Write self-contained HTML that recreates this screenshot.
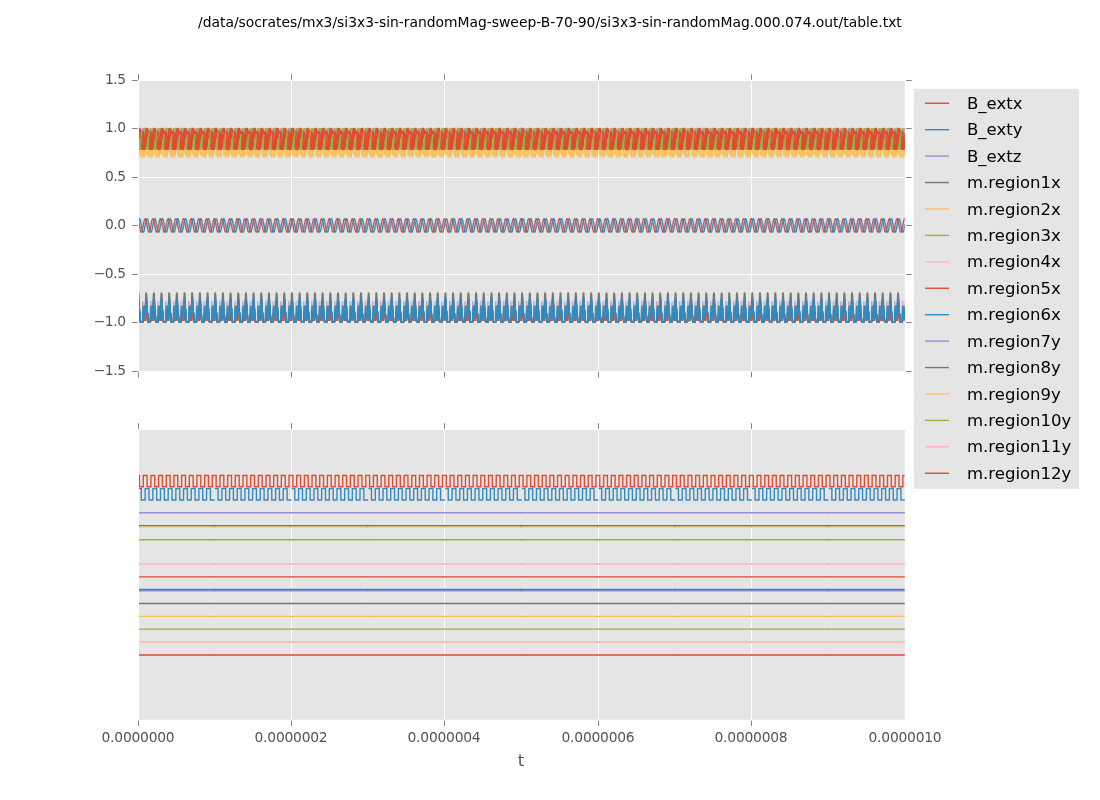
<!DOCTYPE html>
<html><head><meta charset="utf-8"><title>table.txt</title>
<style>html,body{margin:0;padding:0;background:#fff}svg{display:block}text{font-family:"DejaVu Sans","Liberation Sans",sans-serif}</style></head><body>
<svg width="1100" height="800" viewBox="0 0 1100 800">
<rect width="1100" height="800" fill="#fff"/>
<defs><clipPath id="c1"><rect x="139" y="80" width="765.75" height="291"/></clipPath><clipPath id="c2"><rect x="139" y="429" width="765.75" height="291"/></clipPath></defs>
<text x="198" y="26.6" font-size="13.889" textLength="703.8" lengthAdjust="spacing" fill="#000">/data/socrates/mx3/si3x3-sin-randomMag-sweep-B-70-90/si3x3-sin-randomMag.000.074.out/table.txt</text>
<rect x="139" y="81" width="765.75" height="290" fill="#E5E5E5"/>
<rect x="291.0" y="81" width="1" height="290" fill="#fff"/>
<rect x="444.0" y="81" width="1" height="290" fill="#fff"/>
<rect x="598.0" y="81" width="1" height="290" fill="#fff"/>
<rect x="751.0" y="81" width="1" height="290" fill="#fff"/>
<rect x="139" y="128.0" width="765.75" height="1" fill="#fff"/>
<rect x="139" y="177.0" width="765.75" height="1" fill="#fff"/>
<rect x="139" y="225.0" width="765.75" height="1" fill="#fff"/>
<rect x="139" y="274.0" width="765.75" height="1" fill="#fff"/>
<rect x="139" y="322.0" width="765.75" height="1" fill="#fff"/>
<rect x="138.0" y="74.25" width="1" height="5.5" fill="#555" fill-opacity="0.72"/>
<rect x="138.0" y="371.75" width="1" height="5.5" fill="#555" fill-opacity="0.72"/>
<rect x="291.0" y="74.25" width="1" height="5.5" fill="#555" fill-opacity="0.72"/>
<rect x="291.0" y="371.75" width="1" height="5.5" fill="#555" fill-opacity="0.72"/>
<rect x="444.0" y="74.25" width="1" height="5.5" fill="#555" fill-opacity="0.72"/>
<rect x="444.0" y="371.75" width="1" height="5.5" fill="#555" fill-opacity="0.72"/>
<rect x="598.0" y="74.25" width="1" height="5.5" fill="#555" fill-opacity="0.72"/>
<rect x="598.0" y="371.75" width="1" height="5.5" fill="#555" fill-opacity="0.72"/>
<rect x="751.0" y="74.25" width="1" height="5.5" fill="#555" fill-opacity="0.72"/>
<rect x="751.0" y="371.75" width="1" height="5.5" fill="#555" fill-opacity="0.72"/>
<rect x="132.1" y="80.0" width="5.6" height="1" fill="#555" fill-opacity="0.72"/>
<rect x="906.1" y="80.0" width="5.6" height="1" fill="#555" fill-opacity="0.72"/>
<rect x="132.1" y="128.0" width="5.6" height="1" fill="#555" fill-opacity="0.72"/>
<rect x="906.1" y="128.0" width="5.6" height="1" fill="#555" fill-opacity="0.72"/>
<rect x="132.1" y="177.0" width="5.6" height="1" fill="#555" fill-opacity="0.72"/>
<rect x="906.1" y="177.0" width="5.6" height="1" fill="#555" fill-opacity="0.72"/>
<rect x="132.1" y="225.0" width="5.6" height="1" fill="#555" fill-opacity="0.72"/>
<rect x="906.1" y="225.0" width="5.6" height="1" fill="#555" fill-opacity="0.72"/>
<rect x="132.1" y="274.0" width="5.6" height="1" fill="#555" fill-opacity="0.72"/>
<rect x="906.1" y="274.0" width="5.6" height="1" fill="#555" fill-opacity="0.72"/>
<rect x="132.1" y="322.0" width="5.6" height="1" fill="#555" fill-opacity="0.72"/>
<rect x="906.1" y="322.0" width="5.6" height="1" fill="#555" fill-opacity="0.72"/>
<rect x="132.1" y="371.0" width="5.6" height="1" fill="#555" fill-opacity="0.72"/>
<rect x="906.1" y="371.0" width="5.6" height="1" fill="#555" fill-opacity="0.72"/>
<text x="125.6" y="83.6" font-size="13.889" text-anchor="end" letter-spacing="-0.45" fill="#555">1.5</text>
<text x="125.6" y="131.6" font-size="13.889" text-anchor="end" letter-spacing="-0.45" fill="#555">1.0</text>
<text x="125.6" y="180.6" font-size="13.889" text-anchor="end" letter-spacing="-0.45" fill="#555">0.5</text>
<text x="125.6" y="228.6" font-size="13.889" text-anchor="end" letter-spacing="-0.45" fill="#555">0.0</text>
<text x="125.6" y="277.6" font-size="13.889" text-anchor="end" letter-spacing="-0.45" fill="#555">−0.5</text>
<text x="125.6" y="325.6" font-size="13.889" text-anchor="end" letter-spacing="-0.45" fill="#555">−1.0</text>
<text x="125.6" y="374.6" font-size="13.889" text-anchor="end" letter-spacing="-0.45" fill="#555">−1.5</text>
<rect x="139" y="430" width="765.75" height="289.75" fill="#E5E5E5"/>
<rect x="291.0" y="430" width="1" height="289.75" fill="#fff"/>
<rect x="444.0" y="430" width="1" height="289.75" fill="#fff"/>
<rect x="598.0" y="430" width="1" height="289.75" fill="#fff"/>
<rect x="751.0" y="430" width="1" height="289.75" fill="#fff"/>
<rect x="138.0" y="423.25" width="1" height="5.5" fill="#555" fill-opacity="0.72"/>
<rect x="138.0" y="720.5" width="1" height="5.5" fill="#555" fill-opacity="0.72"/>
<rect x="291.0" y="423.25" width="1" height="5.5" fill="#555" fill-opacity="0.72"/>
<rect x="291.0" y="720.5" width="1" height="5.5" fill="#555" fill-opacity="0.72"/>
<rect x="444.0" y="423.25" width="1" height="5.5" fill="#555" fill-opacity="0.72"/>
<rect x="444.0" y="720.5" width="1" height="5.5" fill="#555" fill-opacity="0.72"/>
<rect x="598.0" y="423.25" width="1" height="5.5" fill="#555" fill-opacity="0.72"/>
<rect x="598.0" y="720.5" width="1" height="5.5" fill="#555" fill-opacity="0.72"/>
<rect x="751.0" y="423.25" width="1" height="5.5" fill="#555" fill-opacity="0.72"/>
<rect x="751.0" y="720.5" width="1" height="5.5" fill="#555" fill-opacity="0.72"/>
<text x="101.5" y="742.3" font-size="13.889" textLength="73.2" lengthAdjust="spacing" fill="#555">0.0000000</text>
<text x="254.5" y="742.3" font-size="13.889" textLength="73.2" lengthAdjust="spacing" fill="#555">0.0000002</text>
<text x="407.5" y="742.3" font-size="13.889" textLength="73.2" lengthAdjust="spacing" fill="#555">0.0000004</text>
<text x="561.5" y="742.3" font-size="13.889" textLength="73.2" lengthAdjust="spacing" fill="#555">0.0000006</text>
<text x="714.5" y="742.3" font-size="13.889" textLength="73.2" lengthAdjust="spacing" fill="#555">0.0000008</text>
<text x="868.5" y="742.3" font-size="13.889" textLength="73.2" lengthAdjust="spacing" fill="#555">0.0000010</text>
<text x="521" y="765.5" font-size="16.667" text-anchor="middle" fill="#555">t</text>
<defs><path id="p0" d="M-0.2 218.8L0 218.7L0.2 218.8L0.5 219.2L0.7 219.8L1 220.7L1.2 221.7L1.4 222.9L1.7 224.1L1.9 225.4L2.2 226.8L2.4 228L2.6 229.2L2.9 230.2L3.1 231.1L3.4 231.7L3.6 232.1L3.8 232.2L4.1 232.1L4.3 231.7L4.6 231.1L4.8 230.2L5 229.2L5.3 228L5.5 226.8L5.8 225.4L6 224.1L6.2 222.9L6.5 221.7L6.7 220.7L7 219.8L7.2 219.2L7.4 218.8L7.7 218.7L7.9 218.8L8.2 219.2L8.4 219.8L8.6 220.7L8.9 221.7L9.1 222.9L9.4 224.1L9.6 225.4L9.8 226.8L10.1 228L10.3 229.2L10.5 230.2L10.8 231.1L11 231.7L11.3 232.1L11.5 232.2L11.7 232.1L12 231.7L12.2 231.1L12.5 230.2L12.7 229.2L12.9 228L13.2 226.8L13.4 225.4L13.7 224.1L13.9 222.9L14.1 221.7L14.4 220.7L14.6 219.8L14.9 219.2L15.1 218.8L15.3 218.7L15.6 218.8L15.8 219.2L16.1 219.8L16.3 220.7L16.5 221.7L16.8 222.9L17 224.1L17.3 225.4L17.5 226.8L17.7 228L18 229.2L18.2 230.2L18.5 231.1L18.7 231.7L18.9 232.1L19.2 232.2L19.4 232.1L19.7 231.7L19.9 231.1L20.1 230.2L20.4 229.2L20.6 228L20.9 226.8L21.1 225.5L21.3 224.1L21.6 222.9L21.8 221.7L22.1 220.7L22.3 219.8L22.5 219.2L22.8 218.8L23 218.7L23.3 218.8L23.5 219.2L23.7 219.8L24 220.7L24.2 221.7L24.5 222.9L24.7 224.1L24.9 225.4L25.2 226.8L25.4 228L25.7 229.2L25.9 230.2L26.1 231.1L26.4 231.7L26.6 232.1L26.9 232.2L27.1 232.1L27.3 231.7L27.6 231.1L27.8 230.2L28.1 229.2L28.3 228L28.5 226.8L28.8 225.5L29 224.1L29.3 222.9L29.5 221.7L29.7 220.7L30 219.8L30.2 219.2L30.5 218.8L30.7 218.7L30.9 218.8L31.2 219.2L31.4 219.8L31.6 220.7L31.9 221.7L32.1 222.9L32.4 224.1L32.6 225.4L32.8 226.8L33.1 228L33.3 229.2L33.6 230.2L33.8 231.1L34 231.7L34.3 232.1L34.5 232.2L34.8 232.1L35 231.7L35.2 231.1L35.5 230.2L35.7 229.2L36 228L36.2 226.8L36.4 225.5L36.7 224.1L36.9 222.9L37.2 221.7L37.4 220.7L37.6 219.8L37.9 219.2L38.1 218.8L38.4 218.7L38.6 218.8L38.8 219.2L39.1 219.8L39.3 220.7L39.6 221.7L39.8 222.9L40 224.1L40.3 225.4L40.5 226.8L40.8 228L41 229.2L41.2 230.2L41.5 231.1L41.7 231.7L42 232.1L42.2 232.2L42.4 232.1L42.7 231.7L42.9 231.1L43.2 230.2L43.4 229.2L43.6 228L43.9 226.8L44.1 225.5L44.4 224.1L44.6 222.9L44.8 221.7L45.1 220.7L45.3 219.8L45.6 219.2L45.8 218.8L46 218.7L46.3 218.8L46.5 219.2L46.8 219.8L47 220.7L47.2 221.7L47.5 222.9L47.7 224.1L48 225.4L48.2 226.8L48.4 228L48.7 229.2L48.9 230.2L49.2 231.1L49.4 231.7L49.6 232.1L49.9 232.2L50.1 232.1L50.4 231.7L50.6 231.1L50.8 230.2L51.1 229.2L51.3 228L51.5 226.8L51.8 225.5L52 224.1L52.3 222.9L52.5 221.7L52.7 220.7L53 219.8L53.2 219.2L53.5 218.8L53.7 218.7L53.9 218.8L54.2 219.2L54.4 219.8L54.7 220.7L54.9 221.7L55.1 222.9L55.4 224.1L55.6 225.4L55.9 226.8L56.1 228L56.3 229.2L56.6 230.2L56.8 231.1L57.1 231.7L57.3 232.1L57.5 232.2L57.8 232.1L58 231.7L58.3 231.1L58.5 230.2L58.7 229.2L59 228L59.2 226.8L59.5 225.5L59.7 224.1L59.9 222.9L60.2 221.7L60.4 220.7L60.7 219.8L60.9 219.2L61.1 218.8L61.4 218.7L61.6 218.8L61.9 219.2L62.1 219.8L62.3 220.7L62.6 221.7L62.8 222.9L63.1 224.1L63.3 225.4L63.5 226.8L63.8 228L64 229.2L64.3 230.2L64.5 231.1L64.7 231.7L65 232.1L65.2 232.2L65.5 232.1L65.7 231.7L65.9 231.1L66.2 230.2L66.4 229.2L66.7 228L66.9 226.8L67.1 225.5L67.4 224.1L67.6 222.9L67.9 221.7L68.1 220.7L68.3 219.8L68.6 219.2L68.8 218.8L69.1 218.7L69.3 218.8L69.5 219.2L69.8 219.8L70 220.7L70.3 221.7L70.5 222.9L70.7 224.1L71 225.4L71.2 226.8L71.5 228L71.7 229.2L71.9 230.2L72.2 231.1L72.4 231.7L72.6 232.1L72.9 232.2L73.1 232.1L73.4 231.7L73.6 231.1L73.8 230.2L74.1 229.2L74.3 228L74.6 226.8L74.8 225.5L75 224.1L75.3 222.9L75.5 221.7L75.8 220.7L76 219.8L76.2 219.2L76.5 218.8L76.7 218.7L77 218.8"/><path id="p1" d="M-0.2 226.8L0 225.4L0.2 224.1L0.5 222.9L0.7 221.7L1 220.7L1.2 219.8L1.4 219.2L1.7 218.8L1.9 218.7L2.2 218.8L2.4 219.2L2.6 219.8L2.9 220.7L3.1 221.7L3.4 222.9L3.6 224.1L3.8 225.4L4.1 226.8L4.3 228L4.6 229.2L4.8 230.2L5 231.1L5.3 231.7L5.5 232.1L5.8 232.2L6 232.1L6.2 231.7L6.5 231.1L6.7 230.2L7 229.2L7.2 228L7.4 226.8L7.7 225.4L7.9 224.1L8.2 222.9L8.4 221.7L8.6 220.7L8.9 219.8L9.1 219.2L9.4 218.8L9.6 218.7L9.8 218.8L10.1 219.2L10.3 219.8L10.5 220.7L10.8 221.7L11 222.9L11.3 224.1L11.5 225.4L11.7 226.8L12 228L12.2 229.2L12.5 230.2L12.7 231.1L12.9 231.7L13.2 232.1L13.4 232.2L13.7 232.1L13.9 231.7L14.1 231.1L14.4 230.2L14.6 229.2L14.9 228L15.1 226.8L15.3 225.4L15.6 224.1L15.8 222.9L16.1 221.7L16.3 220.7L16.5 219.8L16.8 219.2L17 218.8L17.3 218.7L17.5 218.8L17.7 219.2L18 219.8L18.2 220.7L18.5 221.7L18.7 222.9L18.9 224.1L19.2 225.4L19.4 226.8L19.7 228L19.9 229.2L20.1 230.2L20.4 231.1L20.6 231.7L20.9 232.1L21.1 232.2L21.3 232.1L21.6 231.7L21.8 231.1L22.1 230.2L22.3 229.2L22.5 228L22.8 226.8L23 225.4L23.3 224.1L23.5 222.9L23.7 221.7L24 220.7L24.2 219.8L24.5 219.2L24.7 218.8L24.9 218.7L25.2 218.8L25.4 219.2L25.7 219.8L25.9 220.7L26.1 221.7L26.4 222.9L26.6 224.1L26.9 225.4L27.1 226.8L27.3 228L27.6 229.2L27.8 230.2L28.1 231.1L28.3 231.7L28.5 232.1L28.8 232.2L29 232.1L29.3 231.7L29.5 231.1L29.7 230.2L30 229.2L30.2 228L30.5 226.8L30.7 225.4L30.9 224.1L31.2 222.9L31.4 221.7L31.6 220.7L31.9 219.8L32.1 219.2L32.4 218.8L32.6 218.7L32.8 218.8L33.1 219.2L33.3 219.8L33.6 220.7L33.8 221.7L34 222.9L34.3 224.1L34.5 225.4L34.8 226.8L35 228L35.2 229.2L35.5 230.2L35.7 231.1L36 231.7L36.2 232.1L36.4 232.2L36.7 232.1L36.9 231.7L37.2 231.1L37.4 230.2L37.6 229.2L37.9 228L38.1 226.8L38.4 225.4L38.6 224.1L38.8 222.9L39.1 221.7L39.3 220.7L39.6 219.8L39.8 219.2L40 218.8L40.3 218.7L40.5 218.8L40.8 219.2L41 219.8L41.2 220.7L41.5 221.7L41.7 222.9L42 224.1L42.2 225.4L42.4 226.8L42.7 228L42.9 229.2L43.2 230.2L43.4 231.1L43.6 231.7L43.9 232.1L44.1 232.2L44.4 232.1L44.6 231.7L44.8 231.1L45.1 230.2L45.3 229.2L45.6 228L45.8 226.8L46 225.4L46.3 224.1L46.5 222.9L46.8 221.7L47 220.7L47.2 219.8L47.5 219.2L47.7 218.8L48 218.7L48.2 218.8L48.4 219.2L48.7 219.8L48.9 220.7L49.2 221.7L49.4 222.9L49.6 224.1L49.9 225.4L50.1 226.8L50.4 228L50.6 229.2L50.8 230.2L51.1 231.1L51.3 231.7L51.5 232.1L51.8 232.2L52 232.1L52.3 231.7L52.5 231.1L52.7 230.2L53 229.2L53.2 228L53.5 226.8L53.7 225.4L53.9 224.1L54.2 222.9L54.4 221.7L54.7 220.7L54.9 219.8L55.1 219.2L55.4 218.8L55.6 218.7L55.9 218.8L56.1 219.2L56.3 219.8L56.6 220.7L56.8 221.7L57.1 222.9L57.3 224.1L57.5 225.4L57.8 226.8L58 228L58.3 229.2L58.5 230.2L58.7 231.1L59 231.7L59.2 232.1L59.5 232.2L59.7 232.1L59.9 231.7L60.2 231.1L60.4 230.2L60.7 229.2L60.9 228L61.1 226.8L61.4 225.4L61.6 224.1L61.9 222.9L62.1 221.7L62.3 220.7L62.6 219.8L62.8 219.2L63.1 218.8L63.3 218.7L63.5 218.8L63.8 219.2L64 219.8L64.3 220.7L64.5 221.7L64.7 222.9L65 224.1L65.2 225.4L65.5 226.8L65.7 228L65.9 229.2L66.2 230.2L66.4 231.1L66.7 231.7L66.9 232.1L67.1 232.2L67.4 232.1L67.6 231.7L67.9 231.1L68.1 230.2L68.3 229.2L68.6 228L68.8 226.8L69.1 225.5L69.3 224.1L69.5 222.9L69.8 221.7L70 220.7L70.3 219.8L70.5 219.2L70.7 218.8L71 218.7L71.2 218.8L71.5 219.2L71.7 219.8L71.9 220.7L72.2 221.7L72.4 222.9L72.6 224.1L72.9 225.4L73.1 226.8L73.4 228L73.6 229.2L73.8 230.2L74.1 231.1L74.3 231.7L74.6 232.1L74.8 232.2L75 232.1L75.3 231.7L75.5 231.1L75.8 230.2L76 229.2L76.2 228L76.5 226.8L76.7 225.5L77 224.1"/><path id="p2" d="M-0.2 225.4L0 225.4L0.2 225.4L0.5 225.4L0.7 225.4L1 225.4L1.2 225.4L1.4 225.4L1.7 225.4L1.9 225.4L2.2 225.4L2.4 225.4L2.6 225.4L2.9 225.4L3.1 225.4L3.4 225.4L3.6 225.4L3.8 225.4L4.1 225.4L4.3 225.4L4.6 225.4L4.8 225.4L5 225.4L5.3 225.4L5.5 225.4L5.8 225.4L6 225.4L6.2 225.4L6.5 225.4L6.7 225.4L7 225.4L7.2 225.4L7.4 225.4L7.7 225.4L7.9 225.4L8.2 225.4L8.4 225.4L8.6 225.4L8.9 225.4L9.1 225.4L9.4 225.4L9.6 225.4L9.8 225.4L10.1 225.4L10.3 225.4L10.5 225.4L10.8 225.4L11 225.4L11.3 225.4L11.5 225.4L11.7 225.4L12 225.4L12.2 225.4L12.5 225.4L12.7 225.4L12.9 225.4L13.2 225.4L13.4 225.4L13.7 225.4L13.9 225.4L14.1 225.4L14.4 225.4L14.6 225.4L14.9 225.4L15.1 225.4L15.3 225.4L15.6 225.4L15.8 225.4L16.1 225.4L16.3 225.4L16.5 225.4L16.8 225.4L17 225.4L17.3 225.4L17.5 225.4L17.7 225.4L18 225.4L18.2 225.4L18.5 225.4L18.7 225.4L18.9 225.4L19.2 225.4L19.4 225.4L19.7 225.4L19.9 225.4L20.1 225.4L20.4 225.4L20.6 225.4L20.9 225.4L21.1 225.4L21.3 225.4L21.6 225.4L21.8 225.4L22.1 225.4L22.3 225.4L22.5 225.4L22.8 225.4L23 225.4L23.3 225.4L23.5 225.4L23.7 225.4L24 225.4L24.2 225.4L24.5 225.4L24.7 225.4L24.9 225.4L25.2 225.4L25.4 225.4L25.7 225.4L25.9 225.4L26.1 225.4L26.4 225.4L26.6 225.4L26.9 225.4L27.1 225.4L27.3 225.4L27.6 225.4L27.8 225.4L28.1 225.4L28.3 225.4L28.5 225.4L28.8 225.4L29 225.4L29.3 225.4L29.5 225.4L29.7 225.4L30 225.4L30.2 225.4L30.5 225.4L30.7 225.4L30.9 225.4L31.2 225.4L31.4 225.4L31.6 225.4L31.9 225.4L32.1 225.4L32.4 225.4L32.6 225.4L32.8 225.4L33.1 225.4L33.3 225.4L33.6 225.4L33.8 225.4L34 225.4L34.3 225.4L34.5 225.4L34.8 225.4L35 225.4L35.2 225.4L35.5 225.4L35.7 225.4L36 225.4L36.2 225.4L36.4 225.4L36.7 225.4L36.9 225.4L37.2 225.4L37.4 225.4L37.6 225.4L37.9 225.4L38.1 225.4L38.4 225.4L38.6 225.4L38.8 225.4L39.1 225.4L39.3 225.4L39.6 225.4L39.8 225.4L40 225.4L40.3 225.4L40.5 225.4L40.8 225.4L41 225.4L41.2 225.4L41.5 225.4L41.7 225.4L42 225.4L42.2 225.4L42.4 225.4L42.7 225.4L42.9 225.4L43.2 225.4L43.4 225.4L43.6 225.4L43.9 225.4L44.1 225.4L44.4 225.4L44.6 225.4L44.8 225.4L45.1 225.4L45.3 225.4L45.6 225.4L45.8 225.4L46 225.4L46.3 225.4L46.5 225.4L46.8 225.4L47 225.4L47.2 225.4L47.5 225.4L47.7 225.4L48 225.4L48.2 225.4L48.4 225.4L48.7 225.4L48.9 225.4L49.2 225.4L49.4 225.4L49.6 225.4L49.9 225.4L50.1 225.4L50.4 225.4L50.6 225.4L50.8 225.4L51.1 225.4L51.3 225.4L51.5 225.4L51.8 225.4L52 225.4L52.3 225.4L52.5 225.4L52.7 225.4L53 225.4L53.2 225.4L53.5 225.4L53.7 225.4L53.9 225.4L54.2 225.4L54.4 225.4L54.7 225.4L54.9 225.4L55.1 225.4L55.4 225.4L55.6 225.4L55.9 225.4L56.1 225.4L56.3 225.4L56.6 225.4L56.8 225.4L57.1 225.4L57.3 225.4L57.5 225.4L57.8 225.4L58 225.4L58.3 225.4L58.5 225.4L58.7 225.4L59 225.4L59.2 225.4L59.5 225.4L59.7 225.4L59.9 225.4L60.2 225.4L60.4 225.4L60.7 225.4L60.9 225.4L61.1 225.4L61.4 225.4L61.6 225.4L61.9 225.4L62.1 225.4L62.3 225.4L62.6 225.4L62.8 225.4L63.1 225.4L63.3 225.4L63.5 225.4L63.8 225.4L64 225.4L64.3 225.4L64.5 225.4L64.7 225.4L65 225.4L65.2 225.4L65.5 225.4L65.7 225.4L65.9 225.4L66.2 225.4L66.4 225.4L66.7 225.4L66.9 225.4L67.1 225.4L67.4 225.4L67.6 225.4L67.9 225.4L68.1 225.4L68.3 225.4L68.6 225.4L68.8 225.4L69.1 225.4L69.3 225.4L69.5 225.4L69.8 225.4L70 225.4L70.3 225.4L70.5 225.4L70.7 225.4L71 225.4L71.2 225.4L71.5 225.4L71.7 225.4L71.9 225.4L72.2 225.4L72.4 225.4L72.6 225.4L72.9 225.4L73.1 225.4L73.4 225.4L73.6 225.4L73.8 225.4L74.1 225.4L74.3 225.4L74.6 225.4L74.8 225.4L75 225.4L75.3 225.4L75.5 225.4L75.8 225.4L76 225.4L76.2 225.4L76.5 225.4L76.7 225.4L77 225.4"/><path id="p3" d="M-0.2 138.2L0 138.2L0.2 138.2L0.5 138.2L0.7 138.2L1 138.2L1.2 138.2L1.4 141.8L1.7 150.4L1.9 155L2.2 155L2.4 155L2.6 155L2.9 155L3.1 155L3.4 156.3L3.6 156.9L3.8 156.9L4.1 156.9L4.3 156.9L4.6 156.9L4.8 156.9L5 156.9L5.3 156.9L5.5 156.9L5.8 156.9L6 156.9L6.2 156.9L6.5 156.9L6.7 156.8L7 150.3L7.2 140.9L7.4 138.2L7.7 138.2L7.9 138.2L8.2 138.2L8.4 138.2L8.6 138.2L8.9 138.2L9.1 141.8L9.4 150.4L9.6 155L9.8 155L10.1 155L10.3 155L10.5 155L10.8 155L11 156.3L11.3 156.9L11.5 156.9L11.7 156.9L12 156.9L12.2 156.9L12.5 156.9L12.7 156.9L12.9 156.9L13.2 156.9L13.4 156.9L13.7 156.9L13.9 156.9L14.1 156.9L14.4 156.8L14.6 150.3L14.9 140.9L15.1 138.2L15.3 138.2L15.6 138.2L15.8 138.2L16.1 138.2L16.3 138.2L16.5 138.2L16.8 141.8L17 150.4L17.3 155L17.5 155L17.7 155L18 155L18.2 155L18.5 155L18.7 156.3L18.9 156.9L19.2 156.9L19.4 156.9L19.7 156.9L19.9 156.9L20.1 156.9L20.4 156.9L20.6 156.9L20.9 156.9L21.1 156.9L21.3 156.9L21.6 156.9L21.8 156.9L22.1 156.8L22.3 150.3L22.5 140.9L22.8 138.2L23 138.2L23.3 138.2L23.5 138.2L23.7 138.2L24 138.2L24.2 138.2L24.5 141.8L24.7 150.4L24.9 155L25.2 155L25.4 155L25.7 155L25.9 155L26.1 155L26.4 156.3L26.6 156.9L26.9 156.9L27.1 156.9L27.3 156.9L27.6 156.9L27.8 156.9L28.1 156.9L28.3 156.9L28.5 156.9L28.8 156.9L29 156.9L29.3 156.9L29.5 156.9L29.7 156.8L30 150.3L30.2 140.9L30.5 138.2L30.7 138.2L30.9 138.2L31.2 138.2L31.4 138.2L31.6 138.2L31.9 138.2L32.1 141.8L32.4 150.4L32.6 155L32.8 155L33.1 155L33.3 155L33.6 155L33.8 155L34 156.3L34.3 156.9L34.5 156.9L34.8 156.9L35 156.9L35.2 156.9L35.5 156.9L35.7 156.9L36 156.9L36.2 156.9L36.4 156.9L36.7 156.9L36.9 156.9L37.2 156.9L37.4 156.8L37.6 150.3L37.9 140.9L38.1 138.2L38.4 138.2L38.6 138.2L38.8 138.2L39.1 138.2L39.3 138.2L39.6 138.2L39.8 141.8L40 150.4L40.3 155L40.5 155L40.8 155L41 155L41.2 155L41.5 155L41.7 156.3L42 156.9L42.2 156.9L42.4 156.9L42.7 156.9L42.9 156.9L43.2 156.9L43.4 156.9L43.6 156.9L43.9 156.9L44.1 156.9L44.4 156.9L44.6 156.9L44.8 156.9L45.1 156.8L45.3 150.3L45.6 140.9L45.8 138.2L46 138.2L46.3 138.2L46.5 138.2L46.8 138.2L47 138.2L47.2 138.2L47.5 141.8L47.7 150.4L48 155L48.2 155L48.4 155L48.7 155L48.9 155L49.2 155L49.4 156.3L49.6 156.9L49.9 156.9L50.1 156.9L50.4 156.9L50.6 156.9L50.8 156.9L51.1 156.9L51.3 156.9L51.5 156.9L51.8 156.9L52 156.9L52.3 156.9L52.5 156.9L52.7 156.8L53 150.3L53.2 140.9L53.5 138.2L53.7 138.2L53.9 138.2L54.2 138.2L54.4 138.2L54.7 138.2L54.9 138.2L55.1 141.8L55.4 150.4L55.6 155L55.9 155L56.1 155L56.3 155L56.6 155L56.8 155L57.1 156.3L57.3 156.9L57.5 156.9L57.8 156.9L58 156.9L58.3 156.9L58.5 156.9L58.7 156.9L59 156.9L59.2 156.9L59.5 156.9L59.7 156.9L59.9 156.9L60.2 156.9L60.4 156.8L60.7 150.3L60.9 140.9L61.1 138.2L61.4 138.2L61.6 138.2L61.9 138.2L62.1 138.2L62.3 138.2L62.6 138.2L62.8 141.8L63.1 150.4L63.3 155L63.5 155L63.8 155L64 155L64.3 155L64.5 155L64.7 156.3L65 156.9L65.2 156.9L65.5 156.9L65.7 156.9L65.9 156.9L66.2 156.9L66.4 156.9L66.7 156.9L66.9 156.9L67.1 156.9L67.4 156.9L67.6 156.9L67.9 156.9L68.1 156.8L68.3 150.3L68.6 140.9L68.8 138.2L69.1 138.2L69.3 138.2L69.5 138.2L69.8 138.2L70 138.2L70.3 138.2L70.5 141.8L70.7 150.4L71 155L71.2 155L71.5 155L71.7 155L71.9 155L72.2 155L72.4 156.3L72.6 156.9L72.9 156.9L73.1 156.9L73.4 156.9L73.6 156.9L73.8 156.9L74.1 156.9L74.3 156.9L74.6 156.9L74.8 156.9L75 156.9L75.3 156.9L75.5 156.9L75.8 156.8L76 150.3L76.2 140.9L76.5 138.2L76.7 138.2L77 138.2"/><path id="p4" d="M-0.2 138.2L0 138.2L0.2 138.2L0.5 138.2L0.7 138.2L1 138.2L1.2 138.2L1.4 141.5L1.7 149.5L1.9 153.6L2.2 153.6L2.4 153.6L2.6 153.6L2.9 153.6L3.1 153.7L3.4 155L3.6 155.6L3.8 155.6L4.1 155.6L4.3 155.6L4.6 155.6L4.8 155.6L5 155.6L5.3 155.6L5.5 155.6L5.8 155.6L6 155.6L6.2 155.6L6.5 155.6L6.7 155.5L7 149.5L7.2 140.7L7.4 138.2L7.7 138.2L7.9 138.2L8.2 138.2L8.4 138.2L8.6 138.2L8.9 138.2L9.1 141.5L9.4 149.5L9.6 153.6L9.8 153.6L10.1 153.6L10.3 153.6L10.5 153.6L10.8 153.7L11 155L11.3 155.6L11.5 155.6L11.7 155.6L12 155.6L12.2 155.6L12.5 155.6L12.7 155.6L12.9 155.6L13.2 155.6L13.4 155.6L13.7 155.6L13.9 155.6L14.1 155.6L14.4 155.5L14.6 149.5L14.9 140.7L15.1 138.2L15.3 138.2L15.6 138.2L15.8 138.2L16.1 138.2L16.3 138.2L16.5 138.2L16.8 141.5L17 149.5L17.3 153.6L17.5 153.6L17.7 153.6L18 153.6L18.2 153.6L18.5 153.7L18.7 155L18.9 155.6L19.2 155.6L19.4 155.6L19.7 155.6L19.9 155.6L20.1 155.6L20.4 155.6L20.6 155.6L20.9 155.6L21.1 155.6L21.3 155.6L21.6 155.6L21.8 155.6L22.1 155.5L22.3 149.5L22.5 140.7L22.8 138.2L23 138.2L23.3 138.2L23.5 138.2L23.7 138.2L24 138.2L24.2 138.2L24.5 141.5L24.7 149.5L24.9 153.6L25.2 153.6L25.4 153.6L25.7 153.6L25.9 153.6L26.1 153.7L26.4 155L26.6 155.6L26.9 155.6L27.1 155.6L27.3 155.6L27.6 155.6L27.8 155.6L28.1 155.6L28.3 155.6L28.5 155.6L28.8 155.6L29 155.6L29.3 155.6L29.5 155.6L29.7 155.5L30 149.5L30.2 140.7L30.5 138.2L30.7 138.2L30.9 138.2L31.2 138.2L31.4 138.2L31.6 138.2L31.9 138.2L32.1 141.5L32.4 149.5L32.6 153.6L32.8 153.6L33.1 153.6L33.3 153.6L33.6 153.6L33.8 153.7L34 155L34.3 155.6L34.5 155.6L34.8 155.6L35 155.6L35.2 155.6L35.5 155.6L35.7 155.6L36 155.6L36.2 155.6L36.4 155.6L36.7 155.6L36.9 155.6L37.2 155.6L37.4 155.5L37.6 149.5L37.9 140.7L38.1 138.2L38.4 138.2L38.6 138.2L38.8 138.2L39.1 138.2L39.3 138.2L39.6 138.2L39.8 141.5L40 149.5L40.3 153.6L40.5 153.6L40.8 153.6L41 153.6L41.2 153.6L41.5 153.7L41.7 155L42 155.6L42.2 155.6L42.4 155.6L42.7 155.6L42.9 155.6L43.2 155.6L43.4 155.6L43.6 155.6L43.9 155.6L44.1 155.6L44.4 155.6L44.6 155.6L44.8 155.6L45.1 155.5L45.3 149.5L45.6 140.7L45.8 138.2L46 138.2L46.3 138.2L46.5 138.2L46.8 138.2L47 138.2L47.2 138.2L47.5 141.5L47.7 149.5L48 153.6L48.2 153.6L48.4 153.6L48.7 153.6L48.9 153.6L49.2 153.7L49.4 155L49.6 155.6L49.9 155.6L50.1 155.6L50.4 155.6L50.6 155.6L50.8 155.6L51.1 155.6L51.3 155.6L51.5 155.6L51.8 155.6L52 155.6L52.3 155.6L52.5 155.6L52.7 155.5L53 149.5L53.2 140.7L53.5 138.2L53.7 138.2L53.9 138.2L54.2 138.2L54.4 138.2L54.7 138.2L54.9 138.2L55.1 141.5L55.4 149.5L55.6 153.6L55.9 153.6L56.1 153.6L56.3 153.6L56.6 153.6L56.8 153.7L57.1 155L57.3 155.6L57.5 155.6L57.8 155.6L58 155.6L58.3 155.6L58.5 155.6L58.7 155.6L59 155.6L59.2 155.6L59.5 155.6L59.7 155.6L59.9 155.6L60.2 155.6L60.4 155.5L60.7 149.5L60.9 140.7L61.1 138.2L61.4 138.2L61.6 138.2L61.9 138.2L62.1 138.2L62.3 138.2L62.6 138.2L62.8 141.5L63.1 149.5L63.3 153.6L63.5 153.6L63.8 153.6L64 153.6L64.3 153.6L64.5 153.7L64.7 155L65 155.6L65.2 155.6L65.5 155.6L65.7 155.6L65.9 155.6L66.2 155.6L66.4 155.6L66.7 155.6L66.9 155.6L67.1 155.6L67.4 155.6L67.6 155.6L67.9 155.6L68.1 155.5L68.3 149.5L68.6 140.7L68.8 138.2L69.1 138.2L69.3 138.2L69.5 138.2L69.8 138.2L70 138.2L70.3 138.2L70.5 141.5L70.7 149.5L71 153.6L71.2 153.6L71.5 153.6L71.7 153.6L71.9 153.6L72.2 153.7L72.4 155L72.6 155.6L72.9 155.6L73.1 155.6L73.4 155.6L73.6 155.6L73.8 155.6L74.1 155.6L74.3 155.6L74.6 155.6L74.8 155.6L75 155.6L75.3 155.6L75.5 155.6L75.8 155.5L76 149.5L76.2 140.7L76.5 138.2L76.7 138.2L77 138.2"/><path id="p5" d="M-0.2 138.2L0 138.2L0.2 138.2L0.5 138.2L0.7 138.2L1 138.2L1.2 138.2L1.4 141.2L1.7 148.5L1.9 152.3L2.2 152.3L2.4 152.3L2.6 152.3L2.9 152.3L3.1 152.4L3.4 153.7L3.6 154.3L3.8 154.3L4.1 154.3L4.3 154.3L4.6 154.3L4.8 154.3L5 154.3L5.3 154.3L5.5 154.3L5.8 154.3L6 154.3L6.2 154.3L6.5 154.3L6.7 154.2L7 148.6L7.2 140.5L7.4 138.2L7.7 138.2L7.9 138.2L8.2 138.2L8.4 138.2L8.6 138.2L8.9 138.2L9.1 141.2L9.4 148.5L9.6 152.3L9.8 152.3L10.1 152.3L10.3 152.3L10.5 152.3L10.8 152.4L11 153.7L11.3 154.3L11.5 154.3L11.7 154.3L12 154.3L12.2 154.3L12.5 154.3L12.7 154.3L12.9 154.3L13.2 154.3L13.4 154.3L13.7 154.3L13.9 154.3L14.1 154.3L14.4 154.2L14.6 148.6L14.9 140.5L15.1 138.2L15.3 138.2L15.6 138.2L15.8 138.2L16.1 138.2L16.3 138.2L16.5 138.2L16.8 141.2L17 148.5L17.3 152.3L17.5 152.3L17.7 152.3L18 152.3L18.2 152.3L18.5 152.4L18.7 153.7L18.9 154.3L19.2 154.3L19.4 154.3L19.7 154.3L19.9 154.3L20.1 154.3L20.4 154.3L20.6 154.3L20.9 154.3L21.1 154.3L21.3 154.3L21.6 154.3L21.8 154.3L22.1 154.2L22.3 148.6L22.5 140.5L22.8 138.2L23 138.2L23.3 138.2L23.5 138.2L23.7 138.2L24 138.2L24.2 138.2L24.5 141.2L24.7 148.5L24.9 152.3L25.2 152.3L25.4 152.3L25.7 152.3L25.9 152.3L26.1 152.4L26.4 153.7L26.6 154.3L26.9 154.3L27.1 154.3L27.3 154.3L27.6 154.3L27.8 154.3L28.1 154.3L28.3 154.3L28.5 154.3L28.8 154.3L29 154.3L29.3 154.3L29.5 154.3L29.7 154.2L30 148.6L30.2 140.5L30.5 138.2L30.7 138.2L30.9 138.2L31.2 138.2L31.4 138.2L31.6 138.2L31.9 138.2L32.1 141.2L32.4 148.5L32.6 152.3L32.8 152.3L33.1 152.3L33.3 152.3L33.6 152.3L33.8 152.4L34 153.7L34.3 154.3L34.5 154.3L34.8 154.3L35 154.3L35.2 154.3L35.5 154.3L35.7 154.3L36 154.3L36.2 154.3L36.4 154.3L36.7 154.3L36.9 154.3L37.2 154.3L37.4 154.2L37.6 148.6L37.9 140.5L38.1 138.2L38.4 138.2L38.6 138.2L38.8 138.2L39.1 138.2L39.3 138.2L39.6 138.2L39.8 141.2L40 148.5L40.3 152.3L40.5 152.3L40.8 152.3L41 152.3L41.2 152.3L41.5 152.4L41.7 153.7L42 154.3L42.2 154.3L42.4 154.3L42.7 154.3L42.9 154.3L43.2 154.3L43.4 154.3L43.6 154.3L43.9 154.3L44.1 154.3L44.4 154.3L44.6 154.3L44.8 154.3L45.1 154.2L45.3 148.6L45.6 140.5L45.8 138.2L46 138.2L46.3 138.2L46.5 138.2L46.8 138.2L47 138.2L47.2 138.2L47.5 141.2L47.7 148.5L48 152.3L48.2 152.3L48.4 152.3L48.7 152.3L48.9 152.3L49.2 152.4L49.4 153.7L49.6 154.3L49.9 154.3L50.1 154.3L50.4 154.3L50.6 154.3L50.8 154.3L51.1 154.3L51.3 154.3L51.5 154.3L51.8 154.3L52 154.3L52.3 154.3L52.5 154.3L52.7 154.2L53 148.6L53.2 140.5L53.5 138.2L53.7 138.2L53.9 138.2L54.2 138.2L54.4 138.2L54.7 138.2L54.9 138.2L55.1 141.2L55.4 148.5L55.6 152.3L55.9 152.3L56.1 152.3L56.3 152.3L56.6 152.3L56.8 152.4L57.1 153.7L57.3 154.3L57.5 154.3L57.8 154.3L58 154.3L58.3 154.3L58.5 154.3L58.7 154.3L59 154.3L59.2 154.3L59.5 154.3L59.7 154.3L59.9 154.3L60.2 154.3L60.4 154.2L60.7 148.6L60.9 140.5L61.1 138.2L61.4 138.2L61.6 138.2L61.9 138.2L62.1 138.2L62.3 138.2L62.6 138.2L62.8 141.2L63.1 148.5L63.3 152.3L63.5 152.3L63.8 152.3L64 152.3L64.3 152.3L64.5 152.4L64.7 153.7L65 154.3L65.2 154.3L65.5 154.3L65.7 154.3L65.9 154.3L66.2 154.3L66.4 154.3L66.7 154.3L66.9 154.3L67.1 154.3L67.4 154.3L67.6 154.3L67.9 154.3L68.1 154.2L68.3 148.6L68.6 140.5L68.8 138.2L69.1 138.2L69.3 138.2L69.5 138.2L69.8 138.2L70 138.2L70.3 138.2L70.5 141.2L70.7 148.5L71 152.3L71.2 152.3L71.5 152.3L71.7 152.3L71.9 152.3L72.2 152.4L72.4 153.7L72.6 154.3L72.9 154.3L73.1 154.3L73.4 154.3L73.6 154.3L73.8 154.3L74.1 154.3L74.3 154.3L74.6 154.3L74.8 154.3L75 154.3L75.3 154.3L75.5 154.3L75.8 154.2L76 148.6L76.2 140.5L76.5 138.2L76.7 138.2L77 138.2"/><path id="p6" d="M-0.2 138.2L0 138.2L0.2 138.2L0.5 138.2L0.7 138.2L1 138.2L1.2 138.2L1.4 140.9L1.7 147.6L1.9 151L2.2 151L2.4 151L2.6 151L2.9 151L3.1 151.1L3.4 152.4L3.6 153L3.8 153L4.1 153L4.3 153L4.6 153L4.8 153L5 153L5.3 153L5.5 153L5.8 153L6 153L6.2 153L6.5 153L6.7 152.9L7 147.8L7.2 140.3L7.4 138.2L7.7 138.2L7.9 138.2L8.2 138.2L8.4 138.2L8.6 138.2L8.9 138.2L9.1 140.9L9.4 147.6L9.6 151L9.8 151L10.1 151L10.3 151L10.5 151L10.8 151.1L11 152.4L11.3 153L11.5 153L11.7 153L12 153L12.2 153L12.5 153L12.7 153L12.9 153L13.2 153L13.4 153L13.7 153L13.9 153L14.1 153L14.4 152.9L14.6 147.8L14.9 140.3L15.1 138.2L15.3 138.2L15.6 138.2L15.8 138.2L16.1 138.2L16.3 138.2L16.5 138.2L16.8 140.9L17 147.6L17.3 151L17.5 151L17.7 151L18 151L18.2 151L18.5 151.1L18.7 152.4L18.9 153L19.2 153L19.4 153L19.7 153L19.9 153L20.1 153L20.4 153L20.6 153L20.9 153L21.1 153L21.3 153L21.6 153L21.8 153L22.1 152.9L22.3 147.8L22.5 140.3L22.8 138.2L23 138.2L23.3 138.2L23.5 138.2L23.7 138.2L24 138.2L24.2 138.2L24.5 140.9L24.7 147.6L24.9 151L25.2 151L25.4 151L25.7 151L25.9 151L26.1 151.1L26.4 152.4L26.6 153L26.9 153L27.1 153L27.3 153L27.6 153L27.8 153L28.1 153L28.3 153L28.5 153L28.8 153L29 153L29.3 153L29.5 153L29.7 152.9L30 147.8L30.2 140.3L30.5 138.2L30.7 138.2L30.9 138.2L31.2 138.2L31.4 138.2L31.6 138.2L31.9 138.2L32.1 140.9L32.4 147.6L32.6 151L32.8 151L33.1 151L33.3 151L33.6 151L33.8 151.1L34 152.4L34.3 153L34.5 153L34.8 153L35 153L35.2 153L35.5 153L35.7 153L36 153L36.2 153L36.4 153L36.7 153L36.9 153L37.2 153L37.4 152.9L37.6 147.8L37.9 140.3L38.1 138.2L38.4 138.2L38.6 138.2L38.8 138.2L39.1 138.2L39.3 138.2L39.6 138.2L39.8 140.9L40 147.6L40.3 151L40.5 151L40.8 151L41 151L41.2 151L41.5 151.1L41.7 152.4L42 153L42.2 153L42.4 153L42.7 153L42.9 153L43.2 153L43.4 153L43.6 153L43.9 153L44.1 153L44.4 153L44.6 153L44.8 153L45.1 152.9L45.3 147.8L45.6 140.3L45.8 138.2L46 138.2L46.3 138.2L46.5 138.2L46.8 138.2L47 138.2L47.2 138.2L47.5 140.9L47.7 147.6L48 151L48.2 151L48.4 151L48.7 151L48.9 151L49.2 151.1L49.4 152.4L49.6 153L49.9 153L50.1 153L50.4 153L50.6 153L50.8 153L51.1 153L51.3 153L51.5 153L51.8 153L52 153L52.3 153L52.5 153L52.7 152.9L53 147.8L53.2 140.3L53.5 138.2L53.7 138.2L53.9 138.2L54.2 138.2L54.4 138.2L54.7 138.2L54.9 138.2L55.1 140.9L55.4 147.6L55.6 151L55.9 151L56.1 151L56.3 151L56.6 151L56.8 151.1L57.1 152.4L57.3 153L57.5 153L57.8 153L58 153L58.3 153L58.5 153L58.7 153L59 153L59.2 153L59.5 153L59.7 153L59.9 153L60.2 153L60.4 152.9L60.7 147.8L60.9 140.3L61.1 138.2L61.4 138.2L61.6 138.2L61.9 138.2L62.1 138.2L62.3 138.2L62.6 138.2L62.8 140.9L63.1 147.6L63.3 151L63.5 151L63.8 151L64 151L64.3 151L64.5 151.1L64.7 152.4L65 153L65.2 153L65.5 153L65.7 153L65.9 153L66.2 153L66.4 153L66.7 153L66.9 153L67.1 153L67.4 153L67.6 153L67.9 153L68.1 152.9L68.3 147.8L68.6 140.3L68.8 138.2L69.1 138.2L69.3 138.2L69.5 138.2L69.8 138.2L70 138.2L70.3 138.2L70.5 140.9L70.7 147.6L71 151L71.2 151L71.5 151L71.7 151L71.9 151L72.2 151.1L72.4 152.4L72.6 153L72.9 153L73.1 153L73.4 153L73.6 153L73.8 153L74.1 153L74.3 153L74.6 153L74.8 153L75 153L75.3 153L75.5 153L75.8 152.9L76 147.8L76.2 140.3L76.5 138.2L76.7 138.2L77 138.2"/><path id="p7" d="M-0.2 138.2L0 138.2L0.2 138.2L0.5 138.2L0.7 138.2L1 138.2L1.2 138.2L1.4 140.6L1.7 146.6L1.9 149.7L2.2 149.7L2.4 149.7L2.6 149.7L2.9 149.7L3.1 149.8L3.4 151.1L3.6 151.7L3.8 151.7L4.1 151.7L4.3 151.7L4.6 151.7L4.8 151.7L5 151.7L5.3 151.7L5.5 151.7L5.8 151.7L6 151.7L6.2 151.7L6.5 151.7L6.7 151.6L7 146.9L7.2 140.2L7.4 138.2L7.7 138.2L7.9 138.2L8.2 138.2L8.4 138.2L8.6 138.2L8.9 138.2L9.1 140.6L9.4 146.6L9.6 149.7L9.8 149.7L10.1 149.7L10.3 149.7L10.5 149.7L10.8 149.8L11 151.1L11.3 151.7L11.5 151.7L11.7 151.7L12 151.7L12.2 151.7L12.5 151.7L12.7 151.7L12.9 151.7L13.2 151.7L13.4 151.7L13.7 151.7L13.9 151.7L14.1 151.7L14.4 151.6L14.6 146.9L14.9 140.2L15.1 138.2L15.3 138.2L15.6 138.2L15.8 138.2L16.1 138.2L16.3 138.2L16.5 138.2L16.8 140.6L17 146.6L17.3 149.7L17.5 149.7L17.7 149.7L18 149.7L18.2 149.7L18.5 149.8L18.7 151.1L18.9 151.7L19.2 151.7L19.4 151.7L19.7 151.7L19.9 151.7L20.1 151.7L20.4 151.7L20.6 151.7L20.9 151.7L21.1 151.7L21.3 151.7L21.6 151.7L21.8 151.7L22.1 151.6L22.3 146.9L22.5 140.2L22.8 138.2L23 138.2L23.3 138.2L23.5 138.2L23.7 138.2L24 138.2L24.2 138.2L24.5 140.6L24.7 146.6L24.9 149.7L25.2 149.7L25.4 149.7L25.7 149.7L25.9 149.7L26.1 149.8L26.4 151.1L26.6 151.7L26.9 151.7L27.1 151.7L27.3 151.7L27.6 151.7L27.8 151.7L28.1 151.7L28.3 151.7L28.5 151.7L28.8 151.7L29 151.7L29.3 151.7L29.5 151.7L29.7 151.6L30 146.9L30.2 140.2L30.5 138.2L30.7 138.2L30.9 138.2L31.2 138.2L31.4 138.2L31.6 138.2L31.9 138.2L32.1 140.6L32.4 146.6L32.6 149.7L32.8 149.7L33.1 149.7L33.3 149.7L33.6 149.7L33.8 149.8L34 151.1L34.3 151.7L34.5 151.7L34.8 151.7L35 151.7L35.2 151.7L35.5 151.7L35.7 151.7L36 151.7L36.2 151.7L36.4 151.7L36.7 151.7L36.9 151.7L37.2 151.7L37.4 151.6L37.6 146.9L37.9 140.2L38.1 138.2L38.4 138.2L38.6 138.2L38.8 138.2L39.1 138.2L39.3 138.2L39.6 138.2L39.8 140.6L40 146.6L40.3 149.7L40.5 149.7L40.8 149.7L41 149.7L41.2 149.7L41.5 149.8L41.7 151.1L42 151.7L42.2 151.7L42.4 151.7L42.7 151.7L42.9 151.7L43.2 151.7L43.4 151.7L43.6 151.7L43.9 151.7L44.1 151.7L44.4 151.7L44.6 151.7L44.8 151.7L45.1 151.6L45.3 146.9L45.6 140.2L45.8 138.2L46 138.2L46.3 138.2L46.5 138.2L46.8 138.2L47 138.2L47.2 138.2L47.5 140.6L47.7 146.6L48 149.7L48.2 149.7L48.4 149.7L48.7 149.7L48.9 149.7L49.2 149.8L49.4 151.1L49.6 151.7L49.9 151.7L50.1 151.7L50.4 151.7L50.6 151.7L50.8 151.7L51.1 151.7L51.3 151.7L51.5 151.7L51.8 151.7L52 151.7L52.3 151.7L52.5 151.7L52.7 151.6L53 146.9L53.2 140.2L53.5 138.2L53.7 138.2L53.9 138.2L54.2 138.2L54.4 138.2L54.7 138.2L54.9 138.2L55.1 140.6L55.4 146.6L55.6 149.7L55.9 149.7L56.1 149.7L56.3 149.7L56.6 149.7L56.8 149.8L57.1 151.1L57.3 151.7L57.5 151.7L57.8 151.7L58 151.7L58.3 151.7L58.5 151.7L58.7 151.7L59 151.7L59.2 151.7L59.5 151.7L59.7 151.7L59.9 151.7L60.2 151.7L60.4 151.6L60.7 146.9L60.9 140.2L61.1 138.2L61.4 138.2L61.6 138.2L61.9 138.2L62.1 138.2L62.3 138.2L62.6 138.2L62.8 140.6L63.1 146.6L63.3 149.7L63.5 149.7L63.8 149.7L64 149.7L64.3 149.7L64.5 149.8L64.7 151.1L65 151.7L65.2 151.7L65.5 151.7L65.7 151.7L65.9 151.7L66.2 151.7L66.4 151.7L66.7 151.7L66.9 151.7L67.1 151.7L67.4 151.7L67.6 151.7L67.9 151.7L68.1 151.6L68.3 146.9L68.6 140.2L68.8 138.2L69.1 138.2L69.3 138.2L69.5 138.2L69.8 138.2L70 138.2L70.3 138.2L70.5 140.6L70.7 146.6L71 149.7L71.2 149.7L71.5 149.7L71.7 149.7L71.9 149.7L72.2 149.8L72.4 151.1L72.6 151.7L72.9 151.7L73.1 151.7L73.4 151.7L73.6 151.7L73.8 151.7L74.1 151.7L74.3 151.7L74.6 151.7L74.8 151.7L75 151.7L75.3 151.7L75.5 151.7L75.8 151.6L76 146.9L76.2 140.2L76.5 138.2L76.7 138.2L77 138.2"/><path id="p8" d="M-0.2 138.2L0 138.2L0.2 138.2L0.5 138.2L0.7 138.2L1 138.2L1.2 138.2L1.4 140.4L1.7 145.7L1.9 148.4L2.2 148.4L2.4 148.4L2.6 148.4L2.9 148.4L3.1 148.5L3.4 149.7L3.6 150.3L3.8 150.3L4.1 150.3L4.3 150.3L4.6 150.3L4.8 150.3L5 150.3L5.3 150.3L5.5 150.3L5.8 150.3L6 150.3L6.2 150.3L6.5 150.3L6.7 150.3L7 146.1L7.2 140L7.4 138.2L7.7 138.2L7.9 138.2L8.2 138.2L8.4 138.2L8.6 138.2L8.9 138.2L9.1 140.4L9.4 145.7L9.6 148.4L9.8 148.4L10.1 148.4L10.3 148.4L10.5 148.4L10.8 148.5L11 149.7L11.3 150.3L11.5 150.3L11.7 150.3L12 150.3L12.2 150.3L12.5 150.3L12.7 150.3L12.9 150.3L13.2 150.3L13.4 150.3L13.7 150.3L13.9 150.3L14.1 150.3L14.4 150.3L14.6 146.1L14.9 140L15.1 138.2L15.3 138.2L15.6 138.2L15.8 138.2L16.1 138.2L16.3 138.2L16.5 138.2L16.8 140.4L17 145.7L17.3 148.4L17.5 148.4L17.7 148.4L18 148.4L18.2 148.4L18.5 148.5L18.7 149.7L18.9 150.3L19.2 150.3L19.4 150.3L19.7 150.3L19.9 150.3L20.1 150.3L20.4 150.3L20.6 150.3L20.9 150.3L21.1 150.3L21.3 150.3L21.6 150.3L21.8 150.3L22.1 150.3L22.3 146.1L22.5 140L22.8 138.2L23 138.2L23.3 138.2L23.5 138.2L23.7 138.2L24 138.2L24.2 138.2L24.5 140.4L24.7 145.7L24.9 148.4L25.2 148.4L25.4 148.4L25.7 148.4L25.9 148.4L26.1 148.5L26.4 149.7L26.6 150.3L26.9 150.3L27.1 150.3L27.3 150.3L27.6 150.3L27.8 150.3L28.1 150.3L28.3 150.3L28.5 150.3L28.8 150.3L29 150.3L29.3 150.3L29.5 150.3L29.7 150.3L30 146.1L30.2 140L30.5 138.2L30.7 138.2L30.9 138.2L31.2 138.2L31.4 138.2L31.6 138.2L31.9 138.2L32.1 140.4L32.4 145.7L32.6 148.4L32.8 148.4L33.1 148.4L33.3 148.4L33.6 148.4L33.8 148.5L34 149.7L34.3 150.3L34.5 150.3L34.8 150.3L35 150.3L35.2 150.3L35.5 150.3L35.7 150.3L36 150.3L36.2 150.3L36.4 150.3L36.7 150.3L36.9 150.3L37.2 150.3L37.4 150.3L37.6 146.1L37.9 140L38.1 138.2L38.4 138.2L38.6 138.2L38.8 138.2L39.1 138.2L39.3 138.2L39.6 138.2L39.8 140.4L40 145.7L40.3 148.4L40.5 148.4L40.8 148.4L41 148.4L41.2 148.4L41.5 148.5L41.7 149.7L42 150.3L42.2 150.3L42.4 150.3L42.7 150.3L42.9 150.3L43.2 150.3L43.4 150.3L43.6 150.3L43.9 150.3L44.1 150.3L44.4 150.3L44.6 150.3L44.8 150.3L45.1 150.3L45.3 146.1L45.6 140L45.8 138.2L46 138.2L46.3 138.2L46.5 138.2L46.8 138.2L47 138.2L47.2 138.2L47.5 140.4L47.7 145.7L48 148.4L48.2 148.4L48.4 148.4L48.7 148.4L48.9 148.4L49.2 148.5L49.4 149.7L49.6 150.3L49.9 150.3L50.1 150.3L50.4 150.3L50.6 150.3L50.8 150.3L51.1 150.3L51.3 150.3L51.5 150.3L51.8 150.3L52 150.3L52.3 150.3L52.5 150.3L52.7 150.3L53 146.1L53.2 140L53.5 138.2L53.7 138.2L53.9 138.2L54.2 138.2L54.4 138.2L54.7 138.2L54.9 138.2L55.1 140.4L55.4 145.7L55.6 148.4L55.9 148.4L56.1 148.4L56.3 148.4L56.6 148.4L56.8 148.5L57.1 149.7L57.3 150.3L57.5 150.3L57.8 150.3L58 150.3L58.3 150.3L58.5 150.3L58.7 150.3L59 150.3L59.2 150.3L59.5 150.3L59.7 150.3L59.9 150.3L60.2 150.3L60.4 150.3L60.7 146.1L60.9 140L61.1 138.2L61.4 138.2L61.6 138.2L61.9 138.2L62.1 138.2L62.3 138.2L62.6 138.2L62.8 140.4L63.1 145.7L63.3 148.4L63.5 148.4L63.8 148.4L64 148.4L64.3 148.4L64.5 148.5L64.7 149.7L65 150.3L65.2 150.3L65.5 150.3L65.7 150.3L65.9 150.3L66.2 150.3L66.4 150.3L66.7 150.3L66.9 150.3L67.1 150.3L67.4 150.3L67.6 150.3L67.9 150.3L68.1 150.3L68.3 146.1L68.6 140L68.8 138.2L69.1 138.2L69.3 138.2L69.5 138.2L69.8 138.2L70 138.2L70.3 138.2L70.5 140.4L70.7 145.7L71 148.4L71.2 148.4L71.5 148.4L71.7 148.4L71.9 148.4L72.2 148.5L72.4 149.7L72.6 150.3L72.9 150.3L73.1 150.3L73.4 150.3L73.6 150.3L73.8 150.3L74.1 150.3L74.3 150.3L74.6 150.3L74.8 150.3L75 150.3L75.3 150.3L75.5 150.3L75.8 150.3L76 146.1L76.2 140L76.5 138.2L76.7 138.2L77 138.2"/><path id="p9" d="M-0.2 136.6L0 135.1L0.2 133.7L0.5 132.4L0.7 131.3L1 130.3L1.2 129.5L1.4 128.9L1.7 128.6L1.9 128.5L2.2 128.8L2.4 129.8L2.6 131.4L2.9 133.4L3.1 135.8L3.4 138.4L3.6 140.9L3.8 143.3L4.1 145.2L4.3 146.7L4.6 147.6L4.8 147.9L5 147.7L5.3 147.3L5.5 146.7L5.8 145.9L6 144.9L6.2 143.7L6.5 142.4L6.7 141L7 139.6L7.2 138.1L7.4 136.6L7.7 135.1L7.9 133.7L8.2 132.4L8.4 131.3L8.6 130.3L8.9 129.5L9.1 128.9L9.4 128.6L9.6 128.5L9.8 128.8L10.1 129.8L10.3 131.4L10.5 133.4L10.8 135.8L11 138.4L11.3 140.9L11.5 143.3L11.7 145.2L12 146.7L12.2 147.6L12.5 147.9L12.7 147.7L12.9 147.3L13.2 146.7L13.4 145.9L13.7 144.9L13.9 143.7L14.1 142.4L14.4 141L14.6 139.6L14.9 138.1L15.1 136.6L15.3 135.1L15.6 133.7L15.8 132.4L16.1 131.3L16.3 130.3L16.5 129.5L16.8 128.9L17 128.6L17.3 128.5L17.5 128.8L17.7 129.8L18 131.4L18.2 133.4L18.5 135.8L18.7 138.4L18.9 140.9L19.2 143.3L19.4 145.2L19.7 146.7L19.9 147.6L20.1 147.9L20.4 147.7L20.6 147.3L20.9 146.7L21.1 145.9L21.3 144.9L21.6 143.7L21.8 142.4L22.1 141L22.3 139.6L22.5 138.1L22.8 136.6L23 135.1L23.3 133.7L23.5 132.4L23.7 131.3L24 130.3L24.2 129.5L24.5 128.9L24.7 128.6L24.9 128.5L25.2 128.8L25.4 129.8L25.7 131.4L25.9 133.4L26.1 135.8L26.4 138.4L26.6 140.9L26.9 143.3L27.1 145.2L27.3 146.7L27.6 147.6L27.8 147.9L28.1 147.7L28.3 147.3L28.5 146.7L28.8 145.9L29 144.9L29.3 143.7L29.5 142.4L29.7 141L30 139.6L30.2 138.1L30.5 136.6L30.7 135.1L30.9 133.7L31.2 132.4L31.4 131.3L31.6 130.3L31.9 129.5L32.1 128.9L32.4 128.6L32.6 128.5L32.8 128.8L33.1 129.8L33.3 131.4L33.6 133.4L33.8 135.8L34 138.4L34.3 140.9L34.5 143.3L34.8 145.2L35 146.7L35.2 147.6L35.5 147.9L35.7 147.7L36 147.3L36.2 146.7L36.4 145.9L36.7 144.9L36.9 143.7L37.2 142.4L37.4 141L37.6 139.6L37.9 138.1L38.1 136.6L38.4 135.1L38.6 133.7L38.8 132.4L39.1 131.3L39.3 130.3L39.6 129.5L39.8 128.9L40 128.6L40.3 128.5L40.5 128.8L40.8 129.8L41 131.4L41.2 133.4L41.5 135.8L41.7 138.4L42 140.9L42.2 143.3L42.4 145.2L42.7 146.7L42.9 147.6L43.2 147.9L43.4 147.7L43.6 147.3L43.9 146.7L44.1 145.9L44.4 144.9L44.6 143.7L44.8 142.4L45.1 141L45.3 139.6L45.6 138.1L45.8 136.6L46 135.1L46.3 133.7L46.5 132.4L46.8 131.3L47 130.3L47.2 129.5L47.5 128.9L47.7 128.6L48 128.5L48.2 128.8L48.4 129.8L48.7 131.4L48.9 133.4L49.2 135.8L49.4 138.4L49.6 140.9L49.9 143.3L50.1 145.2L50.4 146.7L50.6 147.6L50.8 147.9L51.1 147.7L51.3 147.3L51.5 146.7L51.8 145.9L52 144.9L52.3 143.7L52.5 142.4L52.7 141L53 139.6L53.2 138.1L53.5 136.6L53.7 135.1L53.9 133.7L54.2 132.4L54.4 131.3L54.7 130.3L54.9 129.5L55.1 128.9L55.4 128.6L55.6 128.5L55.9 128.8L56.1 129.8L56.3 131.4L56.6 133.4L56.8 135.8L57.1 138.4L57.3 140.9L57.5 143.3L57.8 145.2L58 146.7L58.3 147.6L58.5 147.9L58.7 147.7L59 147.3L59.2 146.7L59.5 145.9L59.7 144.9L59.9 143.7L60.2 142.4L60.4 141L60.7 139.6L60.9 138.1L61.1 136.6L61.4 135.1L61.6 133.7L61.9 132.4L62.1 131.3L62.3 130.3L62.6 129.5L62.8 128.9L63.1 128.6L63.3 128.5L63.5 128.8L63.8 129.8L64 131.4L64.3 133.4L64.5 135.8L64.7 138.4L65 140.9L65.2 143.3L65.5 145.2L65.7 146.7L65.9 147.6L66.2 147.9L66.4 147.7L66.7 147.3L66.9 146.7L67.1 145.9L67.4 144.9L67.6 143.7L67.9 142.4L68.1 141L68.3 139.6L68.6 138.1L68.8 136.6L69.1 135.1L69.3 133.7L69.5 132.4L69.8 131.3L70 130.3L70.3 129.5L70.5 128.9L70.7 128.6L71 128.5L71.2 128.8L71.5 129.8L71.7 131.4L71.9 133.4L72.2 135.8L72.4 138.4L72.6 140.9L72.9 143.3L73.1 145.2L73.4 146.7L73.6 147.6L73.8 147.9L74.1 147.7L74.3 147.3L74.6 146.7L74.8 145.9L75 144.9L75.3 143.7L75.5 142.4L75.8 141L76 139.6L76.2 138.1L76.5 136.6L76.7 135.1L77 133.7"/><path id="p10" d="M-0.2 136.8L0 137.3L0.2 137.8L0.5 138.1L0.7 138.2L1 138.1L1.2 137.9L1.4 137.5L1.7 137L1.9 136.4L2.2 135.6L2.4 134.8L2.6 134L2.9 133.1L3.1 132.3L3.4 131.5L3.6 130.9L3.8 130.3L4.1 129.9L4.3 129.6L4.6 129.5L4.8 129.5L5 129.7L5.3 130.1L5.5 130.6L5.8 131.2L6 132L6.2 132.8L6.5 133.6L6.7 134.5L7 135.3L7.2 136.1L7.4 136.8L7.7 137.3L7.9 137.8L8.2 138.1L8.4 138.2L8.6 138.1L8.9 137.9L9.1 137.5L9.4 137L9.6 136.4L9.8 135.6L10.1 134.8L10.3 134L10.5 133.1L10.8 132.3L11 131.5L11.3 130.9L11.5 130.3L11.7 129.9L12 129.6L12.2 129.5L12.5 129.5L12.7 129.7L12.9 130.1L13.2 130.6L13.4 131.2L13.7 132L13.9 132.8L14.1 133.6L14.4 134.5L14.6 135.3L14.9 136.1L15.1 136.8L15.3 137.3L15.6 137.8L15.8 138.1L16.1 138.2L16.3 138.1L16.5 137.9L16.8 137.5L17 137L17.3 136.4L17.5 135.6L17.7 134.8L18 134L18.2 133.1L18.5 132.3L18.7 131.5L18.9 130.9L19.2 130.3L19.4 129.9L19.7 129.6L19.9 129.5L20.1 129.5L20.4 129.7L20.6 130.1L20.9 130.6L21.1 131.2L21.3 132L21.6 132.8L21.8 133.6L22.1 134.5L22.3 135.3L22.5 136.1L22.8 136.8L23 137.3L23.3 137.8L23.5 138.1L23.7 138.2L24 138.1L24.2 137.9L24.5 137.5L24.7 137L24.9 136.4L25.2 135.6L25.4 134.8L25.7 134L25.9 133.1L26.1 132.3L26.4 131.5L26.6 130.9L26.9 130.3L27.1 129.9L27.3 129.6L27.6 129.5L27.8 129.5L28.1 129.7L28.3 130.1L28.5 130.6L28.8 131.2L29 132L29.3 132.8L29.5 133.6L29.7 134.5L30 135.3L30.2 136.1L30.5 136.8L30.7 137.3L30.9 137.8L31.2 138.1L31.4 138.2L31.6 138.1L31.9 137.9L32.1 137.5L32.4 137L32.6 136.4L32.8 135.6L33.1 134.8L33.3 134L33.6 133.1L33.8 132.3L34 131.5L34.3 130.9L34.5 130.3L34.8 129.9L35 129.6L35.2 129.5L35.5 129.5L35.7 129.7L36 130.1L36.2 130.6L36.4 131.2L36.7 132L36.9 132.8L37.2 133.6L37.4 134.5L37.6 135.3L37.9 136.1L38.1 136.8L38.4 137.3L38.6 137.8L38.8 138.1L39.1 138.2L39.3 138.1L39.6 137.9L39.8 137.5L40 137L40.3 136.4L40.5 135.6L40.8 134.8L41 134L41.2 133.1L41.5 132.3L41.7 131.5L42 130.9L42.2 130.3L42.4 129.9L42.7 129.6L42.9 129.5L43.2 129.5L43.4 129.7L43.6 130.1L43.9 130.6L44.1 131.2L44.4 132L44.6 132.8L44.8 133.6L45.1 134.5L45.3 135.3L45.6 136.1L45.8 136.8L46 137.3L46.3 137.8L46.5 138.1L46.8 138.2L47 138.1L47.2 137.9L47.5 137.5L47.7 137L48 136.4L48.2 135.6L48.4 134.8L48.7 134L48.9 133.1L49.2 132.3L49.4 131.5L49.6 130.9L49.9 130.3L50.1 129.9L50.4 129.6L50.6 129.5L50.8 129.5L51.1 129.7L51.3 130.1L51.5 130.6L51.8 131.2L52 132L52.3 132.8L52.5 133.6L52.7 134.5L53 135.3L53.2 136.1L53.5 136.8L53.7 137.3L53.9 137.8L54.2 138.1L54.4 138.2L54.7 138.1L54.9 137.9L55.1 137.5L55.4 137L55.6 136.4L55.9 135.6L56.1 134.8L56.3 134L56.6 133.1L56.8 132.3L57.1 131.5L57.3 130.9L57.5 130.3L57.8 129.9L58 129.6L58.3 129.5L58.5 129.5L58.7 129.7L59 130.1L59.2 130.6L59.5 131.2L59.7 132L59.9 132.8L60.2 133.6L60.4 134.5L60.7 135.3L60.9 136.1L61.1 136.8L61.4 137.3L61.6 137.8L61.9 138.1L62.1 138.2L62.3 138.1L62.6 137.9L62.8 137.5L63.1 137L63.3 136.4L63.5 135.6L63.8 134.8L64 134L64.3 133.1L64.5 132.3L64.7 131.5L65 130.9L65.2 130.3L65.5 129.9L65.7 129.6L65.9 129.5L66.2 129.5L66.4 129.7L66.7 130.1L66.9 130.6L67.1 131.2L67.4 132L67.6 132.8L67.9 133.6L68.1 134.5L68.3 135.3L68.6 136.1L68.8 136.8L69.1 137.3L69.3 137.8L69.5 138.1L69.8 138.2L70 138.1L70.3 137.9L70.5 137.5L70.7 137L71 136.4L71.2 135.6L71.5 134.8L71.7 134L71.9 133.1L72.2 132.3L72.4 131.5L72.6 130.9L72.9 130.3L73.1 129.9L73.4 129.6L73.6 129.5L73.8 129.5L74.1 129.7L74.3 130.1L74.6 130.6L74.8 131.2L75 132L75.3 132.8L75.5 133.6L75.8 134.5L76 135.3L76.2 136.1L76.5 136.8L76.7 137.3L77 137.8"/><path id="p11" d="M-0.2 138.2L0 138.2L0.2 138.2L0.5 138.2L0.7 138.2L1 138.2L1.2 138.2L1.4 138.2L1.7 138.2L1.9 138.2L2.2 138.2L2.4 138.2L2.6 138.2L2.9 138.2L3.1 137.1L3.4 133.6L3.6 130L3.8 128.5L4.1 130L4.3 133.6L4.6 137.1L4.8 138.2L5 138.2L5.3 138.2L5.5 138.2L5.8 138.2L6 138.2L6.2 138.2L6.5 138.2L6.7 138.2L7 138.2L7.2 138.2L7.4 138.2L7.7 138.2L7.9 138.2L8.2 138.2L8.4 138.2L8.6 138.2L8.9 138.2L9.1 138.2L9.4 138.2L9.6 138.2L9.8 138.2L10.1 138.2L10.3 138.2L10.5 138.2L10.8 137.1L11 133.6L11.3 130L11.5 128.5L11.7 130L12 133.6L12.2 137.1L12.5 138.2L12.7 138.2L12.9 138.2L13.2 138.2L13.4 138.2L13.7 138.2L13.9 138.2L14.1 138.2L14.4 138.2L14.6 138.2L14.9 138.2L15.1 138.2L15.3 138.2L15.6 138.2L15.8 138.2L16.1 138.2L16.3 138.2L16.5 138.2L16.8 138.2L17 138.2L17.3 138.2L17.5 138.2L17.7 138.2L18 138.2L18.2 138.2L18.5 137.1L18.7 133.6L18.9 130L19.2 128.5L19.4 130L19.7 133.6L19.9 137.1L20.1 138.2L20.4 138.2L20.6 138.2L20.9 138.2L21.1 138.2L21.3 138.2L21.6 138.2L21.8 138.2L22.1 138.2L22.3 138.2L22.5 138.2L22.8 138.2L23 138.2L23.3 138.2L23.5 138.2L23.7 138.2L24 138.2L24.2 138.2L24.5 138.2L24.7 138.2L24.9 138.2L25.2 138.2L25.4 138.2L25.7 138.2L25.9 138.2L26.1 137.1L26.4 133.6L26.6 130L26.9 128.5L27.1 130L27.3 133.6L27.6 137.1L27.8 138.2L28.1 138.2L28.3 138.2L28.5 138.2L28.8 138.2L29 138.2L29.3 138.2L29.5 138.2L29.7 138.2L30 138.2L30.2 138.2L30.5 138.2L30.7 138.2L30.9 138.2L31.2 138.2L31.4 138.2L31.6 138.2L31.9 138.2L32.1 138.2L32.4 138.2L32.6 138.2L32.8 138.2L33.1 138.2L33.3 138.2L33.6 138.2L33.8 137.1L34 133.6L34.3 130L34.5 128.5L34.8 130L35 133.6L35.2 137.1L35.5 138.2L35.7 138.2L36 138.2L36.2 138.2L36.4 138.2L36.7 138.2L36.9 138.2L37.2 138.2L37.4 138.2L37.6 138.2L37.9 138.2L38.1 138.2L38.4 138.2L38.6 138.2L38.8 138.2L39.1 138.2L39.3 138.2L39.6 138.2L39.8 138.2L40 138.2L40.3 138.2L40.5 138.2L40.8 138.2L41 138.2L41.2 138.2L41.5 137.1L41.7 133.6L42 130L42.2 128.5L42.4 130L42.7 133.6L42.9 137.1L43.2 138.2L43.4 138.2L43.6 138.2L43.9 138.2L44.1 138.2L44.4 138.2L44.6 138.2L44.8 138.2L45.1 138.2L45.3 138.2L45.6 138.2L45.8 138.2L46 138.2L46.3 138.2L46.5 138.2L46.8 138.2L47 138.2L47.2 138.2L47.5 138.2L47.7 138.2L48 138.2L48.2 138.2L48.4 138.2L48.7 138.2L48.9 138.2L49.2 137.1L49.4 133.6L49.6 130L49.9 128.5L50.1 130L50.4 133.6L50.6 137.1L50.8 138.2L51.1 138.2L51.3 138.2L51.5 138.2L51.8 138.2L52 138.2L52.3 138.2L52.5 138.2L52.7 138.2L53 138.2L53.2 138.2L53.5 138.2L53.7 138.2L53.9 138.2L54.2 138.2L54.4 138.2L54.7 138.2L54.9 138.2L55.1 138.2L55.4 138.2L55.6 138.2L55.9 138.2L56.1 138.2L56.3 138.2L56.6 138.2L56.8 137.1L57.1 133.6L57.3 130L57.5 128.5L57.8 130L58 133.6L58.3 137.1L58.5 138.2L58.7 138.2L59 138.2L59.2 138.2L59.5 138.2L59.7 138.2L59.9 138.2L60.2 138.2L60.4 138.2L60.7 138.2L60.9 138.2L61.1 138.2L61.4 138.2L61.6 138.2L61.9 138.2L62.1 138.2L62.3 138.2L62.6 138.2L62.8 138.2L63.1 138.2L63.3 138.2L63.5 138.2L63.8 138.2L64 138.2L64.3 138.2L64.5 137.1L64.7 133.6L65 130L65.2 128.5L65.5 130L65.7 133.6L65.9 137.1L66.2 138.2L66.4 138.2L66.7 138.2L66.9 138.2L67.1 138.2L67.4 138.2L67.6 138.2L67.9 138.2L68.1 138.2L68.3 138.2L68.6 138.2L68.8 138.2L69.1 138.2L69.3 138.2L69.5 138.2L69.8 138.2L70 138.2L70.3 138.2L70.5 138.2L70.7 138.2L71 138.2L71.2 138.2L71.5 138.2L71.7 138.2L71.9 138.2L72.2 137.1L72.4 133.6L72.6 130L72.9 128.5L73.1 130L73.4 133.6L73.6 137.1L73.8 138.2L74.1 138.2L74.3 138.2L74.6 138.2L74.8 138.2L75 138.2L75.3 138.2L75.5 138.2L75.8 138.2L76 138.2L76.2 138.2L76.5 138.2L76.7 138.2L77 138.2"/><path id="p12" d="M-0.2 138.2L0 138.2L0.2 138.2L0.5 138.2L0.7 138.2L1 138.2L1.2 138.2L1.4 138.2L1.7 138.2L1.9 138.2L2.2 138.2L2.4 138.2L2.6 138.2L2.9 138.2L3.1 138.2L3.4 138.2L3.6 138.2L3.8 138.2L4.1 138.2L4.3 138L4.6 135.8L4.8 132.3L5 129.5L5.3 128.8L5.5 128.8L5.8 128.8L6 129.3L6.2 131.7L6.5 134.9L6.7 137.5L7 138.2L7.2 138.2L7.4 138.2L7.7 138.2L7.9 138.2L8.2 138.2L8.4 138.2L8.6 138.2L8.9 138.2L9.1 138.2L9.4 138.2L9.6 138.2L9.8 138.2L10.1 138.2L10.3 138.2L10.5 138.2L10.8 138.2L11 138.2L11.3 138.2L11.5 138.2L11.7 138.2L12 138L12.2 135.8L12.5 132.3L12.7 129.5L12.9 128.8L13.2 128.8L13.4 128.8L13.7 129.3L13.9 131.7L14.1 134.9L14.4 137.5L14.6 138.2L14.9 138.2L15.1 138.2L15.3 138.2L15.6 138.2L15.8 138.2L16.1 138.2L16.3 138.2L16.5 138.2L16.8 138.2L17 138.2L17.3 138.2L17.5 138.2L17.7 138.2L18 138.2L18.2 138.2L18.5 138.2L18.7 138.2L18.9 138.2L19.2 138.2L19.4 138.2L19.7 138L19.9 135.8L20.1 132.3L20.4 129.5L20.6 128.8L20.9 128.8L21.1 128.8L21.3 129.3L21.6 131.7L21.8 134.9L22.1 137.5L22.3 138.2L22.5 138.2L22.8 138.2L23 138.2L23.3 138.2L23.5 138.2L23.7 138.2L24 138.2L24.2 138.2L24.5 138.2L24.7 138.2L24.9 138.2L25.2 138.2L25.4 138.2L25.7 138.2L25.9 138.2L26.1 138.2L26.4 138.2L26.6 138.2L26.9 138.2L27.1 138.2L27.3 138L27.6 135.8L27.8 132.3L28.1 129.5L28.3 128.8L28.5 128.8L28.8 128.8L29 129.3L29.3 131.7L29.5 134.9L29.7 137.5L30 138.2L30.2 138.2L30.5 138.2L30.7 138.2L30.9 138.2L31.2 138.2L31.4 138.2L31.6 138.2L31.9 138.2L32.1 138.2L32.4 138.2L32.6 138.2L32.8 138.2L33.1 138.2L33.3 138.2L33.6 138.2L33.8 138.2L34 138.2L34.3 138.2L34.5 138.2L34.8 138.2L35 138L35.2 135.8L35.5 132.3L35.7 129.5L36 128.8L36.2 128.8L36.4 128.8L36.7 129.3L36.9 131.7L37.2 134.9L37.4 137.5L37.6 138.2L37.9 138.2L38.1 138.2L38.4 138.2L38.6 138.2L38.8 138.2L39.1 138.2L39.3 138.2L39.6 138.2L39.8 138.2L40 138.2L40.3 138.2L40.5 138.2L40.8 138.2L41 138.2L41.2 138.2L41.5 138.2L41.7 138.2L42 138.2L42.2 138.2L42.4 138.2L42.7 138L42.9 135.8L43.2 132.3L43.4 129.5L43.6 128.8L43.9 128.8L44.1 128.8L44.4 129.3L44.6 131.7L44.8 134.9L45.1 137.5L45.3 138.2L45.6 138.2L45.8 138.2L46 138.2L46.3 138.2L46.5 138.2L46.8 138.2L47 138.2L47.2 138.2L47.5 138.2L47.7 138.2L48 138.2L48.2 138.2L48.4 138.2L48.7 138.2L48.9 138.2L49.2 138.2L49.4 138.2L49.6 138.2L49.9 138.2L50.1 138.2L50.4 138L50.6 135.8L50.8 132.3L51.1 129.5L51.3 128.8L51.5 128.8L51.8 128.8L52 129.3L52.3 131.7L52.5 134.9L52.7 137.5L53 138.2L53.2 138.2L53.5 138.2L53.7 138.2L53.9 138.2L54.2 138.2L54.4 138.2L54.7 138.2L54.9 138.2L55.1 138.2L55.4 138.2L55.6 138.2L55.9 138.2L56.1 138.2L56.3 138.2L56.6 138.2L56.8 138.2L57.1 138.2L57.3 138.2L57.5 138.2L57.8 138.2L58 138L58.3 135.8L58.5 132.3L58.7 129.5L59 128.8L59.2 128.8L59.5 128.8L59.7 129.3L59.9 131.7L60.2 134.9L60.4 137.5L60.7 138.2L60.9 138.2L61.1 138.2L61.4 138.2L61.6 138.2L61.9 138.2L62.1 138.2L62.3 138.2L62.6 138.2L62.8 138.2L63.1 138.2L63.3 138.2L63.5 138.2L63.8 138.2L64 138.2L64.3 138.2L64.5 138.2L64.7 138.2L65 138.2L65.2 138.2L65.5 138.2L65.7 138L65.9 135.8L66.2 132.3L66.4 129.5L66.7 128.8L66.9 128.8L67.1 128.8L67.4 129.3L67.6 131.7L67.9 134.9L68.1 137.5L68.3 138.2L68.6 138.2L68.8 138.2L69.1 138.2L69.3 138.2L69.5 138.2L69.8 138.2L70 138.2L70.3 138.2L70.5 138.2L70.7 138.2L71 138.2L71.2 138.2L71.5 138.2L71.7 138.2L71.9 138.2L72.2 138.2L72.4 138.2L72.6 138.2L72.9 138.2L73.1 138.2L73.4 138L73.6 135.8L73.8 132.3L74.1 129.5L74.3 128.8L74.6 128.8L74.8 128.8L75 129.3L75.3 131.7L75.5 134.9L75.8 137.5L76 138.2L76.2 138.2L76.5 138.2L76.7 138.2L77 138.2"/><path id="p13" d="M-0.2 128.8L0 129.9L0.2 131.6L0.5 133.9L0.7 136.5L1 139.4L1.2 142.1L1.4 144.7L1.7 146.8L1.9 148.4L2.2 149.2L2.4 149.2L2.6 147.3L2.9 143.8L3.1 139.5L3.4 135.4L3.6 132.4L3.8 131.4L4.1 131.4L4.3 131.6L4.6 131.8L4.8 132.1L5 132.2L5.3 132.3L5.5 132.3L5.8 132L6 131.4L6.2 130.6L6.5 129.8L6.7 129.1L7 128.7L7.2 128.5L7.4 128.8L7.7 129.9L7.9 131.6L8.2 133.9L8.4 136.5L8.6 139.4L8.9 142.1L9.1 144.7L9.4 146.8L9.6 148.4L9.8 149.2L10.1 149.2L10.3 147.3L10.5 143.8L10.8 139.5L11 135.4L11.3 132.4L11.5 131.4L11.7 131.4L12 131.6L12.2 131.8L12.5 132.1L12.7 132.2L12.9 132.3L13.2 132.3L13.4 132L13.7 131.4L13.9 130.6L14.1 129.8L14.4 129.1L14.6 128.7L14.9 128.5L15.1 128.8L15.3 129.9L15.6 131.6L15.8 133.9L16.1 136.5L16.3 139.4L16.5 142.1L16.8 144.7L17 146.8L17.3 148.4L17.5 149.2L17.7 149.2L18 147.3L18.2 143.8L18.5 139.5L18.7 135.4L18.9 132.4L19.2 131.4L19.4 131.4L19.7 131.6L19.9 131.8L20.1 132.1L20.4 132.2L20.6 132.3L20.9 132.3L21.1 132L21.3 131.4L21.6 130.6L21.8 129.8L22.1 129.1L22.3 128.7L22.5 128.5L22.8 128.8L23 129.9L23.3 131.6L23.5 133.9L23.7 136.5L24 139.4L24.2 142.1L24.5 144.7L24.7 146.8L24.9 148.4L25.2 149.2L25.4 149.2L25.7 147.3L25.9 143.8L26.1 139.5L26.4 135.4L26.6 132.4L26.9 131.4L27.1 131.4L27.3 131.6L27.6 131.8L27.8 132.1L28.1 132.2L28.3 132.3L28.5 132.3L28.8 132L29 131.4L29.3 130.6L29.5 129.8L29.7 129.1L30 128.7L30.2 128.5L30.5 128.8L30.7 129.9L30.9 131.6L31.2 133.9L31.4 136.5L31.6 139.4L31.9 142.1L32.1 144.7L32.4 146.8L32.6 148.4L32.8 149.2L33.1 149.2L33.3 147.3L33.6 143.8L33.8 139.5L34 135.4L34.3 132.4L34.5 131.4L34.8 131.4L35 131.6L35.2 131.8L35.5 132.1L35.7 132.2L36 132.3L36.2 132.3L36.4 132L36.7 131.4L36.9 130.6L37.2 129.8L37.4 129.1L37.6 128.7L37.9 128.5L38.1 128.8L38.4 129.9L38.6 131.6L38.8 133.9L39.1 136.5L39.3 139.4L39.6 142.1L39.8 144.7L40 146.8L40.3 148.4L40.5 149.2L40.8 149.2L41 147.3L41.2 143.8L41.5 139.5L41.7 135.4L42 132.4L42.2 131.4L42.4 131.4L42.7 131.6L42.9 131.8L43.2 132.1L43.4 132.2L43.6 132.3L43.9 132.3L44.1 132L44.4 131.4L44.6 130.6L44.8 129.8L45.1 129.1L45.3 128.7L45.6 128.5L45.8 128.8L46 129.9L46.3 131.6L46.5 133.9L46.8 136.5L47 139.4L47.2 142.1L47.5 144.7L47.7 146.8L48 148.4L48.2 149.2L48.4 149.2L48.7 147.3L48.9 143.8L49.2 139.5L49.4 135.4L49.6 132.4L49.9 131.4L50.1 131.4L50.4 131.6L50.6 131.8L50.8 132.1L51.1 132.2L51.3 132.3L51.5 132.3L51.8 132L52 131.4L52.3 130.6L52.5 129.8L52.7 129.1L53 128.7L53.2 128.5L53.5 128.8L53.7 129.9L53.9 131.6L54.2 133.9L54.4 136.5L54.7 139.4L54.9 142.1L55.1 144.7L55.4 146.8L55.6 148.4L55.9 149.2L56.1 149.2L56.3 147.3L56.6 143.8L56.8 139.5L57.1 135.4L57.3 132.4L57.5 131.4L57.8 131.4L58 131.6L58.3 131.8L58.5 132.1L58.7 132.2L59 132.3L59.2 132.3L59.5 132L59.7 131.4L59.9 130.6L60.2 129.8L60.4 129.1L60.7 128.7L60.9 128.5L61.1 128.8L61.4 129.9L61.6 131.6L61.9 133.9L62.1 136.5L62.3 139.4L62.6 142.1L62.8 144.7L63.1 146.8L63.3 148.4L63.5 149.2L63.8 149.2L64 147.3L64.3 143.8L64.5 139.5L64.7 135.4L65 132.4L65.2 131.4L65.5 131.4L65.7 131.6L65.9 131.8L66.2 132.1L66.4 132.2L66.7 132.3L66.9 132.3L67.1 132L67.4 131.4L67.6 130.6L67.9 129.8L68.1 129.1L68.3 128.7L68.6 128.5L68.8 128.8L69.1 129.9L69.3 131.6L69.5 133.9L69.8 136.5L70 139.4L70.3 142.1L70.5 144.7L70.7 146.8L71 148.4L71.2 149.2L71.5 149.2L71.7 147.3L71.9 143.8L72.2 139.5L72.4 135.4L72.6 132.4L72.9 131.4L73.1 131.4L73.4 131.6L73.6 131.8L73.8 132.1L74.1 132.2L74.3 132.3L74.6 132.3L74.8 132L75 131.4L75.3 130.6L75.5 129.8L75.8 129.1L76 128.7L76.2 128.5L76.5 128.8L76.7 129.9L77 131.6"/><path id="p14" d="M-0.2 128.5L0 128.5L0.2 129.2L0.5 130.6L0.7 132.7L1 135.2L1.2 138.1L1.4 141L1.7 143.7L1.9 146.1L2.2 147.9L2.4 149L2.6 149.3L2.9 148L3.1 144.9L3.4 140.7L3.6 136.4L3.8 133.1L4.1 131.5L4.3 131.4L4.6 131.6L4.8 131.9L5 132.2L5.3 132.3L5.5 132.3L5.8 132.1L6 131.7L6.2 131.1L6.5 130.4L6.7 129.8L7 129.2L7.2 128.8L7.4 128.5L7.7 128.5L7.9 129.2L8.2 130.6L8.4 132.7L8.6 135.2L8.9 138.1L9.1 141L9.4 143.7L9.6 146.1L9.8 147.9L10.1 149L10.3 149.3L10.5 148L10.8 144.9L11 140.7L11.3 136.4L11.5 133.1L11.7 131.5L12 131.4L12.2 131.6L12.5 131.9L12.7 132.2L12.9 132.3L13.2 132.3L13.4 132.1L13.7 131.7L13.9 131.1L14.1 130.4L14.4 129.8L14.6 129.2L14.9 128.8L15.1 128.5L15.3 128.5L15.6 129.2L15.8 130.6L16.1 132.7L16.3 135.2L16.5 138.1L16.8 141L17 143.7L17.3 146.1L17.5 147.9L17.7 149L18 149.3L18.2 148L18.5 144.9L18.7 140.7L18.9 136.4L19.2 133.1L19.4 131.5L19.7 131.4L19.9 131.6L20.1 131.9L20.4 132.2L20.6 132.3L20.9 132.3L21.1 132.1L21.3 131.7L21.6 131.1L21.8 130.4L22.1 129.8L22.3 129.2L22.5 128.8L22.8 128.5L23 128.5L23.3 129.2L23.5 130.6L23.7 132.7L24 135.2L24.2 138.1L24.5 141L24.7 143.7L24.9 146.1L25.2 147.9L25.4 149L25.7 149.3L25.9 148L26.1 144.9L26.4 140.7L26.6 136.4L26.9 133.1L27.1 131.5L27.3 131.4L27.6 131.6L27.8 131.9L28.1 132.2L28.3 132.3L28.5 132.3L28.8 132.1L29 131.7L29.3 131.1L29.5 130.4L29.7 129.8L30 129.2L30.2 128.8L30.5 128.5L30.7 128.5L30.9 129.2L31.2 130.6L31.4 132.7L31.6 135.2L31.9 138.1L32.1 141L32.4 143.7L32.6 146.1L32.8 147.9L33.1 149L33.3 149.3L33.6 148L33.8 144.9L34 140.7L34.3 136.4L34.5 133.1L34.8 131.5L35 131.4L35.2 131.6L35.5 131.9L35.7 132.2L36 132.3L36.2 132.3L36.4 132.1L36.7 131.7L36.9 131.1L37.2 130.4L37.4 129.8L37.6 129.2L37.9 128.8L38.1 128.5L38.4 128.5L38.6 129.2L38.8 130.6L39.1 132.7L39.3 135.2L39.6 138.1L39.8 141L40 143.7L40.3 146.1L40.5 147.9L40.8 149L41 149.3L41.2 148L41.5 144.9L41.7 140.7L42 136.4L42.2 133.1L42.4 131.5L42.7 131.4L42.9 131.6L43.2 131.9L43.4 132.2L43.6 132.3L43.9 132.3L44.1 132.1L44.4 131.7L44.6 131.1L44.8 130.4L45.1 129.8L45.3 129.2L45.6 128.8L45.8 128.5L46 128.5L46.3 129.2L46.5 130.6L46.8 132.7L47 135.2L47.2 138.1L47.5 141L47.7 143.7L48 146.1L48.2 147.9L48.4 149L48.7 149.3L48.9 148L49.2 144.9L49.4 140.7L49.6 136.4L49.9 133.1L50.1 131.5L50.4 131.4L50.6 131.6L50.8 131.9L51.1 132.2L51.3 132.3L51.5 132.3L51.8 132.1L52 131.7L52.3 131.1L52.5 130.4L52.7 129.8L53 129.2L53.2 128.8L53.5 128.5L53.7 128.5L53.9 129.2L54.2 130.6L54.4 132.7L54.7 135.2L54.9 138.1L55.1 141L55.4 143.7L55.6 146.1L55.9 147.9L56.1 149L56.3 149.3L56.6 148L56.8 144.9L57.1 140.7L57.3 136.4L57.5 133.1L57.8 131.5L58 131.4L58.3 131.6L58.5 131.9L58.7 132.2L59 132.3L59.2 132.3L59.5 132.1L59.7 131.7L59.9 131.1L60.2 130.4L60.4 129.8L60.7 129.2L60.9 128.8L61.1 128.5L61.4 128.5L61.6 129.2L61.9 130.6L62.1 132.7L62.3 135.2L62.6 138.1L62.8 141L63.1 143.7L63.3 146.1L63.5 147.9L63.8 149L64 149.3L64.3 148L64.5 144.9L64.7 140.7L65 136.4L65.2 133.1L65.5 131.5L65.7 131.4L65.9 131.6L66.2 131.9L66.4 132.2L66.7 132.3L66.9 132.3L67.1 132.1L67.4 131.7L67.6 131.1L67.9 130.4L68.1 129.8L68.3 129.2L68.6 128.8L68.8 128.5L69.1 128.5L69.3 129.2L69.5 130.6L69.8 132.7L70 135.2L70.3 138.1L70.5 141L70.7 143.7L71 146.1L71.2 147.9L71.5 149L71.7 149.3L71.9 148L72.2 144.9L72.4 140.7L72.6 136.4L72.9 133.1L73.1 131.5L73.4 131.4L73.6 131.6L73.8 131.9L74.1 132.2L74.3 132.3L74.6 132.3L74.8 132.1L75 131.7L75.3 131.1L75.5 130.4L75.8 129.8L76 129.2L76.2 128.8L76.5 128.5L76.7 128.5L77 129.2"/><path id="p15" d="M-0.2 135.2L0 133.7L0.2 132.3L0.5 131.1L0.7 130.1L1 129.3L1.2 128.8L1.4 128.5L1.7 128.6L1.9 129.3L2.2 130.5L2.4 132.3L2.6 134.4L2.9 136.9L3.1 139.4L3.4 141.9L3.6 144.3L3.8 146.3L4.1 147.8L4.3 148.9L4.6 149.3L4.8 149.2L5 148.9L5.3 148.3L5.5 147.4L5.8 146.3L6 145L6.2 143.5L6.5 141.9L6.7 140.3L7 138.6L7.2 136.9L7.4 135.2L7.7 133.7L7.9 132.3L8.2 131.1L8.4 130.1L8.6 129.3L8.9 128.8L9.1 128.5L9.4 128.6L9.6 129.3L9.8 130.5L10.1 132.3L10.3 134.4L10.5 136.9L10.8 139.4L11 141.9L11.3 144.3L11.5 146.3L11.7 147.8L12 148.9L12.2 149.3L12.5 149.2L12.7 148.9L12.9 148.3L13.2 147.4L13.4 146.3L13.7 145L13.9 143.5L14.1 141.9L14.4 140.3L14.6 138.6L14.9 136.9L15.1 135.2L15.3 133.7L15.6 132.3L15.8 131.1L16.1 130.1L16.3 129.3L16.5 128.8L16.8 128.5L17 128.6L17.3 129.3L17.5 130.5L17.7 132.3L18 134.4L18.2 136.9L18.5 139.4L18.7 141.9L18.9 144.3L19.2 146.3L19.4 147.8L19.7 148.9L19.9 149.3L20.1 149.2L20.4 148.9L20.6 148.3L20.9 147.4L21.1 146.3L21.3 145L21.6 143.5L21.8 141.9L22.1 140.3L22.3 138.6L22.5 136.9L22.8 135.2L23 133.7L23.3 132.3L23.5 131.1L23.7 130.1L24 129.3L24.2 128.8L24.5 128.5L24.7 128.6L24.9 129.3L25.2 130.5L25.4 132.3L25.7 134.4L25.9 136.9L26.1 139.4L26.4 141.9L26.6 144.3L26.9 146.3L27.1 147.8L27.3 148.9L27.6 149.3L27.8 149.2L28.1 148.9L28.3 148.3L28.5 147.4L28.8 146.3L29 145L29.3 143.5L29.5 141.9L29.7 140.3L30 138.6L30.2 136.9L30.5 135.2L30.7 133.7L30.9 132.3L31.2 131.1L31.4 130.1L31.6 129.3L31.9 128.8L32.1 128.5L32.4 128.6L32.6 129.3L32.8 130.5L33.1 132.3L33.3 134.4L33.6 136.9L33.8 139.4L34 141.9L34.3 144.3L34.5 146.3L34.8 147.8L35 148.9L35.2 149.3L35.5 149.2L35.7 148.9L36 148.3L36.2 147.4L36.4 146.3L36.7 145L36.9 143.5L37.2 141.9L37.4 140.3L37.6 138.6L37.9 136.9L38.1 135.2L38.4 133.7L38.6 132.3L38.8 131.1L39.1 130.1L39.3 129.3L39.6 128.8L39.8 128.5L40 128.6L40.3 129.3L40.5 130.5L40.8 132.3L41 134.4L41.2 136.9L41.5 139.4L41.7 141.9L42 144.3L42.2 146.3L42.4 147.8L42.7 148.9L42.9 149.3L43.2 149.2L43.4 148.9L43.6 148.3L43.9 147.4L44.1 146.3L44.4 145L44.6 143.5L44.8 141.9L45.1 140.3L45.3 138.6L45.6 136.9L45.8 135.2L46 133.7L46.3 132.3L46.5 131.1L46.8 130.1L47 129.3L47.2 128.8L47.5 128.5L47.7 128.6L48 129.3L48.2 130.5L48.4 132.3L48.7 134.4L48.9 136.9L49.2 139.4L49.4 141.9L49.6 144.3L49.9 146.3L50.1 147.8L50.4 148.9L50.6 149.3L50.8 149.2L51.1 148.9L51.3 148.3L51.5 147.4L51.8 146.3L52 145L52.3 143.5L52.5 141.9L52.7 140.3L53 138.6L53.2 136.9L53.5 135.2L53.7 133.7L53.9 132.3L54.2 131.1L54.4 130.1L54.7 129.3L54.9 128.8L55.1 128.5L55.4 128.6L55.6 129.3L55.9 130.5L56.1 132.3L56.3 134.4L56.6 136.9L56.8 139.4L57.1 141.9L57.3 144.3L57.5 146.3L57.8 147.8L58 148.9L58.3 149.3L58.5 149.2L58.7 148.9L59 148.3L59.2 147.4L59.5 146.3L59.7 145L59.9 143.5L60.2 141.9L60.4 140.3L60.7 138.6L60.9 136.9L61.1 135.2L61.4 133.7L61.6 132.3L61.9 131.1L62.1 130.1L62.3 129.3L62.6 128.8L62.8 128.5L63.1 128.6L63.3 129.3L63.5 130.5L63.8 132.3L64 134.4L64.3 136.9L64.5 139.4L64.7 141.9L65 144.3L65.2 146.3L65.5 147.8L65.7 148.9L65.9 149.3L66.2 149.2L66.4 148.9L66.7 148.3L66.9 147.4L67.1 146.3L67.4 145L67.6 143.5L67.9 141.9L68.1 140.3L68.3 138.6L68.6 136.9L68.8 135.2L69.1 133.7L69.3 132.3L69.5 131.1L69.8 130.1L70 129.3L70.3 128.8L70.5 128.5L70.7 128.6L71 129.3L71.2 130.5L71.5 132.3L71.7 134.4L71.9 136.9L72.2 139.4L72.4 141.9L72.6 144.3L72.9 146.3L73.1 147.8L73.4 148.9L73.6 149.3L73.8 149.2L74.1 148.9L74.3 148.3L74.6 147.4L74.8 146.3L75 145L75.3 143.5L75.5 141.9L75.8 140.3L76 138.6L76.2 136.9L76.5 135.2L76.7 133.7L77 132.3"/><path id="p16" d="M-0.2 141.2L0 139.5L0.2 137.7L0.5 136L0.7 134.3L1 132.8L1.2 131.5L1.4 130.4L1.7 129.5L1.9 128.9L2.2 128.5L2.4 128.5L2.6 129L2.9 130.1L3.1 131.6L3.4 133.5L3.6 135.7L3.8 138.1L4.1 140.6L4.3 142.9L4.6 145L4.8 146.8L5 148.2L5.3 149L5.5 149.3L5.8 149.2L6 148.8L6.2 148L6.5 147.1L6.7 145.9L7 144.5L7.2 142.9L7.4 141.2L7.7 139.5L7.9 137.7L8.2 136L8.4 134.3L8.6 132.8L8.9 131.5L9.1 130.4L9.4 129.5L9.6 128.9L9.8 128.5L10.1 128.5L10.3 129L10.5 130.1L10.8 131.6L11 133.5L11.3 135.7L11.5 138.1L11.7 140.6L12 142.9L12.2 145L12.5 146.8L12.7 148.2L12.9 149L13.2 149.3L13.4 149.2L13.7 148.8L13.9 148L14.1 147.1L14.4 145.9L14.6 144.5L14.9 142.9L15.1 141.2L15.3 139.5L15.6 137.7L15.8 136L16.1 134.3L16.3 132.8L16.5 131.5L16.8 130.4L17 129.5L17.3 128.9L17.5 128.5L17.7 128.5L18 129L18.2 130.1L18.5 131.6L18.7 133.5L18.9 135.7L19.2 138.1L19.4 140.6L19.7 142.9L19.9 145L20.1 146.8L20.4 148.2L20.6 149L20.9 149.3L21.1 149.2L21.3 148.8L21.6 148L21.8 147.1L22.1 145.9L22.3 144.5L22.5 142.9L22.8 141.2L23 139.5L23.3 137.7L23.5 136L23.7 134.3L24 132.8L24.2 131.5L24.5 130.4L24.7 129.5L24.9 128.9L25.2 128.5L25.4 128.5L25.7 129L25.9 130.1L26.1 131.6L26.4 133.5L26.6 135.7L26.9 138.1L27.1 140.6L27.3 142.9L27.6 145L27.8 146.8L28.1 148.2L28.3 149L28.5 149.3L28.8 149.2L29 148.8L29.3 148L29.5 147.1L29.7 145.9L30 144.5L30.2 142.9L30.5 141.2L30.7 139.5L30.9 137.7L31.2 136L31.4 134.3L31.6 132.8L31.9 131.5L32.1 130.4L32.4 129.5L32.6 128.9L32.8 128.5L33.1 128.5L33.3 129L33.6 130.1L33.8 131.6L34 133.5L34.3 135.7L34.5 138.1L34.8 140.6L35 142.9L35.2 145L35.5 146.8L35.7 148.2L36 149L36.2 149.3L36.4 149.2L36.7 148.8L36.9 148L37.2 147.1L37.4 145.9L37.6 144.5L37.9 142.9L38.1 141.2L38.4 139.5L38.6 137.7L38.8 136L39.1 134.3L39.3 132.8L39.6 131.5L39.8 130.4L40 129.5L40.3 128.9L40.5 128.5L40.8 128.5L41 129L41.2 130.1L41.5 131.6L41.7 133.5L42 135.7L42.2 138.1L42.4 140.6L42.7 142.9L42.9 145L43.2 146.8L43.4 148.2L43.6 149L43.9 149.3L44.1 149.2L44.4 148.8L44.6 148L44.8 147.1L45.1 145.9L45.3 144.5L45.6 142.9L45.8 141.2L46 139.5L46.3 137.7L46.5 136L46.8 134.3L47 132.8L47.2 131.5L47.5 130.4L47.7 129.5L48 128.9L48.2 128.5L48.4 128.5L48.7 129L48.9 130.1L49.2 131.6L49.4 133.5L49.6 135.7L49.9 138.1L50.1 140.6L50.4 142.9L50.6 145L50.8 146.8L51.1 148.2L51.3 149L51.5 149.3L51.8 149.2L52 148.8L52.3 148L52.5 147.1L52.7 145.9L53 144.5L53.2 142.9L53.5 141.2L53.7 139.5L53.9 137.7L54.2 136L54.4 134.3L54.7 132.8L54.9 131.5L55.1 130.4L55.4 129.5L55.6 128.9L55.9 128.5L56.1 128.5L56.3 129L56.6 130.1L56.8 131.6L57.1 133.5L57.3 135.7L57.5 138.1L57.8 140.6L58 142.9L58.3 145L58.5 146.8L58.7 148.2L59 149L59.2 149.3L59.5 149.2L59.7 148.8L59.9 148L60.2 147.1L60.4 145.9L60.7 144.5L60.9 142.9L61.1 141.2L61.4 139.5L61.6 137.7L61.9 136L62.1 134.3L62.3 132.8L62.6 131.5L62.8 130.4L63.1 129.5L63.3 128.9L63.5 128.5L63.8 128.5L64 129L64.3 130.1L64.5 131.6L64.7 133.5L65 135.7L65.2 138.1L65.5 140.6L65.7 142.9L65.9 145L66.2 146.8L66.4 148.2L66.7 149L66.9 149.3L67.1 149.2L67.4 148.8L67.6 148L67.9 147.1L68.1 145.9L68.3 144.5L68.6 142.9L68.8 141.2L69.1 139.5L69.3 137.7L69.5 136L69.8 134.3L70 132.8L70.3 131.5L70.5 130.4L70.7 129.5L71 128.9L71.2 128.5L71.5 128.5L71.7 129L71.9 130.1L72.2 131.6L72.4 133.5L72.6 135.7L72.9 138.1L73.1 140.6L73.4 142.9L73.6 145L73.8 146.8L74.1 148.2L74.3 149L74.6 149.3L74.8 149.2L75 148.8L75.3 148L75.5 147.1L75.8 145.9L76 144.5L76.2 142.9L76.5 141.2L76.7 139.5L77 137.7"/><path id="p17" d="M-0.2 145.9L0 144.1L0.2 142.3L0.5 140.6L0.7 139.1L1 138L1.2 137.4L1.4 137.2L1.7 137.1L1.9 136.7L2.2 136.3L2.4 135.7L2.6 135L2.9 134.3L3.1 133.6L3.4 133L3.6 132.5L3.8 132.1L4.1 131.9L4.3 131.9L4.6 132.8L4.8 134.4L5 136.7L5.3 139.5L5.5 142.3L5.8 145L6 147.2L6.2 148.7L6.5 149.3L6.7 149.2L7 148.5L7.2 147.3L7.4 145.9L7.7 144.1L7.9 142.3L8.2 140.6L8.4 139.1L8.6 138L8.9 137.4L9.1 137.2L9.4 137.1L9.6 136.7L9.8 136.3L10.1 135.7L10.3 135L10.5 134.3L10.8 133.6L11 133L11.3 132.5L11.5 132.1L11.7 131.9L12 131.9L12.2 132.8L12.5 134.4L12.7 136.7L12.9 139.5L13.2 142.3L13.4 145L13.7 147.2L13.9 148.7L14.1 149.3L14.4 149.2L14.6 148.5L14.9 147.3L15.1 145.9L15.3 144.1L15.6 142.3L15.8 140.6L16.1 139.1L16.3 138L16.5 137.4L16.8 137.2L17 137.1L17.3 136.7L17.5 136.3L17.7 135.7L18 135L18.2 134.3L18.5 133.6L18.7 133L18.9 132.5L19.2 132.1L19.4 131.9L19.7 131.9L19.9 132.8L20.1 134.4L20.4 136.7L20.6 139.5L20.9 142.3L21.1 145L21.3 147.2L21.6 148.7L21.8 149.3L22.1 149.2L22.3 148.5L22.5 147.3L22.8 145.9L23 144.1L23.3 142.3L23.5 140.6L23.7 139.1L24 138L24.2 137.4L24.5 137.2L24.7 137.1L24.9 136.7L25.2 136.3L25.4 135.7L25.7 135L25.9 134.3L26.1 133.6L26.4 133L26.6 132.5L26.9 132.1L27.1 131.9L27.3 131.9L27.6 132.8L27.8 134.4L28.1 136.7L28.3 139.5L28.5 142.3L28.8 145L29 147.2L29.3 148.7L29.5 149.3L29.7 149.2L30 148.5L30.2 147.3L30.5 145.9L30.7 144.1L30.9 142.3L31.2 140.6L31.4 139.1L31.6 138L31.9 137.4L32.1 137.2L32.4 137.1L32.6 136.7L32.8 136.3L33.1 135.7L33.3 135L33.6 134.3L33.8 133.6L34 133L34.3 132.5L34.5 132.1L34.8 131.9L35 131.9L35.2 132.8L35.5 134.4L35.7 136.7L36 139.5L36.2 142.3L36.4 145L36.7 147.2L36.9 148.7L37.2 149.3L37.4 149.2L37.6 148.5L37.9 147.3L38.1 145.9L38.4 144.1L38.6 142.3L38.8 140.6L39.1 139.1L39.3 138L39.6 137.4L39.8 137.2L40 137.1L40.3 136.7L40.5 136.3L40.8 135.7L41 135L41.2 134.3L41.5 133.6L41.7 133L42 132.5L42.2 132.1L42.4 131.9L42.7 131.9L42.9 132.8L43.2 134.4L43.4 136.7L43.6 139.5L43.9 142.3L44.1 145L44.4 147.2L44.6 148.7L44.8 149.3L45.1 149.2L45.3 148.5L45.6 147.3L45.8 145.9L46 144.1L46.3 142.3L46.5 140.6L46.8 139.1L47 138L47.2 137.4L47.5 137.2L47.7 137.1L48 136.7L48.2 136.3L48.4 135.7L48.7 135L48.9 134.3L49.2 133.6L49.4 133L49.6 132.5L49.9 132.1L50.1 131.9L50.4 131.9L50.6 132.8L50.8 134.4L51.1 136.7L51.3 139.5L51.5 142.3L51.8 145L52 147.2L52.3 148.7L52.5 149.3L52.7 149.2L53 148.5L53.2 147.3L53.5 145.9L53.7 144.1L53.9 142.3L54.2 140.6L54.4 139.1L54.7 138L54.9 137.4L55.1 137.2L55.4 137.1L55.6 136.7L55.9 136.3L56.1 135.7L56.3 135L56.6 134.3L56.8 133.6L57.1 133L57.3 132.5L57.5 132.1L57.8 131.9L58 131.9L58.3 132.8L58.5 134.4L58.7 136.7L59 139.5L59.2 142.3L59.5 145L59.7 147.2L59.9 148.7L60.2 149.3L60.4 149.2L60.7 148.5L60.9 147.3L61.1 145.9L61.4 144.1L61.6 142.3L61.9 140.6L62.1 139.1L62.3 138L62.6 137.4L62.8 137.2L63.1 137.1L63.3 136.7L63.5 136.3L63.8 135.7L64 135L64.3 134.3L64.5 133.6L64.7 133L65 132.5L65.2 132.1L65.5 131.9L65.7 131.9L65.9 132.8L66.2 134.4L66.4 136.7L66.7 139.5L66.9 142.3L67.1 145L67.4 147.2L67.6 148.7L67.9 149.3L68.1 149.2L68.3 148.5L68.6 147.3L68.8 145.9L69.1 144.1L69.3 142.3L69.5 140.6L69.8 139.1L70 138L70.3 137.4L70.5 137.2L70.7 137.1L71 136.7L71.2 136.3L71.5 135.7L71.7 135L71.9 134.3L72.2 133.6L72.4 133L72.6 132.5L72.9 132.1L73.1 131.9L73.4 131.9L73.6 132.8L73.8 134.4L74.1 136.7L74.3 139.5L74.6 142.3L74.8 145L75 147.2L75.3 148.7L75.5 149.3L75.8 149.2L76 148.5L76.2 147.3L76.5 145.9L76.7 144.1L77 142.3"/><path id="p18" d="M-0.2 148.8L0 149.3L0.2 148.4L0.5 146.1L0.7 142.9L1 139.8L1.2 137.7L1.4 137.2L1.7 137.1L1.9 136.9L2.2 136.6L2.4 136.3L2.6 135.9L2.9 135.6L3.1 135.4L3.4 135.3L3.6 135.2L3.8 135L4.1 134.6L4.3 134L4.6 133.4L4.8 132.8L5 132.3L5.3 132L5.5 131.9L5.8 132.4L6 133.9L6.2 136.2L6.5 139L6.7 142.1L7 144.9L7.2 147.3L7.4 148.8L7.7 149.3L7.9 148.4L8.2 146.1L8.4 142.9L8.6 139.8L8.9 137.7L9.1 137.2L9.4 137.1L9.6 136.9L9.8 136.6L10.1 136.3L10.3 135.9L10.5 135.6L10.8 135.4L11 135.3L11.3 135.2L11.5 135L11.7 134.6L12 134L12.2 133.4L12.5 132.8L12.7 132.3L12.9 132L13.2 131.9L13.4 132.4L13.7 133.9L13.9 136.2L14.1 139L14.4 142.1L14.6 144.9L14.9 147.3L15.1 148.8L15.3 149.3L15.6 148.4L15.8 146.1L16.1 142.9L16.3 139.8L16.5 137.7L16.8 137.2L17 137.1L17.3 136.9L17.5 136.6L17.7 136.3L18 135.9L18.2 135.6L18.5 135.4L18.7 135.3L18.9 135.2L19.2 135L19.4 134.6L19.7 134L19.9 133.4L20.1 132.8L20.4 132.3L20.6 132L20.9 131.9L21.1 132.4L21.3 133.9L21.6 136.2L21.8 139L22.1 142.1L22.3 144.9L22.5 147.3L22.8 148.8L23 149.3L23.3 148.4L23.5 146.1L23.7 142.9L24 139.8L24.2 137.7L24.5 137.2L24.7 137.1L24.9 136.9L25.2 136.6L25.4 136.3L25.7 135.9L25.9 135.6L26.1 135.4L26.4 135.3L26.6 135.2L26.9 135L27.1 134.6L27.3 134L27.6 133.4L27.8 132.8L28.1 132.3L28.3 132L28.5 131.9L28.8 132.4L29 133.9L29.3 136.2L29.5 139L29.7 142.1L30 144.9L30.2 147.3L30.5 148.8L30.7 149.3L30.9 148.4L31.2 146.1L31.4 142.9L31.6 139.8L31.9 137.7L32.1 137.2L32.4 137.1L32.6 136.9L32.8 136.6L33.1 136.3L33.3 135.9L33.6 135.6L33.8 135.4L34 135.3L34.3 135.2L34.5 135L34.8 134.6L35 134L35.2 133.4L35.5 132.8L35.7 132.3L36 132L36.2 131.9L36.4 132.4L36.7 133.9L36.9 136.2L37.2 139L37.4 142.1L37.6 144.9L37.9 147.3L38.1 148.8L38.4 149.3L38.6 148.4L38.8 146.1L39.1 142.9L39.3 139.8L39.6 137.7L39.8 137.2L40 137.1L40.3 136.9L40.5 136.6L40.8 136.3L41 135.9L41.2 135.6L41.5 135.4L41.7 135.3L42 135.2L42.2 135L42.4 134.6L42.7 134L42.9 133.4L43.2 132.8L43.4 132.3L43.6 132L43.9 131.9L44.1 132.4L44.4 133.9L44.6 136.2L44.8 139L45.1 142.1L45.3 144.9L45.6 147.3L45.8 148.8L46 149.3L46.3 148.4L46.5 146.1L46.8 142.9L47 139.8L47.2 137.7L47.5 137.2L47.7 137.1L48 136.9L48.2 136.6L48.4 136.3L48.7 135.9L48.9 135.6L49.2 135.4L49.4 135.3L49.6 135.2L49.9 135L50.1 134.6L50.4 134L50.6 133.4L50.8 132.8L51.1 132.3L51.3 132L51.5 131.9L51.8 132.4L52 133.9L52.3 136.2L52.5 139L52.7 142.1L53 144.9L53.2 147.3L53.5 148.8L53.7 149.3L53.9 148.4L54.2 146.1L54.4 142.9L54.7 139.8L54.9 137.7L55.1 137.2L55.4 137.1L55.6 136.9L55.9 136.6L56.1 136.3L56.3 135.9L56.6 135.6L56.8 135.4L57.1 135.3L57.3 135.2L57.5 135L57.8 134.6L58 134L58.3 133.4L58.5 132.8L58.7 132.3L59 132L59.2 131.9L59.5 132.4L59.7 133.9L59.9 136.2L60.2 139L60.4 142.1L60.7 144.9L60.9 147.3L61.1 148.8L61.4 149.3L61.6 148.4L61.9 146.1L62.1 142.9L62.3 139.8L62.6 137.7L62.8 137.2L63.1 137.1L63.3 136.9L63.5 136.6L63.8 136.3L64 135.9L64.3 135.6L64.5 135.4L64.7 135.3L65 135.2L65.2 135L65.5 134.6L65.7 134L65.9 133.4L66.2 132.8L66.4 132.3L66.7 132L66.9 131.9L67.1 132.4L67.4 133.9L67.6 136.2L67.9 139L68.1 142.1L68.3 144.9L68.6 147.3L68.8 148.8L69.1 149.3L69.3 148.4L69.5 146.1L69.8 142.9L70 139.8L70.3 137.7L70.5 137.2L70.7 137.1L71 136.9L71.2 136.6L71.5 136.3L71.7 135.9L71.9 135.6L72.2 135.4L72.4 135.3L72.6 135.2L72.9 135L73.1 134.6L73.4 134L73.6 133.4L73.8 132.8L74.1 132.3L74.3 132L74.6 131.9L74.8 132.4L75 133.9L75.3 136.2L75.5 139L75.8 142.1L76 144.9L76.2 147.3L76.5 148.8L76.7 149.3L77 148.4"/><path id="p19" d="M-0.2 142.7L0 141.1L0.2 139.5L0.5 138L0.7 136.8L1 135.9L1.2 135.4L1.4 135.3L1.7 135.1L1.9 134.7L2.2 134.2L2.4 133.6L2.6 133L2.9 132.5L3.1 132.1L3.4 131.9L3.6 132.2L3.8 134.2L4.1 137.6L4.3 141.6L4.6 145.4L4.8 148.2L5 149.3L5.3 149.2L5.5 148.8L5.8 148.3L6 147.9L6.2 147.8L6.5 147.5L6.7 146.7L7 145.6L7.2 144.2L7.4 142.7L7.7 141.1L7.9 139.5L8.2 138L8.4 136.8L8.6 135.9L8.9 135.4L9.1 135.3L9.4 135.1L9.6 134.7L9.8 134.2L10.1 133.6L10.3 133L10.5 132.5L10.8 132.1L11 131.9L11.3 132.2L11.5 134.2L11.7 137.6L12 141.6L12.2 145.4L12.5 148.2L12.7 149.3L12.9 149.2L13.2 148.8L13.4 148.3L13.7 147.9L13.9 147.8L14.1 147.5L14.4 146.7L14.6 145.6L14.9 144.2L15.1 142.7L15.3 141.1L15.6 139.5L15.8 138L16.1 136.8L16.3 135.9L16.5 135.4L16.8 135.3L17 135.1L17.3 134.7L17.5 134.2L17.7 133.6L18 133L18.2 132.5L18.5 132.1L18.7 131.9L18.9 132.2L19.2 134.2L19.4 137.6L19.7 141.6L19.9 145.4L20.1 148.2L20.4 149.3L20.6 149.2L20.9 148.8L21.1 148.3L21.3 147.9L21.6 147.8L21.8 147.5L22.1 146.7L22.3 145.6L22.5 144.2L22.8 142.7L23 141.1L23.3 139.5L23.5 138L23.7 136.8L24 135.9L24.2 135.4L24.5 135.3L24.7 135.1L24.9 134.7L25.2 134.2L25.4 133.6L25.7 133L25.9 132.5L26.1 132.1L26.4 131.9L26.6 132.2L26.9 134.2L27.1 137.6L27.3 141.6L27.6 145.4L27.8 148.2L28.1 149.3L28.3 149.2L28.5 148.8L28.8 148.3L29 147.9L29.3 147.8L29.5 147.5L29.7 146.7L30 145.6L30.2 144.2L30.5 142.7L30.7 141.1L30.9 139.5L31.2 138L31.4 136.8L31.6 135.9L31.9 135.4L32.1 135.3L32.4 135.1L32.6 134.7L32.8 134.2L33.1 133.6L33.3 133L33.6 132.5L33.8 132.1L34 131.9L34.3 132.2L34.5 134.2L34.8 137.6L35 141.6L35.2 145.4L35.5 148.2L35.7 149.3L36 149.2L36.2 148.8L36.4 148.3L36.7 147.9L36.9 147.8L37.2 147.5L37.4 146.7L37.6 145.6L37.9 144.2L38.1 142.7L38.4 141.1L38.6 139.5L38.8 138L39.1 136.8L39.3 135.9L39.6 135.4L39.8 135.3L40 135.1L40.3 134.7L40.5 134.2L40.8 133.6L41 133L41.2 132.5L41.5 132.1L41.7 131.9L42 132.2L42.2 134.2L42.4 137.6L42.7 141.6L42.9 145.4L43.2 148.2L43.4 149.3L43.6 149.2L43.9 148.8L44.1 148.3L44.4 147.9L44.6 147.8L44.8 147.5L45.1 146.7L45.3 145.6L45.6 144.2L45.8 142.7L46 141.1L46.3 139.5L46.5 138L46.8 136.8L47 135.9L47.2 135.4L47.5 135.3L47.7 135.1L48 134.7L48.2 134.2L48.4 133.6L48.7 133L48.9 132.5L49.2 132.1L49.4 131.9L49.6 132.2L49.9 134.2L50.1 137.6L50.4 141.6L50.6 145.4L50.8 148.2L51.1 149.3L51.3 149.2L51.5 148.8L51.8 148.3L52 147.9L52.3 147.8L52.5 147.5L52.7 146.7L53 145.6L53.2 144.2L53.5 142.7L53.7 141.1L53.9 139.5L54.2 138L54.4 136.8L54.7 135.9L54.9 135.4L55.1 135.3L55.4 135.1L55.6 134.7L55.9 134.2L56.1 133.6L56.3 133L56.6 132.5L56.8 132.1L57.1 131.9L57.3 132.2L57.5 134.2L57.8 137.6L58 141.6L58.3 145.4L58.5 148.2L58.7 149.3L59 149.2L59.2 148.8L59.5 148.3L59.7 147.9L59.9 147.8L60.2 147.5L60.4 146.7L60.7 145.6L60.9 144.2L61.1 142.7L61.4 141.1L61.6 139.5L61.9 138L62.1 136.8L62.3 135.9L62.6 135.4L62.8 135.3L63.1 135.1L63.3 134.7L63.5 134.2L63.8 133.6L64 133L64.3 132.5L64.5 132.1L64.7 131.9L65 132.2L65.2 134.2L65.5 137.6L65.7 141.6L65.9 145.4L66.2 148.2L66.4 149.3L66.7 149.2L66.9 148.8L67.1 148.3L67.4 147.9L67.6 147.8L67.9 147.5L68.1 146.7L68.3 145.6L68.6 144.2L68.8 142.7L69.1 141.1L69.3 139.5L69.5 138L69.8 136.8L70 135.9L70.3 135.4L70.5 135.3L70.7 135.1L71 134.7L71.2 134.2L71.5 133.6L71.7 133L71.9 132.5L72.2 132.1L72.4 131.9L72.6 132.2L72.9 134.2L73.1 137.6L73.4 141.6L73.6 145.4L73.8 148.2L74.1 149.3L74.3 149.2L74.6 148.8L74.8 148.3L75 147.9L75.3 147.8L75.5 147.5L75.8 146.7L76 145.6L76.2 144.2L76.5 142.7L76.7 141.1L77 139.5"/><path id="p20" d="M2.4 149.3L2.6 148.7L2.9 146.2L3.1 142.3L3.4 137.9L3.6 134.1L3.8 131.8M10.1 149.3L10.3 148.7L10.5 146.2L10.8 142.3L11 137.9L11.3 134.1L11.5 131.8M17.7 149.3L18 148.7L18.2 146.2L18.5 142.3L18.7 137.9L18.9 134.1L19.2 131.8M25.4 149.3L25.7 148.7L25.9 146.2L26.1 142.3L26.4 137.9L26.6 134.1M33.1 149.3L33.3 148.7L33.6 146.2L33.8 142.3L34 137.9L34.3 134.1M40.8 149.3L41 148.7L41.2 146.2L41.5 142.3L41.7 137.9L42 134.1M48.4 149.3L48.7 148.7L48.9 146.2L49.2 142.3L49.4 137.9L49.6 134.1M56.1 149.3L56.3 148.7L56.6 146.2L56.8 142.3L57.1 137.9L57.3 134.1M63.8 149.3L64 148.7L64.3 146.2L64.5 142.3L64.7 137.9L65 134.1M71.5 149.3L71.7 148.7L71.9 146.2L72.2 142.3L72.4 137.9L72.6 134.1L72.9 131.8"/><path id="p21" d="M-0.2 310.2L0 317.6L0.2 310.3L0.5 297L0.7 293L1 293L1.2 293L1.4 294.6L1.7 300.7L1.9 308.2L2.2 312.5L2.4 313.7L2.6 317.4L2.9 321.2L3.1 322.4L3.4 322.4L3.6 322.4L3.8 322.4L4.1 322.4L4.3 322.4L4.6 322.3L4.8 322.2L5 322L5.3 321.9L5.5 311.2L5.8 306.9L6 306.9L6.2 306.9L6.5 306.9L6.7 306.9L7 306.9L7.2 306.9L7.4 310.2L7.7 317.6L7.9 310.3L8.2 297L8.4 293L8.6 293L8.9 293L9.1 294.6L9.4 300.7L9.6 308.2L9.8 312.5L10.1 313.7L10.3 317.4L10.5 321.2L10.8 322.4L11 322.4L11.3 322.4L11.5 322.4L11.7 322.4L12 322.4L12.2 322.3L12.5 322.2L12.7 322L12.9 321.9L13.2 311.2L13.4 306.9L13.7 306.9L13.9 306.9L14.1 306.9L14.4 306.9L14.6 306.9L14.9 306.9L15.1 310.2L15.3 317.6L15.6 310.3L15.8 297L16.1 293L16.3 293L16.5 293L16.8 294.6L17 300.7L17.3 308.2L17.5 312.5L17.7 313.7L18 317.4L18.2 321.2L18.5 322.4L18.7 322.4L18.9 322.4L19.2 322.4L19.4 322.4L19.7 322.4L19.9 322.3L20.1 322.2L20.4 322L20.6 321.9L20.9 311.2L21.1 306.9L21.3 306.9L21.6 306.9L21.8 306.9L22.1 306.9L22.3 306.9L22.5 306.9L22.8 310.2L23 317.6L23.3 310.3L23.5 297L23.7 293L24 293L24.2 293L24.5 294.6L24.7 300.7L24.9 308.2L25.2 312.5L25.4 313.7L25.7 317.4L25.9 321.2L26.1 322.4L26.4 322.4L26.6 322.4L26.9 322.4L27.1 322.4L27.3 322.4L27.6 322.3L27.8 322.2L28.1 322L28.3 321.9L28.5 311.2L28.8 306.9L29 306.9L29.3 306.9L29.5 306.9L29.7 306.9L30 306.9L30.2 306.9L30.5 310.2L30.7 317.6L30.9 310.3L31.2 297L31.4 293L31.6 293L31.9 293L32.1 294.6L32.4 300.7L32.6 308.2L32.8 312.5L33.1 313.7L33.3 317.4L33.6 321.2L33.8 322.4L34 322.4L34.3 322.4L34.5 322.4L34.8 322.4L35 322.4L35.2 322.3L35.5 322.2L35.7 322L36 321.9L36.2 311.2L36.4 306.9L36.7 306.9L36.9 306.9L37.2 306.9L37.4 306.9L37.6 306.9L37.9 306.9L38.1 310.2L38.4 317.6L38.6 310.3L38.8 297L39.1 293L39.3 293L39.6 293L39.8 294.6L40 300.7L40.3 308.2L40.5 312.5L40.8 313.7L41 317.4L41.2 321.2L41.5 322.4L41.7 322.4L42 322.4L42.2 322.4L42.4 322.4L42.7 322.4L42.9 322.3L43.2 322.2L43.4 322L43.6 321.9L43.9 311.2L44.1 306.9L44.4 306.9L44.6 306.9L44.8 306.9L45.1 306.9L45.3 306.9L45.6 306.9L45.8 310.2L46 317.6L46.3 310.3L46.5 297L46.8 293L47 293L47.2 293L47.5 294.6L47.7 300.7L48 308.2L48.2 312.5L48.4 313.7L48.7 317.4L48.9 321.2L49.2 322.4L49.4 322.4L49.6 322.4L49.9 322.4L50.1 322.4L50.4 322.4L50.6 322.3L50.8 322.2L51.1 322L51.3 321.9L51.5 311.2L51.8 306.9L52 306.9L52.3 306.9L52.5 306.9L52.7 306.9L53 306.9L53.2 306.9L53.5 310.2L53.7 317.6L53.9 310.3L54.2 297L54.4 293L54.7 293L54.9 293L55.1 294.6L55.4 300.7L55.6 308.2L55.9 312.5L56.1 313.7L56.3 317.4L56.6 321.2L56.8 322.4L57.1 322.4L57.3 322.4L57.5 322.4L57.8 322.4L58 322.4L58.3 322.3L58.5 322.2L58.7 322L59 321.9L59.2 311.2L59.5 306.9L59.7 306.9L59.9 306.9L60.2 306.9L60.4 306.9L60.7 306.9L60.9 306.9L61.1 310.2L61.4 317.6L61.6 310.3L61.9 297L62.1 293L62.3 293L62.6 293L62.8 294.6L63.1 300.7L63.3 308.2L63.5 312.5L63.8 313.7L64 317.4L64.3 321.2L64.5 322.4L64.7 322.4L65 322.4L65.2 322.4L65.5 322.4L65.7 322.4L65.9 322.3L66.2 322.2L66.4 322L66.7 321.9L66.9 311.2L67.1 306.9L67.4 306.9L67.6 306.9L67.9 306.9L68.1 306.9L68.3 306.9L68.6 306.9L68.8 310.2L69.1 317.6L69.3 310.3L69.5 297L69.8 293L70 293L70.3 293L70.5 294.6L70.7 300.7L71 308.2L71.2 312.5L71.5 313.7L71.7 317.4L71.9 321.2L72.2 322.4L72.4 322.4L72.6 322.4L72.9 322.4L73.1 322.4L73.4 322.4L73.6 322.3L73.8 322.2L74.1 322L74.3 321.9L74.6 311.2L74.8 306.9L75 306.9L75.3 306.9L75.5 306.9L75.8 306.9L76 306.9L76.2 306.9L76.5 310.2L76.7 317.6L77 310.3"/><path id="p22" d="M-0.2 311.5L0 317.6L0.2 312.1L0.5 302.2L0.7 299.1L1 299.1L1.2 299.1L1.4 300.4L1.7 305.2L1.9 310.6L2.2 312.7L2.4 314.7L2.6 318.8L2.9 322L3.1 322.4L3.4 322.4L3.6 322.4L3.8 322.4L4.1 322.4L4.3 322.4L4.6 322.3L4.8 322.1L5 322L5.3 311.8L5.5 301.9L5.8 304.9L6 308.2L6.2 308.8L6.5 308.8L6.7 308.8L7 308.8L7.2 308.8L7.4 311.5L7.7 317.6L7.9 312.1L8.2 302.2L8.4 299.1L8.6 299.1L8.9 299.1L9.1 300.4L9.4 305.2L9.6 310.6L9.8 312.7L10.1 314.7L10.3 318.8L10.5 322L10.8 322.4L11 322.4L11.3 322.4L11.5 322.4L11.7 322.4L12 322.4L12.2 322.3L12.5 322.1L12.7 322L12.9 311.8L13.2 301.9L13.4 304.9L13.7 308.2L13.9 308.8L14.1 308.8L14.4 308.8L14.6 308.8L14.9 308.8L15.1 311.5L15.3 317.6L15.6 312.1L15.8 302.2L16.1 299.1L16.3 299.1L16.5 299.1L16.8 300.4L17 305.2L17.3 310.6L17.5 312.7L17.7 314.7L18 318.8L18.2 322L18.5 322.4L18.7 322.4L18.9 322.4L19.2 322.4L19.4 322.4L19.7 322.4L19.9 322.3L20.1 322.1L20.4 322L20.6 311.8L20.9 301.9L21.1 304.9L21.3 308.2L21.6 308.8L21.8 308.8L22.1 308.8L22.3 308.8L22.5 308.8L22.8 311.5L23 317.6L23.3 312.1L23.5 302.2L23.7 299.1L24 299.1L24.2 299.1L24.5 300.4L24.7 305.2L24.9 310.6L25.2 312.7L25.4 314.7L25.7 318.8L25.9 322L26.1 322.4L26.4 322.4L26.6 322.4L26.9 322.4L27.1 322.4L27.3 322.4L27.6 322.3L27.8 322.1L28.1 322L28.3 311.8L28.5 301.9L28.8 304.9L29 308.2L29.3 308.8L29.5 308.8L29.7 308.8L30 308.8L30.2 308.8L30.5 311.5L30.7 317.6L30.9 312.1L31.2 302.2L31.4 299.1L31.6 299.1L31.9 299.1L32.1 300.4L32.4 305.2L32.6 310.6L32.8 312.7L33.1 314.7L33.3 318.8L33.6 322L33.8 322.4L34 322.4L34.3 322.4L34.5 322.4L34.8 322.4L35 322.4L35.2 322.3L35.5 322.1L35.7 322L36 311.8L36.2 301.9L36.4 304.9L36.7 308.2L36.9 308.8L37.2 308.8L37.4 308.8L37.6 308.8L37.9 308.8L38.1 311.5L38.4 317.6L38.6 312.1L38.8 302.2L39.1 299.1L39.3 299.1L39.6 299.1L39.8 300.4L40 305.2L40.3 310.6L40.5 312.7L40.8 314.7L41 318.8L41.2 322L41.5 322.4L41.7 322.4L42 322.4L42.2 322.4L42.4 322.4L42.7 322.4L42.9 322.3L43.2 322.1L43.4 322L43.6 311.8L43.9 301.9L44.1 304.9L44.4 308.2L44.6 308.8L44.8 308.8L45.1 308.8L45.3 308.8L45.6 308.8L45.8 311.5L46 317.6L46.3 312.1L46.5 302.2L46.8 299.1L47 299.1L47.2 299.1L47.5 300.4L47.7 305.2L48 310.6L48.2 312.7L48.4 314.7L48.7 318.8L48.9 322L49.2 322.4L49.4 322.4L49.6 322.4L49.9 322.4L50.1 322.4L50.4 322.4L50.6 322.3L50.8 322.1L51.1 322L51.3 311.8L51.5 301.9L51.8 304.9L52 308.2L52.3 308.8L52.5 308.8L52.7 308.8L53 308.8L53.2 308.8L53.5 311.5L53.7 317.6L53.9 312.1L54.2 302.2L54.4 299.1L54.7 299.1L54.9 299.1L55.1 300.4L55.4 305.2L55.6 310.6L55.9 312.7L56.1 314.7L56.3 318.8L56.6 322L56.8 322.4L57.1 322.4L57.3 322.4L57.5 322.4L57.8 322.4L58 322.4L58.3 322.3L58.5 322.1L58.7 322L59 311.8L59.2 301.9L59.5 304.9L59.7 308.2L59.9 308.8L60.2 308.8L60.4 308.8L60.7 308.8L60.9 308.8L61.1 311.5L61.4 317.6L61.6 312.1L61.9 302.2L62.1 299.1L62.3 299.1L62.6 299.1L62.8 300.4L63.1 305.2L63.3 310.6L63.5 312.7L63.8 314.7L64 318.8L64.3 322L64.5 322.4L64.7 322.4L65 322.4L65.2 322.4L65.5 322.4L65.7 322.4L65.9 322.3L66.2 322.1L66.4 322L66.7 311.8L66.9 301.9L67.1 304.9L67.4 308.2L67.6 308.8L67.9 308.8L68.1 308.8L68.3 308.8L68.6 308.8L68.8 311.5L69.1 317.6L69.3 312.1L69.5 302.2L69.8 299.1L70 299.1L70.3 299.1L70.5 300.4L70.7 305.2L71 310.6L71.2 312.7L71.5 314.7L71.7 318.8L71.9 322L72.2 322.4L72.4 322.4L72.6 322.4L72.9 322.4L73.1 322.4L73.4 322.4L73.6 322.3L73.8 322.1L74.1 322L74.3 311.8L74.6 301.9L74.8 304.9L75 308.2L75.3 308.8L75.5 308.8L75.8 308.8L76 308.8L76.2 308.8L76.5 311.5L76.7 317.6L77 312.1"/><path id="p23" d="M-0.2 310.8L0 317.6L0.2 312.4L0.5 303L0.7 300.1L1 300.1L1.2 300.1L1.4 301.3L1.7 305.8L1.9 310.7L2.2 312.7L2.4 314.7L2.6 318.8L2.9 322L3.1 322.4L3.4 322.4L3.6 322.4L3.8 322.4L4.1 322.4L4.3 322.4L4.6 322.3L4.8 322.2L5 322L5.3 321.9L5.5 317.4L5.8 302.9L6 301.6L6.2 301.6L6.5 301.6L6.7 301.6L7 303.4L7.2 308.1L7.4 310.8L7.7 317.6L7.9 312.4L8.2 303L8.4 300.1L8.6 300.1L8.9 300.1L9.1 301.3L9.4 305.8L9.6 310.7L9.8 312.7L10.1 314.7L10.3 318.8L10.5 322L10.8 322.4L11 322.4L11.3 322.4L11.5 322.4L11.7 322.4L12 322.4L12.2 322.3L12.5 322.2L12.7 322L12.9 321.9L13.2 317.4L13.4 302.9L13.7 301.6L13.9 301.6L14.1 301.6L14.4 301.6L14.6 303.4L14.9 308.1L15.1 310.8L15.3 317.6L15.6 312.4L15.8 303L16.1 300.1L16.3 300.1L16.5 300.1L16.8 301.3L17 305.8L17.3 310.7L17.5 312.7L17.7 314.7L18 318.8L18.2 322L18.5 322.4L18.7 322.4L18.9 322.4L19.2 322.4L19.4 322.4L19.7 322.4L19.9 322.3L20.1 322.2L20.4 322L20.6 321.9L20.9 317.4L21.1 302.9L21.3 301.6L21.6 301.6L21.8 301.6L22.1 301.6L22.3 303.4L22.5 308.1L22.8 310.8L23 317.6L23.3 312.4L23.5 303L23.7 300.1L24 300.1L24.2 300.1L24.5 301.3L24.7 305.8L24.9 310.7L25.2 312.7L25.4 314.7L25.7 318.8L25.9 322L26.1 322.4L26.4 322.4L26.6 322.4L26.9 322.4L27.1 322.4L27.3 322.4L27.6 322.3L27.8 322.2L28.1 322L28.3 321.9L28.5 317.4L28.8 302.9L29 301.6L29.3 301.6L29.5 301.6L29.7 301.6L30 303.4L30.2 308.1L30.5 310.8L30.7 317.6L30.9 312.4L31.2 303L31.4 300.1L31.6 300.1L31.9 300.1L32.1 301.3L32.4 305.8L32.6 310.7L32.8 312.7L33.1 314.7L33.3 318.8L33.6 322L33.8 322.4L34 322.4L34.3 322.4L34.5 322.4L34.8 322.4L35 322.4L35.2 322.3L35.5 322.2L35.7 322L36 321.9L36.2 317.4L36.4 302.9L36.7 301.6L36.9 301.6L37.2 301.6L37.4 301.6L37.6 303.4L37.9 308.1L38.1 310.8L38.4 317.6L38.6 312.4L38.8 303L39.1 300.1L39.3 300.1L39.6 300.1L39.8 301.3L40 305.8L40.3 310.7L40.5 312.7L40.8 314.7L41 318.8L41.2 322L41.5 322.4L41.7 322.4L42 322.4L42.2 322.4L42.4 322.4L42.7 322.4L42.9 322.3L43.2 322.2L43.4 322L43.6 321.9L43.9 317.4L44.1 302.9L44.4 301.6L44.6 301.6L44.8 301.6L45.1 301.6L45.3 303.4L45.6 308.1L45.8 310.8L46 317.6L46.3 312.4L46.5 303L46.8 300.1L47 300.1L47.2 300.1L47.5 301.3L47.7 305.8L48 310.7L48.2 312.7L48.4 314.7L48.7 318.8L48.9 322L49.2 322.4L49.4 322.4L49.6 322.4L49.9 322.4L50.1 322.4L50.4 322.4L50.6 322.3L50.8 322.2L51.1 322L51.3 321.9L51.5 317.4L51.8 302.9L52 301.6L52.3 301.6L52.5 301.6L52.7 301.6L53 303.4L53.2 308.1L53.5 310.8L53.7 317.6L53.9 312.4L54.2 303L54.4 300.1L54.7 300.1L54.9 300.1L55.1 301.3L55.4 305.8L55.6 310.7L55.9 312.7L56.1 314.7L56.3 318.8L56.6 322L56.8 322.4L57.1 322.4L57.3 322.4L57.5 322.4L57.8 322.4L58 322.4L58.3 322.3L58.5 322.2L58.7 322L59 321.9L59.2 317.4L59.5 302.9L59.7 301.6L59.9 301.6L60.2 301.6L60.4 301.6L60.7 303.4L60.9 308.1L61.1 310.8L61.4 317.6L61.6 312.4L61.9 303L62.1 300.1L62.3 300.1L62.6 300.1L62.8 301.3L63.1 305.8L63.3 310.7L63.5 312.7L63.8 314.7L64 318.8L64.3 322L64.5 322.4L64.7 322.4L65 322.4L65.2 322.4L65.5 322.4L65.7 322.4L65.9 322.3L66.2 322.2L66.4 322L66.7 321.9L66.9 317.4L67.1 302.9L67.4 301.6L67.6 301.6L67.9 301.6L68.1 301.6L68.3 303.4L68.6 308.1L68.8 310.8L69.1 317.6L69.3 312.4L69.5 303L69.8 300.1L70 300.1L70.3 300.1L70.5 301.3L70.7 305.8L71 310.7L71.2 312.7L71.5 314.7L71.7 318.8L71.9 322L72.2 322.4L72.4 322.4L72.6 322.4L72.9 322.4L73.1 322.4L73.4 322.4L73.6 322.3L73.8 322.2L74.1 322L74.3 321.9L74.6 317.4L74.8 302.9L75 301.6L75.3 301.6L75.5 301.6L75.8 301.6L76 303.4L76.2 308.1L76.5 310.8L76.7 317.6L77 312.4"/><path id="p24" d="M-0.2 320.3L0 320.3L0.2 320.3L0.5 320.3L0.7 320.3L1 318.1L1.2 313.4L1.4 312.7L1.7 312.7L1.9 312.7L2.2 312.7L2.4 314.7L2.6 318.8L2.9 322L3.1 322.4L3.4 322.4L3.6 322.4L3.8 322.4L4.1 322.4L4.3 322.4L4.6 322.3L4.8 322.2L5 322L5.3 321.9L5.5 316.3L5.8 312.7L6 312.7L6.2 312.7L6.5 312.9L6.7 320L7 320.3L7.2 320.3L7.4 320.3L7.7 320.3L7.9 320.3L8.2 320.3L8.4 320.3L8.6 318.1L8.9 313.4L9.1 312.7L9.4 312.7L9.6 312.7L9.8 312.7L10.1 314.7L10.3 318.8L10.5 322L10.8 322.4L11 322.4L11.3 322.4L11.5 322.4L11.7 322.4L12 322.4L12.2 322.3L12.5 322.2L12.7 322L12.9 321.9L13.2 316.3L13.4 312.7L13.7 312.7L13.9 312.7L14.1 312.9L14.4 320L14.6 320.3L14.9 320.3L15.1 320.3L15.3 320.3L15.6 320.3L15.8 320.3L16.1 320.3L16.3 318.1L16.5 313.4L16.8 312.7L17 312.7L17.3 312.7L17.5 312.7L17.7 314.7L18 318.8L18.2 322L18.5 322.4L18.7 322.4L18.9 322.4L19.2 322.4L19.4 322.4L19.7 322.4L19.9 322.3L20.1 322.2L20.4 322L20.6 321.9L20.9 316.3L21.1 312.7L21.3 312.7L21.6 312.7L21.8 312.9L22.1 320L22.3 320.3L22.5 320.3L22.8 320.3L23 320.3L23.3 320.3L23.5 320.3L23.7 320.3L24 318.1L24.2 313.4L24.5 312.7L24.7 312.7L24.9 312.7L25.2 312.7L25.4 314.7L25.7 318.8L25.9 322L26.1 322.4L26.4 322.4L26.6 322.4L26.9 322.4L27.1 322.4L27.3 322.4L27.6 322.3L27.8 322.2L28.1 322L28.3 321.9L28.5 316.3L28.8 312.7L29 312.7L29.3 312.7L29.5 312.9L29.7 320L30 320.3L30.2 320.3L30.5 320.3L30.7 320.3L30.9 320.3L31.2 320.3L31.4 320.3L31.6 318.1L31.9 313.4L32.1 312.7L32.4 312.7L32.6 312.7L32.8 312.7L33.1 314.7L33.3 318.8L33.6 322L33.8 322.4L34 322.4L34.3 322.4L34.5 322.4L34.8 322.4L35 322.4L35.2 322.3L35.5 322.2L35.7 322L36 321.9L36.2 316.3L36.4 312.7L36.7 312.7L36.9 312.7L37.2 312.9L37.4 320L37.6 320.3L37.9 320.3L38.1 320.3L38.4 320.3L38.6 320.3L38.8 320.3L39.1 320.3L39.3 318.1L39.6 313.4L39.8 312.7L40 312.7L40.3 312.7L40.5 312.7L40.8 314.7L41 318.8L41.2 322L41.5 322.4L41.7 322.4L42 322.4L42.2 322.4L42.4 322.4L42.7 322.4L42.9 322.3L43.2 322.2L43.4 322L43.6 321.9L43.9 316.3L44.1 312.7L44.4 312.7L44.6 312.7L44.8 312.9L45.1 320L45.3 320.3L45.6 320.3L45.8 320.3L46 320.3L46.3 320.3L46.5 320.3L46.8 320.3L47 318.1L47.2 313.4L47.5 312.7L47.7 312.7L48 312.7L48.2 312.7L48.4 314.7L48.7 318.8L48.9 322L49.2 322.4L49.4 322.4L49.6 322.4L49.9 322.4L50.1 322.4L50.4 322.4L50.6 322.3L50.8 322.2L51.1 322L51.3 321.9L51.5 316.3L51.8 312.7L52 312.7L52.3 312.7L52.5 312.9L52.7 320L53 320.3L53.2 320.3L53.5 320.3L53.7 320.3L53.9 320.3L54.2 320.3L54.4 320.3L54.7 318.1L54.9 313.4L55.1 312.7L55.4 312.7L55.6 312.7L55.9 312.7L56.1 314.7L56.3 318.8L56.6 322L56.8 322.4L57.1 322.4L57.3 322.4L57.5 322.4L57.8 322.4L58 322.4L58.3 322.3L58.5 322.2L58.7 322L59 321.9L59.2 316.3L59.5 312.7L59.7 312.7L59.9 312.7L60.2 312.9L60.4 320L60.7 320.3L60.9 320.3L61.1 320.3L61.4 320.3L61.6 320.3L61.9 320.3L62.1 320.3L62.3 318.1L62.6 313.4L62.8 312.7L63.1 312.7L63.3 312.7L63.5 312.7L63.8 314.7L64 318.8L64.3 322L64.5 322.4L64.7 322.4L65 322.4L65.2 322.4L65.5 322.4L65.7 322.4L65.9 322.3L66.2 322.2L66.4 322L66.7 321.9L66.9 316.3L67.1 312.7L67.4 312.7L67.6 312.7L67.9 312.9L68.1 320L68.3 320.3L68.6 320.3L68.8 320.3L69.1 320.3L69.3 320.3L69.5 320.3L69.8 320.3L70 318.1L70.3 313.4L70.5 312.7L70.7 312.7L71 312.7L71.2 312.7L71.5 314.7L71.7 318.8L71.9 322L72.2 322.4L72.4 322.4L72.6 322.4L72.9 322.4L73.1 322.4L73.4 322.4L73.6 322.3L73.8 322.2L74.1 322L74.3 321.9L74.6 316.3L74.8 312.7L75 312.7L75.3 312.7L75.5 312.9L75.8 320L76 320.3L76.2 320.3L76.5 320.3L76.7 320.3L77 320.3"/><path id="p25" d="M-0.2 318.9L0 318.9L0.2 318.9L0.5 318.9L0.7 318.9L1 316.4L1.2 313.2L1.4 312.7L1.7 312.7L1.9 312.7L2.2 312.7L2.4 314.7L2.6 318.8L2.9 322L3.1 322.4L3.4 322.4L3.6 322.4L3.8 322.4L4.1 322.4L4.3 322.4L4.6 322.3L4.8 322.2L5 322L5.3 321.9L5.5 316.3L5.8 312.7L6 312.7L6.2 312.7L6.5 312.8L6.7 317.6L7 318.9L7.2 318.9L7.4 318.9L7.7 318.9L7.9 318.9L8.2 318.9L8.4 318.9L8.6 316.4L8.9 313.2L9.1 312.7L9.4 312.7L9.6 312.7L9.8 312.7L10.1 314.7L10.3 318.8L10.5 322L10.8 322.4L11 322.4L11.3 322.4L11.5 322.4L11.7 322.4L12 322.4L12.2 322.3L12.5 322.2L12.7 322L12.9 321.9L13.2 316.3L13.4 312.7L13.7 312.7L13.9 312.7L14.1 312.8L14.4 317.6L14.6 318.9L14.9 318.9L15.1 318.9L15.3 318.9L15.6 318.9L15.8 318.9L16.1 318.9L16.3 316.4L16.5 313.2L16.8 312.7L17 312.7L17.3 312.7L17.5 312.7L17.7 314.7L18 318.8L18.2 322L18.5 322.4L18.7 322.4L18.9 322.4L19.2 322.4L19.4 322.4L19.7 322.4L19.9 322.3L20.1 322.2L20.4 322L20.6 321.9L20.9 316.3L21.1 312.7L21.3 312.7L21.6 312.7L21.8 312.8L22.1 317.6L22.3 318.9L22.5 318.9L22.8 318.9L23 318.9L23.3 318.9L23.5 318.9L23.7 318.9L24 316.4L24.2 313.2L24.5 312.7L24.7 312.7L24.9 312.7L25.2 312.7L25.4 314.7L25.7 318.8L25.9 322L26.1 322.4L26.4 322.4L26.6 322.4L26.9 322.4L27.1 322.4L27.3 322.4L27.6 322.3L27.8 322.2L28.1 322L28.3 321.9L28.5 316.3L28.8 312.7L29 312.7L29.3 312.7L29.5 312.8L29.7 317.6L30 318.9L30.2 318.9L30.5 318.9L30.7 318.9L30.9 318.9L31.2 318.9L31.4 318.9L31.6 316.4L31.9 313.2L32.1 312.7L32.4 312.7L32.6 312.7L32.8 312.7L33.1 314.7L33.3 318.8L33.6 322L33.8 322.4L34 322.4L34.3 322.4L34.5 322.4L34.8 322.4L35 322.4L35.2 322.3L35.5 322.2L35.7 322L36 321.9L36.2 316.3L36.4 312.7L36.7 312.7L36.9 312.7L37.2 312.8L37.4 317.6L37.6 318.9L37.9 318.9L38.1 318.9L38.4 318.9L38.6 318.9L38.8 318.9L39.1 318.9L39.3 316.4L39.6 313.2L39.8 312.7L40 312.7L40.3 312.7L40.5 312.7L40.8 314.7L41 318.8L41.2 322L41.5 322.4L41.7 322.4L42 322.4L42.2 322.4L42.4 322.4L42.7 322.4L42.9 322.3L43.2 322.2L43.4 322L43.6 321.9L43.9 316.3L44.1 312.7L44.4 312.7L44.6 312.7L44.8 312.8L45.1 317.6L45.3 318.9L45.6 318.9L45.8 318.9L46 318.9L46.3 318.9L46.5 318.9L46.8 318.9L47 316.4L47.2 313.2L47.5 312.7L47.7 312.7L48 312.7L48.2 312.7L48.4 314.7L48.7 318.8L48.9 322L49.2 322.4L49.4 322.4L49.6 322.4L49.9 322.4L50.1 322.4L50.4 322.4L50.6 322.3L50.8 322.2L51.1 322L51.3 321.9L51.5 316.3L51.8 312.7L52 312.7L52.3 312.7L52.5 312.8L52.7 317.6L53 318.9L53.2 318.9L53.5 318.9L53.7 318.9L53.9 318.9L54.2 318.9L54.4 318.9L54.7 316.4L54.9 313.2L55.1 312.7L55.4 312.7L55.6 312.7L55.9 312.7L56.1 314.7L56.3 318.8L56.6 322L56.8 322.4L57.1 322.4L57.3 322.4L57.5 322.4L57.8 322.4L58 322.4L58.3 322.3L58.5 322.2L58.7 322L59 321.9L59.2 316.3L59.5 312.7L59.7 312.7L59.9 312.7L60.2 312.8L60.4 317.6L60.7 318.9L60.9 318.9L61.1 318.9L61.4 318.9L61.6 318.9L61.9 318.9L62.1 318.9L62.3 316.4L62.6 313.2L62.8 312.7L63.1 312.7L63.3 312.7L63.5 312.7L63.8 314.7L64 318.8L64.3 322L64.5 322.4L64.7 322.4L65 322.4L65.2 322.4L65.5 322.4L65.7 322.4L65.9 322.3L66.2 322.2L66.4 322L66.7 321.9L66.9 316.3L67.1 312.7L67.4 312.7L67.6 312.7L67.9 312.8L68.1 317.6L68.3 318.9L68.6 318.9L68.8 318.9L69.1 318.9L69.3 318.9L69.5 318.9L69.8 318.9L70 316.4L70.3 313.2L70.5 312.7L70.7 312.7L71 312.7L71.2 312.7L71.5 314.7L71.7 318.8L71.9 322L72.2 322.4L72.4 322.4L72.6 322.4L72.9 322.4L73.1 322.4L73.4 322.4L73.6 322.3L73.8 322.2L74.1 322L74.3 321.9L74.6 316.3L74.8 312.7L75 312.7L75.3 312.7L75.5 312.8L75.8 317.6L76 318.9L76.2 318.9L76.5 318.9L76.7 318.9L77 318.9"/><path id="p26" d="M-0.2 310.1L0 319L0.2 313L0.5 302L0.7 298.7L1 298.7L1.2 298.7L1.4 299.9L1.7 305L1.9 310.5L2.2 312.7L2.4 314.7L2.6 318.8L2.9 322L3.1 322.4L3.4 322.4L3.6 322.4L3.8 322.4L4.1 322.4L4.3 322.4L4.6 322.3L4.8 322.2L5 322L5.3 321.9L5.5 310.7L5.8 306.1L6 306.1L6.2 306.1L6.5 306.1L6.7 306.1L7 306.1L7.2 306.1L7.4 310.1L7.7 319L7.9 313L8.2 302L8.4 298.7L8.6 298.7L8.9 298.7L9.1 299.9L9.4 305L9.6 310.5L9.8 312.7L10.1 314.7L10.3 318.8L10.5 322L10.8 322.4L11 322.4L11.3 322.4L11.5 322.4L11.7 322.4L12 322.4L12.2 322.3L12.5 322.2L12.7 322L12.9 321.9L13.2 310.7L13.4 306.1L13.7 306.1L13.9 306.1L14.1 306.1L14.4 306.1L14.6 306.1L14.9 306.1L15.1 310.1L15.3 319L15.6 313L15.8 302L16.1 298.7L16.3 298.7L16.5 298.7L16.8 299.9L17 305L17.3 310.5L17.5 312.7L17.7 314.7L18 318.8L18.2 322L18.5 322.4L18.7 322.4L18.9 322.4L19.2 322.4L19.4 322.4L19.7 322.4L19.9 322.3L20.1 322.2L20.4 322L20.6 321.9L20.9 310.7L21.1 306.1L21.3 306.1L21.6 306.1L21.8 306.1L22.1 306.1L22.3 306.1L22.5 306.1L22.8 310.1L23 319L23.3 313L23.5 302L23.7 298.7L24 298.7L24.2 298.7L24.5 299.9L24.7 305L24.9 310.5L25.2 312.7L25.4 314.7L25.7 318.8L25.9 322L26.1 322.4L26.4 322.4L26.6 322.4L26.9 322.4L27.1 322.4L27.3 322.4L27.6 322.3L27.8 322.2L28.1 322L28.3 321.9L28.5 310.7L28.8 306.1L29 306.1L29.3 306.1L29.5 306.1L29.7 306.1L30 306.1L30.2 306.1L30.5 310.1L30.7 319L30.9 313L31.2 302L31.4 298.7L31.6 298.7L31.9 298.7L32.1 299.9L32.4 305L32.6 310.5L32.8 312.7L33.1 314.7L33.3 318.8L33.6 322L33.8 322.4L34 322.4L34.3 322.4L34.5 322.4L34.8 322.4L35 322.4L35.2 322.3L35.5 322.2L35.7 322L36 321.9L36.2 310.7L36.4 306.1L36.7 306.1L36.9 306.1L37.2 306.1L37.4 306.1L37.6 306.1L37.9 306.1L38.1 310.1L38.4 319L38.6 313L38.8 302L39.1 298.7L39.3 298.7L39.6 298.7L39.8 299.9L40 305L40.3 310.5L40.5 312.7L40.8 314.7L41 318.8L41.2 322L41.5 322.4L41.7 322.4L42 322.4L42.2 322.4L42.4 322.4L42.7 322.4L42.9 322.3L43.2 322.2L43.4 322L43.6 321.9L43.9 310.7L44.1 306.1L44.4 306.1L44.6 306.1L44.8 306.1L45.1 306.1L45.3 306.1L45.6 306.1L45.8 310.1L46 319L46.3 313L46.5 302L46.8 298.7L47 298.7L47.2 298.7L47.5 299.9L47.7 305L48 310.5L48.2 312.7L48.4 314.7L48.7 318.8L48.9 322L49.2 322.4L49.4 322.4L49.6 322.4L49.9 322.4L50.1 322.4L50.4 322.4L50.6 322.3L50.8 322.2L51.1 322L51.3 321.9L51.5 310.7L51.8 306.1L52 306.1L52.3 306.1L52.5 306.1L52.7 306.1L53 306.1L53.2 306.1L53.5 310.1L53.7 319L53.9 313L54.2 302L54.4 298.7L54.7 298.7L54.9 298.7L55.1 299.9L55.4 305L55.6 310.5L55.9 312.7L56.1 314.7L56.3 318.8L56.6 322L56.8 322.4L57.1 322.4L57.3 322.4L57.5 322.4L57.8 322.4L58 322.4L58.3 322.3L58.5 322.2L58.7 322L59 321.9L59.2 310.7L59.5 306.1L59.7 306.1L59.9 306.1L60.2 306.1L60.4 306.1L60.7 306.1L60.9 306.1L61.1 310.1L61.4 319L61.6 313L61.9 302L62.1 298.7L62.3 298.7L62.6 298.7L62.8 299.9L63.1 305L63.3 310.5L63.5 312.7L63.8 314.7L64 318.8L64.3 322L64.5 322.4L64.7 322.4L65 322.4L65.2 322.4L65.5 322.4L65.7 322.4L65.9 322.3L66.2 322.2L66.4 322L66.7 321.9L66.9 310.7L67.1 306.1L67.4 306.1L67.6 306.1L67.9 306.1L68.1 306.1L68.3 306.1L68.6 306.1L68.8 310.1L69.1 319L69.3 313L69.5 302L69.8 298.7L70 298.7L70.3 298.7L70.5 299.9L70.7 305L71 310.5L71.2 312.7L71.5 314.7L71.7 318.8L71.9 322L72.2 322.4L72.4 322.4L72.6 322.4L72.9 322.4L73.1 322.4L73.4 322.4L73.6 322.3L73.8 322.2L74.1 322L74.3 321.9L74.6 310.7L74.8 306.1L75 306.1L75.3 306.1L75.5 306.1L75.8 306.1L76 306.1L76.2 306.1L76.5 310.1L76.7 319L77 313"/><path id="p27" d="M-0.2 311.5L0 317.1L0.2 311.9L0.5 302.6L0.7 299.8L1 299.8L1.2 299.8L1.4 300.9L1.7 305.3L1.9 310.3L2.2 312.7L2.4 314.2L2.6 318.2L2.9 321.7L3.1 322.4L3.4 322.4L3.6 322.4L3.8 322.4L4.1 322.4L4.3 322.4L4.6 322.3L4.8 322.2L5 322L5.3 321.9L5.5 314.6L5.8 309L6 309L6.2 309L6.5 309L6.7 309L7 309L7.2 309L7.4 311.5L7.7 317.1L7.9 311.9L8.2 302.6L8.4 299.8L8.6 299.8L8.9 299.8L9.1 300.9L9.4 305.3L9.6 310.3L9.8 312.7L10.1 314.2L10.3 318.2L10.5 321.7L10.8 322.4L11 322.4L11.3 322.4L11.5 322.4L11.7 322.4L12 322.4L12.2 322.3L12.5 322.2L12.7 322L12.9 321.9L13.2 314.6L13.4 309L13.7 309L13.9 309L14.1 309L14.4 309L14.6 309L14.9 309L15.1 311.5L15.3 317.1L15.6 311.9L15.8 302.6L16.1 299.8L16.3 299.8L16.5 299.8L16.8 300.9L17 305.3L17.3 310.3L17.5 312.7L17.7 314.2L18 318.2L18.2 321.7L18.5 322.4L18.7 322.4L18.9 322.4L19.2 322.4L19.4 322.4L19.7 322.4L19.9 322.3L20.1 322.2L20.4 322L20.6 321.9L20.9 314.6L21.1 309L21.3 309L21.6 309L21.8 309L22.1 309L22.3 309L22.5 309L22.8 311.5L23 317.1L23.3 311.9L23.5 302.6L23.7 299.8L24 299.8L24.2 299.8L24.5 300.9L24.7 305.3L24.9 310.3L25.2 312.7L25.4 314.2L25.7 318.2L25.9 321.7L26.1 322.4L26.4 322.4L26.6 322.4L26.9 322.4L27.1 322.4L27.3 322.4L27.6 322.3L27.8 322.2L28.1 322L28.3 321.9L28.5 314.6L28.8 309L29 309L29.3 309L29.5 309L29.7 309L30 309L30.2 309L30.5 311.5L30.7 317.1L30.9 311.9L31.2 302.6L31.4 299.8L31.6 299.8L31.9 299.8L32.1 300.9L32.4 305.3L32.6 310.3L32.8 312.7L33.1 314.2L33.3 318.2L33.6 321.7L33.8 322.4L34 322.4L34.3 322.4L34.5 322.4L34.8 322.4L35 322.4L35.2 322.3L35.5 322.2L35.7 322L36 321.9L36.2 314.6L36.4 309L36.7 309L36.9 309L37.2 309L37.4 309L37.6 309L37.9 309L38.1 311.5L38.4 317.1L38.6 311.9L38.8 302.6L39.1 299.8L39.3 299.8L39.6 299.8L39.8 300.9L40 305.3L40.3 310.3L40.5 312.7L40.8 314.2L41 318.2L41.2 321.7L41.5 322.4L41.7 322.4L42 322.4L42.2 322.4L42.4 322.4L42.7 322.4L42.9 322.3L43.2 322.2L43.4 322L43.6 321.9L43.9 314.6L44.1 309L44.4 309L44.6 309L44.8 309L45.1 309L45.3 309L45.6 309L45.8 311.5L46 317.1L46.3 311.9L46.5 302.6L46.8 299.8L47 299.8L47.2 299.8L47.5 300.9L47.7 305.3L48 310.3L48.2 312.7L48.4 314.2L48.7 318.2L48.9 321.7L49.2 322.4L49.4 322.4L49.6 322.4L49.9 322.4L50.1 322.4L50.4 322.4L50.6 322.3L50.8 322.2L51.1 322L51.3 321.9L51.5 314.6L51.8 309L52 309L52.3 309L52.5 309L52.7 309L53 309L53.2 309L53.5 311.5L53.7 317.1L53.9 311.9L54.2 302.6L54.4 299.8L54.7 299.8L54.9 299.8L55.1 300.9L55.4 305.3L55.6 310.3L55.9 312.7L56.1 314.2L56.3 318.2L56.6 321.7L56.8 322.4L57.1 322.4L57.3 322.4L57.5 322.4L57.8 322.4L58 322.4L58.3 322.3L58.5 322.2L58.7 322L59 321.9L59.2 314.6L59.5 309L59.7 309L59.9 309L60.2 309L60.4 309L60.7 309L60.9 309L61.1 311.5L61.4 317.1L61.6 311.9L61.9 302.6L62.1 299.8L62.3 299.8L62.6 299.8L62.8 300.9L63.1 305.3L63.3 310.3L63.5 312.7L63.8 314.2L64 318.2L64.3 321.7L64.5 322.4L64.7 322.4L65 322.4L65.2 322.4L65.5 322.4L65.7 322.4L65.9 322.3L66.2 322.2L66.4 322L66.7 321.9L66.9 314.6L67.1 309L67.4 309L67.6 309L67.9 309L68.1 309L68.3 309L68.6 309L68.8 311.5L69.1 317.1L69.3 311.9L69.5 302.6L69.8 299.8L70 299.8L70.3 299.8L70.5 300.9L70.7 305.3L71 310.3L71.2 312.7L71.5 314.2L71.7 318.2L71.9 321.7L72.2 322.4L72.4 322.4L72.6 322.4L72.9 322.4L73.1 322.4L73.4 322.4L73.6 322.3L73.8 322.2L74.1 322L74.3 321.9L74.6 314.6L74.8 309L75 309L75.3 309L75.5 309L75.8 309L76 309L76.2 309L76.5 311.5L76.7 317.1L77 311.9"/><path id="p28" d="M-0.2 312.9L0 315.1L0.2 310.9L0.5 303.3L0.7 301L1 301L1.2 301L1.4 301.9L1.7 305.7L1.9 310.2L2.2 312.6L2.4 313.9L2.6 317.7L2.9 321.4L3.1 322.4L3.4 322.4L3.6 322.4L3.8 322.4L4.1 322.4L4.3 322.4L4.6 322.3L4.8 322.2L5 322L5.3 321.9L5.5 317.4L5.8 312L6 311.9L6.2 311.9L6.5 311.9L6.7 311.9L7 311.9L7.2 311.9L7.4 312.9L7.7 315.1L7.9 310.9L8.2 303.3L8.4 301L8.6 301L8.9 301L9.1 301.9L9.4 305.7L9.6 310.2L9.8 312.6L10.1 313.9L10.3 317.7L10.5 321.4L10.8 322.4L11 322.4L11.3 322.4L11.5 322.4L11.7 322.4L12 322.4L12.2 322.3L12.5 322.2L12.7 322L12.9 321.9L13.2 317.4L13.4 312L13.7 311.9L13.9 311.9L14.1 311.9L14.4 311.9L14.6 311.9L14.9 311.9L15.1 312.9L15.3 315.1L15.6 310.9L15.8 303.3L16.1 301L16.3 301L16.5 301L16.8 301.9L17 305.7L17.3 310.2L17.5 312.6L17.7 313.9L18 317.7L18.2 321.4L18.5 322.4L18.7 322.4L18.9 322.4L19.2 322.4L19.4 322.4L19.7 322.4L19.9 322.3L20.1 322.2L20.4 322L20.6 321.9L20.9 317.4L21.1 312L21.3 311.9L21.6 311.9L21.8 311.9L22.1 311.9L22.3 311.9L22.5 311.9L22.8 312.9L23 315.1L23.3 310.9L23.5 303.3L23.7 301L24 301L24.2 301L24.5 301.9L24.7 305.7L24.9 310.2L25.2 312.6L25.4 313.9L25.7 317.7L25.9 321.4L26.1 322.4L26.4 322.4L26.6 322.4L26.9 322.4L27.1 322.4L27.3 322.4L27.6 322.3L27.8 322.2L28.1 322L28.3 321.9L28.5 317.4L28.8 312L29 311.9L29.3 311.9L29.5 311.9L29.7 311.9L30 311.9L30.2 311.9L30.5 312.9L30.7 315.1L30.9 310.9L31.2 303.3L31.4 301L31.6 301L31.9 301L32.1 301.9L32.4 305.7L32.6 310.2L32.8 312.6L33.1 313.9L33.3 317.7L33.6 321.4L33.8 322.4L34 322.4L34.3 322.4L34.5 322.4L34.8 322.4L35 322.4L35.2 322.3L35.5 322.2L35.7 322L36 321.9L36.2 317.4L36.4 312L36.7 311.9L36.9 311.9L37.2 311.9L37.4 311.9L37.6 311.9L37.9 311.9L38.1 312.9L38.4 315.1L38.6 310.9L38.8 303.3L39.1 301L39.3 301L39.6 301L39.8 301.9L40 305.7L40.3 310.2L40.5 312.6L40.8 313.9L41 317.7L41.2 321.4L41.5 322.4L41.7 322.4L42 322.4L42.2 322.4L42.4 322.4L42.7 322.4L42.9 322.3L43.2 322.2L43.4 322L43.6 321.9L43.9 317.4L44.1 312L44.4 311.9L44.6 311.9L44.8 311.9L45.1 311.9L45.3 311.9L45.6 311.9L45.8 312.9L46 315.1L46.3 310.9L46.5 303.3L46.8 301L47 301L47.2 301L47.5 301.9L47.7 305.7L48 310.2L48.2 312.6L48.4 313.9L48.7 317.7L48.9 321.4L49.2 322.4L49.4 322.4L49.6 322.4L49.9 322.4L50.1 322.4L50.4 322.4L50.6 322.3L50.8 322.2L51.1 322L51.3 321.9L51.5 317.4L51.8 312L52 311.9L52.3 311.9L52.5 311.9L52.7 311.9L53 311.9L53.2 311.9L53.5 312.9L53.7 315.1L53.9 310.9L54.2 303.3L54.4 301L54.7 301L54.9 301L55.1 301.9L55.4 305.7L55.6 310.2L55.9 312.6L56.1 313.9L56.3 317.7L56.6 321.4L56.8 322.4L57.1 322.4L57.3 322.4L57.5 322.4L57.8 322.4L58 322.4L58.3 322.3L58.5 322.2L58.7 322L59 321.9L59.2 317.4L59.5 312L59.7 311.9L59.9 311.9L60.2 311.9L60.4 311.9L60.7 311.9L60.9 311.9L61.1 312.9L61.4 315.1L61.6 310.9L61.9 303.3L62.1 301L62.3 301L62.6 301L62.8 301.9L63.1 305.7L63.3 310.2L63.5 312.6L63.8 313.9L64 317.7L64.3 321.4L64.5 322.4L64.7 322.4L65 322.4L65.2 322.4L65.5 322.4L65.7 322.4L65.9 322.3L66.2 322.2L66.4 322L66.7 321.9L66.9 317.4L67.1 312L67.4 311.9L67.6 311.9L67.9 311.9L68.1 311.9L68.3 311.9L68.6 311.9L68.8 312.9L69.1 315.1L69.3 310.9L69.5 303.3L69.8 301L70 301L70.3 301L70.5 301.9L70.7 305.7L71 310.2L71.2 312.6L71.5 313.9L71.7 317.7L71.9 321.4L72.2 322.4L72.4 322.4L72.6 322.4L72.9 322.4L73.1 322.4L73.4 322.4L73.6 322.3L73.8 322.2L74.1 322L74.3 321.9L74.6 317.4L74.8 312L75 311.9L75.3 311.9L75.5 311.9L75.8 311.9L76 311.9L76.2 311.9L76.5 312.9L76.7 315.1L77 310.9"/><path id="p29" d="M-0.2 315.2L0 315.8L0.2 311.8L0.5 304.4L0.7 302.2L1 302.2L1.2 302.2L1.4 303L1.7 306.2L1.9 310.1L2.2 312.5L2.4 313.5L2.6 317.1L2.9 321L3.1 322.4L3.4 322.4L3.6 322.4L3.8 322.4L4.1 322.4L4.3 322.4L4.6 322.3L4.8 322.2L5 322L5.3 321.9L5.5 319.3L5.8 315.1L6 314.9L6.2 314.9L6.5 314.9L6.7 314.9L7 314.9L7.2 314.9L7.4 315.2L7.7 315.8L7.9 311.8L8.2 304.4L8.4 302.2L8.6 302.2L8.9 302.2L9.1 303L9.4 306.2L9.6 310.1L9.8 312.5L10.1 313.5L10.3 317.1L10.5 321L10.8 322.4L11 322.4L11.3 322.4L11.5 322.4L11.7 322.4L12 322.4L12.2 322.3L12.5 322.2L12.7 322L12.9 321.9L13.2 319.3L13.4 315.1L13.7 314.9L13.9 314.9L14.1 314.9L14.4 314.9L14.6 314.9L14.9 314.9L15.1 315.2L15.3 315.8L15.6 311.8L15.8 304.4L16.1 302.2L16.3 302.2L16.5 302.2L16.8 303L17 306.2L17.3 310.1L17.5 312.5L17.7 313.5L18 317.1L18.2 321L18.5 322.4L18.7 322.4L18.9 322.4L19.2 322.4L19.4 322.4L19.7 322.4L19.9 322.3L20.1 322.2L20.4 322L20.6 321.9L20.9 319.3L21.1 315.1L21.3 314.9L21.6 314.9L21.8 314.9L22.1 314.9L22.3 314.9L22.5 314.9L22.8 315.2L23 315.8L23.3 311.8L23.5 304.4L23.7 302.2L24 302.2L24.2 302.2L24.5 303L24.7 306.2L24.9 310.1L25.2 312.5L25.4 313.5L25.7 317.1L25.9 321L26.1 322.4L26.4 322.4L26.6 322.4L26.9 322.4L27.1 322.4L27.3 322.4L27.6 322.3L27.8 322.2L28.1 322L28.3 321.9L28.5 319.3L28.8 315.1L29 314.9L29.3 314.9L29.5 314.9L29.7 314.9L30 314.9L30.2 314.9L30.5 315.2L30.7 315.8L30.9 311.8L31.2 304.4L31.4 302.2L31.6 302.2L31.9 302.2L32.1 303L32.4 306.2L32.6 310.1L32.8 312.5L33.1 313.5L33.3 317.1L33.6 321L33.8 322.4L34 322.4L34.3 322.4L34.5 322.4L34.8 322.4L35 322.4L35.2 322.3L35.5 322.2L35.7 322L36 321.9L36.2 319.3L36.4 315.1L36.7 314.9L36.9 314.9L37.2 314.9L37.4 314.9L37.6 314.9L37.9 314.9L38.1 315.2L38.4 315.8L38.6 311.8L38.8 304.4L39.1 302.2L39.3 302.2L39.6 302.2L39.8 303L40 306.2L40.3 310.1L40.5 312.5L40.8 313.5L41 317.1L41.2 321L41.5 322.4L41.7 322.4L42 322.4L42.2 322.4L42.4 322.4L42.7 322.4L42.9 322.3L43.2 322.2L43.4 322L43.6 321.9L43.9 319.3L44.1 315.1L44.4 314.9L44.6 314.9L44.8 314.9L45.1 314.9L45.3 314.9L45.6 314.9L45.8 315.2L46 315.8L46.3 311.8L46.5 304.4L46.8 302.2L47 302.2L47.2 302.2L47.5 303L47.7 306.2L48 310.1L48.2 312.5L48.4 313.5L48.7 317.1L48.9 321L49.2 322.4L49.4 322.4L49.6 322.4L49.9 322.4L50.1 322.4L50.4 322.4L50.6 322.3L50.8 322.2L51.1 322L51.3 321.9L51.5 319.3L51.8 315.1L52 314.9L52.3 314.9L52.5 314.9L52.7 314.9L53 314.9L53.2 314.9L53.5 315.2L53.7 315.8L53.9 311.8L54.2 304.4L54.4 302.2L54.7 302.2L54.9 302.2L55.1 303L55.4 306.2L55.6 310.1L55.9 312.5L56.1 313.5L56.3 317.1L56.6 321L56.8 322.4L57.1 322.4L57.3 322.4L57.5 322.4L57.8 322.4L58 322.4L58.3 322.3L58.5 322.2L58.7 322L59 321.9L59.2 319.3L59.5 315.1L59.7 314.9L59.9 314.9L60.2 314.9L60.4 314.9L60.7 314.9L60.9 314.9L61.1 315.2L61.4 315.8L61.6 311.8L61.9 304.4L62.1 302.2L62.3 302.2L62.6 302.2L62.8 303L63.1 306.2L63.3 310.1L63.5 312.5L63.8 313.5L64 317.1L64.3 321L64.5 322.4L64.7 322.4L65 322.4L65.2 322.4L65.5 322.4L65.7 322.4L65.9 322.3L66.2 322.2L66.4 322L66.7 321.9L66.9 319.3L67.1 315.1L67.4 314.9L67.6 314.9L67.9 314.9L68.1 314.9L68.3 314.9L68.6 314.9L68.8 315.2L69.1 315.8L69.3 311.8L69.5 304.4L69.8 302.2L70 302.2L70.3 302.2L70.5 303L70.7 306.2L71 310.1L71.2 312.5L71.5 313.5L71.7 317.1L71.9 321L72.2 322.4L72.4 322.4L72.6 322.4L72.9 322.4L73.1 322.4L73.4 322.4L73.6 322.3L73.8 322.2L74.1 322L74.3 321.9L74.6 319.3L74.8 315.1L75 314.9L75.3 314.9L75.5 314.9L75.8 314.9L76 314.9L76.2 314.9L76.5 315.2L76.7 315.8L77 311.8"/><path id="p30" d="M-0.2 318.1L0 318.7L0.2 314.1L0.5 305.8L0.7 303.3L1 303.3L1.2 303.3L1.4 304L1.7 306.7L1.9 310.1L2.2 312.4L2.4 313.3L2.6 316.6L2.9 320.6L3.1 322.4L3.4 322.4L3.6 322.4L3.8 322.4L4.1 322.4L4.3 322.4L4.6 322.3L4.8 322.2L5 322L5.3 321.9L5.5 320.7L5.8 318.2L6 317.8L6.2 317.8L6.5 317.8L6.7 317.8L7 317.8L7.2 317.8L7.4 318.1L7.7 318.7L7.9 314.1L8.2 305.8L8.4 303.3L8.6 303.3L8.9 303.3L9.1 304L9.4 306.7L9.6 310.1L9.8 312.4L10.1 313.3L10.3 316.6L10.5 320.6L10.8 322.4L11 322.4L11.3 322.4L11.5 322.4L11.7 322.4L12 322.4L12.2 322.3L12.5 322.2L12.7 322L12.9 321.9L13.2 320.7L13.4 318.2L13.7 317.8L13.9 317.8L14.1 317.8L14.4 317.8L14.6 317.8L14.9 317.8L15.1 318.1L15.3 318.7L15.6 314.1L15.8 305.8L16.1 303.3L16.3 303.3L16.5 303.3L16.8 304L17 306.7L17.3 310.1L17.5 312.4L17.7 313.3L18 316.6L18.2 320.6L18.5 322.4L18.7 322.4L18.9 322.4L19.2 322.4L19.4 322.4L19.7 322.4L19.9 322.3L20.1 322.2L20.4 322L20.6 321.9L20.9 320.7L21.1 318.2L21.3 317.8L21.6 317.8L21.8 317.8L22.1 317.8L22.3 317.8L22.5 317.8L22.8 318.1L23 318.7L23.3 314.1L23.5 305.8L23.7 303.3L24 303.3L24.2 303.3L24.5 304L24.7 306.7L24.9 310.1L25.2 312.4L25.4 313.3L25.7 316.6L25.9 320.6L26.1 322.4L26.4 322.4L26.6 322.4L26.9 322.4L27.1 322.4L27.3 322.4L27.6 322.3L27.8 322.2L28.1 322L28.3 321.9L28.5 320.7L28.8 318.2L29 317.8L29.3 317.8L29.5 317.8L29.7 317.8L30 317.8L30.2 317.8L30.5 318.1L30.7 318.7L30.9 314.1L31.2 305.8L31.4 303.3L31.6 303.3L31.9 303.3L32.1 304L32.4 306.7L32.6 310.1L32.8 312.4L33.1 313.3L33.3 316.6L33.6 320.6L33.8 322.4L34 322.4L34.3 322.4L34.5 322.4L34.8 322.4L35 322.4L35.2 322.3L35.5 322.2L35.7 322L36 321.9L36.2 320.7L36.4 318.2L36.7 317.8L36.9 317.8L37.2 317.8L37.4 317.8L37.6 317.8L37.9 317.8L38.1 318.1L38.4 318.7L38.6 314.1L38.8 305.8L39.1 303.3L39.3 303.3L39.6 303.3L39.8 304L40 306.7L40.3 310.1L40.5 312.4L40.8 313.3L41 316.6L41.2 320.6L41.5 322.4L41.7 322.4L42 322.4L42.2 322.4L42.4 322.4L42.7 322.4L42.9 322.3L43.2 322.2L43.4 322L43.6 321.9L43.9 320.7L44.1 318.2L44.4 317.8L44.6 317.8L44.8 317.8L45.1 317.8L45.3 317.8L45.6 317.8L45.8 318.1L46 318.7L46.3 314.1L46.5 305.8L46.8 303.3L47 303.3L47.2 303.3L47.5 304L47.7 306.7L48 310.1L48.2 312.4L48.4 313.3L48.7 316.6L48.9 320.6L49.2 322.4L49.4 322.4L49.6 322.4L49.9 322.4L50.1 322.4L50.4 322.4L50.6 322.3L50.8 322.2L51.1 322L51.3 321.9L51.5 320.7L51.8 318.2L52 317.8L52.3 317.8L52.5 317.8L52.7 317.8L53 317.8L53.2 317.8L53.5 318.1L53.7 318.7L53.9 314.1L54.2 305.8L54.4 303.3L54.7 303.3L54.9 303.3L55.1 304L55.4 306.7L55.6 310.1L55.9 312.4L56.1 313.3L56.3 316.6L56.6 320.6L56.8 322.4L57.1 322.4L57.3 322.4L57.5 322.4L57.8 322.4L58 322.4L58.3 322.3L58.5 322.2L58.7 322L59 321.9L59.2 320.7L59.5 318.2L59.7 317.8L59.9 317.8L60.2 317.8L60.4 317.8L60.7 317.8L60.9 317.8L61.1 318.1L61.4 318.7L61.6 314.1L61.9 305.8L62.1 303.3L62.3 303.3L62.6 303.3L62.8 304L63.1 306.7L63.3 310.1L63.5 312.4L63.8 313.3L64 316.6L64.3 320.6L64.5 322.4L64.7 322.4L65 322.4L65.2 322.4L65.5 322.4L65.7 322.4L65.9 322.3L66.2 322.2L66.4 322L66.7 321.9L66.9 320.7L67.1 318.2L67.4 317.8L67.6 317.8L67.9 317.8L68.1 317.8L68.3 317.8L68.6 317.8L68.8 318.1L69.1 318.7L69.3 314.1L69.5 305.8L69.8 303.3L70 303.3L70.3 303.3L70.5 304L70.7 306.7L71 310.1L71.2 312.4L71.5 313.3L71.7 316.6L71.9 320.6L72.2 322.4L72.4 322.4L72.6 322.4L72.9 322.4L73.1 322.4L73.4 322.4L73.6 322.3L73.8 322.2L74.1 322L74.3 321.9L74.6 320.7L74.8 318.2L75 317.8L75.3 317.8L75.5 317.8L75.8 317.8L76 317.8L76.2 317.8L76.5 318.1L76.7 318.7L77 314.1"/>
<g id="sq" fill="none" stroke-width="1.39" stroke-linejoin="miter"><path d="M0 475.5H1.92V486.8H5.75V475.5H9.59V486.8H13.43V475.5H17.26V486.8H21.1V475.5H24.94V486.8H28.77V475.5H32.61V486.8H36.44V475.5H40.28V486.8H44.12V475.5H47.95V486.8H51.79V475.5H55.63V486.8H59.46V475.5H63.3V486.8H67.13V475.5H70.97V486.8H74.81V475.5H76.72" stroke="#E24A33"/><path d="M0.7 488.6H3.84V500.0H7.67V488.6H11.51V500.0H15.35V488.6H19.18V500.0H23.02V488.6H26.85V500.0H30.69V488.6H34.53V500.0H38.36V488.6H42.2V500.0H46.04V488.6H49.87V500.0H53.71V488.6H57.54V500.0H61.38V488.6H65.22V500.0H69.05V488.6H72.89V500.0H77.22" stroke="#348ABD"/></g></defs>
<g clip-path="url(#c1)" fill="none" stroke-width="1.39" stroke-linejoin="round">
<g stroke="#E24A33"><use href="#p0" x="137.5"/><use href="#p0" x="214.22"/><use href="#p0" x="290.95"/><use href="#p0" x="367.67"/><use href="#p0" x="444.4"/><use href="#p0" x="521.12"/><use href="#p0" x="597.85"/><use href="#p0" x="674.57"/><use href="#p0" x="751.3"/><use href="#p0" x="828.02"/></g>
<g stroke="#348ABD"><use href="#p1" x="137.5"/><use href="#p1" x="214.22"/><use href="#p1" x="290.95"/><use href="#p1" x="367.67"/><use href="#p1" x="444.4"/><use href="#p1" x="521.12"/><use href="#p1" x="597.85"/><use href="#p1" x="674.57"/><use href="#p1" x="751.3"/><use href="#p1" x="828.02"/></g>
<g stroke="#988ED5"><use href="#p2" x="137.5"/><use href="#p2" x="214.22"/><use href="#p2" x="290.95"/><use href="#p2" x="367.67"/><use href="#p2" x="444.4"/><use href="#p2" x="521.12"/><use href="#p2" x="597.85"/><use href="#p2" x="674.57"/><use href="#p2" x="751.3"/><use href="#p2" x="828.02"/></g>
<g stroke="#FBC15E"><use href="#p3" x="137.5"/><use href="#p3" x="214.22"/><use href="#p3" x="290.95"/><use href="#p3" x="367.67"/><use href="#p3" x="444.4"/><use href="#p3" x="521.12"/><use href="#p3" x="597.85"/><use href="#p3" x="674.57"/><use href="#p3" x="751.3"/><use href="#p3" x="828.02"/></g>
<g stroke="#FBC15E"><use href="#p4" x="137.5"/><use href="#p4" x="214.22"/><use href="#p4" x="290.95"/><use href="#p4" x="367.67"/><use href="#p4" x="444.4"/><use href="#p4" x="521.12"/><use href="#p4" x="597.85"/><use href="#p4" x="674.57"/><use href="#p4" x="751.3"/><use href="#p4" x="828.02"/></g>
<g stroke="#FBC15E"><use href="#p5" x="137.5"/><use href="#p5" x="214.22"/><use href="#p5" x="290.95"/><use href="#p5" x="367.67"/><use href="#p5" x="444.4"/><use href="#p5" x="521.12"/><use href="#p5" x="597.85"/><use href="#p5" x="674.57"/><use href="#p5" x="751.3"/><use href="#p5" x="828.02"/></g>
<g stroke="#FBC15E"><use href="#p6" x="137.5"/><use href="#p6" x="214.22"/><use href="#p6" x="290.95"/><use href="#p6" x="367.67"/><use href="#p6" x="444.4"/><use href="#p6" x="521.12"/><use href="#p6" x="597.85"/><use href="#p6" x="674.57"/><use href="#p6" x="751.3"/><use href="#p6" x="828.02"/></g>
<g stroke="#FBC15E"><use href="#p7" x="137.5"/><use href="#p7" x="214.22"/><use href="#p7" x="290.95"/><use href="#p7" x="367.67"/><use href="#p7" x="444.4"/><use href="#p7" x="521.12"/><use href="#p7" x="597.85"/><use href="#p7" x="674.57"/><use href="#p7" x="751.3"/><use href="#p7" x="828.02"/></g>
<g stroke="#FBC15E"><use href="#p8" x="137.5"/><use href="#p8" x="214.22"/><use href="#p8" x="290.95"/><use href="#p8" x="367.67"/><use href="#p8" x="444.4"/><use href="#p8" x="521.12"/><use href="#p8" x="597.85"/><use href="#p8" x="674.57"/><use href="#p8" x="751.3"/><use href="#p8" x="828.02"/></g>
<g stroke="#777777"><use href="#p9" x="137.5"/><use href="#p9" x="214.22"/><use href="#p9" x="290.95"/><use href="#p9" x="367.67"/><use href="#p9" x="444.4"/><use href="#p9" x="521.12"/><use href="#p9" x="597.85"/><use href="#p9" x="674.57"/><use href="#p9" x="751.3"/><use href="#p9" x="828.02"/></g>
<g stroke="#FFB5B8"><use href="#p10" x="137.5"/><use href="#p10" x="214.22"/><use href="#p10" x="290.95"/><use href="#p10" x="367.67"/><use href="#p10" x="444.4"/><use href="#p10" x="521.12"/><use href="#p10" x="597.85"/><use href="#p10" x="674.57"/><use href="#p10" x="751.3"/><use href="#p10" x="828.02"/></g>
<g stroke="#FBC15E"><use href="#p11" x="137.5"/><use href="#p11" x="214.22"/><use href="#p11" x="290.95"/><use href="#p11" x="367.67"/><use href="#p11" x="444.4"/><use href="#p11" x="521.12"/><use href="#p11" x="597.85"/><use href="#p11" x="674.57"/><use href="#p11" x="751.3"/><use href="#p11" x="828.02"/></g>
<g stroke="#988ED5"><use href="#p12" x="137.5"/><use href="#p12" x="214.22"/><use href="#p12" x="290.95"/><use href="#p12" x="367.67"/><use href="#p12" x="444.4"/><use href="#p12" x="521.12"/><use href="#p12" x="597.85"/><use href="#p12" x="674.57"/><use href="#p12" x="751.3"/><use href="#p12" x="828.02"/></g>
<g stroke="#8EBA42"><use href="#p13" x="137.5"/><use href="#p13" x="214.22"/><use href="#p13" x="290.95"/><use href="#p13" x="367.67"/><use href="#p13" x="444.4"/><use href="#p13" x="521.12"/><use href="#p13" x="597.85"/><use href="#p13" x="674.57"/><use href="#p13" x="751.3"/><use href="#p13" x="828.02"/></g>
<g stroke="#8EBA42"><use href="#p14" x="137.5"/><use href="#p14" x="214.22"/><use href="#p14" x="290.95"/><use href="#p14" x="367.67"/><use href="#p14" x="444.4"/><use href="#p14" x="521.12"/><use href="#p14" x="597.85"/><use href="#p14" x="674.57"/><use href="#p14" x="751.3"/><use href="#p14" x="828.02"/></g>
<g stroke="#E24A33"><use href="#p15" x="137.5"/><use href="#p15" x="214.22"/><use href="#p15" x="290.95"/><use href="#p15" x="367.67"/><use href="#p15" x="444.4"/><use href="#p15" x="521.12"/><use href="#p15" x="597.85"/><use href="#p15" x="674.57"/><use href="#p15" x="751.3"/><use href="#p15" x="828.02"/></g>
<g stroke="#E24A33"><use href="#p16" x="137.5"/><use href="#p16" x="214.22"/><use href="#p16" x="290.95"/><use href="#p16" x="367.67"/><use href="#p16" x="444.4"/><use href="#p16" x="521.12"/><use href="#p16" x="597.85"/><use href="#p16" x="674.57"/><use href="#p16" x="751.3"/><use href="#p16" x="828.02"/></g>
<g stroke="#E24A33"><use href="#p17" x="137.5"/><use href="#p17" x="214.22"/><use href="#p17" x="290.95"/><use href="#p17" x="367.67"/><use href="#p17" x="444.4"/><use href="#p17" x="521.12"/><use href="#p17" x="597.85"/><use href="#p17" x="674.57"/><use href="#p17" x="751.3"/><use href="#p17" x="828.02"/></g>
<g stroke="#E24A33"><use href="#p18" x="137.5"/><use href="#p18" x="214.22"/><use href="#p18" x="290.95"/><use href="#p18" x="367.67"/><use href="#p18" x="444.4"/><use href="#p18" x="521.12"/><use href="#p18" x="597.85"/><use href="#p18" x="674.57"/><use href="#p18" x="751.3"/><use href="#p18" x="828.02"/></g>
<g stroke="#E24A33"><use href="#p19" x="137.5"/><use href="#p19" x="214.22"/><use href="#p19" x="290.95"/><use href="#p19" x="367.67"/><use href="#p19" x="444.4"/><use href="#p19" x="521.12"/><use href="#p19" x="597.85"/><use href="#p19" x="674.57"/><use href="#p19" x="751.3"/><use href="#p19" x="828.02"/></g>
<g stroke="#8EBA42"><use href="#p20" x="137.5"/><use href="#p20" x="214.22"/><use href="#p20" x="290.95"/><use href="#p20" x="367.67"/><use href="#p20" x="444.4"/><use href="#p20" x="521.12"/><use href="#p20" x="597.85"/><use href="#p20" x="674.57"/><use href="#p20" x="751.3"/><use href="#p20" x="828.02"/></g>
<g stroke="#777777"><use href="#p21" x="137.5"/><use href="#p21" x="214.22"/><use href="#p21" x="290.95"/><use href="#p21" x="367.67"/><use href="#p21" x="444.4"/><use href="#p21" x="521.12"/><use href="#p21" x="597.85"/><use href="#p21" x="674.57"/><use href="#p21" x="751.3"/><use href="#p21" x="828.02"/></g>
<g stroke="#777777"><use href="#p22" x="137.5"/><use href="#p22" x="214.22"/><use href="#p22" x="290.95"/><use href="#p22" x="367.67"/><use href="#p22" x="444.4"/><use href="#p22" x="521.12"/><use href="#p22" x="597.85"/><use href="#p22" x="674.57"/><use href="#p22" x="751.3"/><use href="#p22" x="828.02"/></g>
<g stroke="#FFB5B8"><use href="#p23" x="137.5"/><use href="#p23" x="214.22"/><use href="#p23" x="290.95"/><use href="#p23" x="367.67"/><use href="#p23" x="444.4"/><use href="#p23" x="521.12"/><use href="#p23" x="597.85"/><use href="#p23" x="674.57"/><use href="#p23" x="751.3"/><use href="#p23" x="828.02"/></g>
<g stroke="#E24A33"><use href="#p24" x="137.5"/><use href="#p24" x="214.22"/><use href="#p24" x="290.95"/><use href="#p24" x="367.67"/><use href="#p24" x="444.4"/><use href="#p24" x="521.12"/><use href="#p24" x="597.85"/><use href="#p24" x="674.57"/><use href="#p24" x="751.3"/><use href="#p24" x="828.02"/></g>
<g stroke="#E24A33"><use href="#p25" x="137.5"/><use href="#p25" x="214.22"/><use href="#p25" x="290.95"/><use href="#p25" x="367.67"/><use href="#p25" x="444.4"/><use href="#p25" x="521.12"/><use href="#p25" x="597.85"/><use href="#p25" x="674.57"/><use href="#p25" x="751.3"/><use href="#p25" x="828.02"/></g>
<g stroke="#348ABD"><use href="#p26" x="137.5"/><use href="#p26" x="214.22"/><use href="#p26" x="290.95"/><use href="#p26" x="367.67"/><use href="#p26" x="444.4"/><use href="#p26" x="521.12"/><use href="#p26" x="597.85"/><use href="#p26" x="674.57"/><use href="#p26" x="751.3"/><use href="#p26" x="828.02"/></g>
<g stroke="#348ABD"><use href="#p27" x="137.5"/><use href="#p27" x="214.22"/><use href="#p27" x="290.95"/><use href="#p27" x="367.67"/><use href="#p27" x="444.4"/><use href="#p27" x="521.12"/><use href="#p27" x="597.85"/><use href="#p27" x="674.57"/><use href="#p27" x="751.3"/><use href="#p27" x="828.02"/></g>
<g stroke="#348ABD"><use href="#p28" x="137.5"/><use href="#p28" x="214.22"/><use href="#p28" x="290.95"/><use href="#p28" x="367.67"/><use href="#p28" x="444.4"/><use href="#p28" x="521.12"/><use href="#p28" x="597.85"/><use href="#p28" x="674.57"/><use href="#p28" x="751.3"/><use href="#p28" x="828.02"/></g>
<g stroke="#348ABD"><use href="#p29" x="137.5"/><use href="#p29" x="214.22"/><use href="#p29" x="290.95"/><use href="#p29" x="367.67"/><use href="#p29" x="444.4"/><use href="#p29" x="521.12"/><use href="#p29" x="597.85"/><use href="#p29" x="674.57"/><use href="#p29" x="751.3"/><use href="#p29" x="828.02"/></g>
<g stroke="#348ABD"><use href="#p30" x="137.5"/><use href="#p30" x="214.22"/><use href="#p30" x="290.95"/><use href="#p30" x="367.67"/><use href="#p30" x="444.4"/><use href="#p30" x="521.12"/><use href="#p30" x="597.85"/><use href="#p30" x="674.57"/><use href="#p30" x="751.3"/><use href="#p30" x="828.02"/></g>
</g>
<g clip-path="url(#c2)">
<use href="#sq" x="137.5" y="0"/>
<use href="#sq" x="214.22" y="0"/>
<use href="#sq" x="290.95" y="0"/>
<use href="#sq" x="367.67" y="0"/>
<use href="#sq" x="444.4" y="0"/>
<use href="#sq" x="521.12" y="0"/>
<use href="#sq" x="597.85" y="0"/>
<use href="#sq" x="674.57" y="0"/>
<use href="#sq" x="751.3" y="0"/>
<use href="#sq" x="828.02" y="0"/>
</g>
<path d="M139 512.8H904.75" stroke="#988ED5" stroke-width="1.39" fill="none"/>
<g fill="#000" fill-opacity="0.1"><rect x="213.72" y="512.1" width="1.2" height="1.4"/><rect x="290.45" y="512.1" width="1.2" height="1.4"/><rect x="367.17" y="512.1" width="1.2" height="1.4"/><rect x="443.9" y="512.1" width="1.2" height="1.4"/><rect x="520.62" y="512.1" width="1.2" height="1.4"/><rect x="597.35" y="512.1" width="1.2" height="1.4"/><rect x="674.07" y="512.1" width="1.2" height="1.4"/><rect x="750.8" y="512.1" width="1.2" height="1.4"/><rect x="827.52" y="512.1" width="1.2" height="1.4"/></g>
<path d="M139 526.9H904.75" stroke="#FBC15E" stroke-width="1.39" fill="none"/>
<g fill="#000" fill-opacity="0.1"><rect x="213.72" y="526.2" width="1.2" height="1.4"/><rect x="290.45" y="526.2" width="1.2" height="1.4"/><rect x="367.17" y="526.2" width="1.2" height="1.4"/><rect x="443.9" y="526.2" width="1.2" height="1.4"/><rect x="520.62" y="526.2" width="1.2" height="1.4"/><rect x="597.35" y="526.2" width="1.2" height="1.4"/><rect x="674.07" y="526.2" width="1.2" height="1.4"/><rect x="750.8" y="526.2" width="1.2" height="1.4"/><rect x="827.52" y="526.2" width="1.2" height="1.4"/></g>
<path d="M139 525.6H904.75" stroke="#777777" stroke-width="1.39" fill="none"/>
<g fill="#000" fill-opacity="0.1"><rect x="213.72" y="524.9" width="1.2" height="1.4"/><rect x="290.45" y="524.9" width="1.2" height="1.4"/><rect x="367.17" y="524.9" width="1.2" height="1.4"/><rect x="443.9" y="524.9" width="1.2" height="1.4"/><rect x="520.62" y="524.9" width="1.2" height="1.4"/><rect x="597.35" y="524.9" width="1.2" height="1.4"/><rect x="674.07" y="524.9" width="1.2" height="1.4"/><rect x="750.8" y="524.9" width="1.2" height="1.4"/><rect x="827.52" y="524.9" width="1.2" height="1.4"/></g>
<path d="M139 539.75H904.75" stroke="#8EBA42" stroke-width="1.39" fill="none"/>
<g fill="#000" fill-opacity="0.1"><rect x="213.72" y="539.05" width="1.2" height="1.4"/><rect x="290.45" y="539.05" width="1.2" height="1.4"/><rect x="367.17" y="539.05" width="1.2" height="1.4"/><rect x="443.9" y="539.05" width="1.2" height="1.4"/><rect x="520.62" y="539.05" width="1.2" height="1.4"/><rect x="597.35" y="539.05" width="1.2" height="1.4"/><rect x="674.07" y="539.05" width="1.2" height="1.4"/><rect x="750.8" y="539.05" width="1.2" height="1.4"/><rect x="827.52" y="539.05" width="1.2" height="1.4"/></g>
<path d="M139 564H904.75" stroke="#FFB5B8" stroke-width="1.39" fill="none"/>
<g fill="#000" fill-opacity="0.1"><rect x="213.72" y="563.3" width="1.2" height="1.4"/><rect x="290.45" y="563.3" width="1.2" height="1.4"/><rect x="367.17" y="563.3" width="1.2" height="1.4"/><rect x="443.9" y="563.3" width="1.2" height="1.4"/><rect x="520.62" y="563.3" width="1.2" height="1.4"/><rect x="597.35" y="563.3" width="1.2" height="1.4"/><rect x="674.07" y="563.3" width="1.2" height="1.4"/><rect x="750.8" y="563.3" width="1.2" height="1.4"/><rect x="827.52" y="563.3" width="1.2" height="1.4"/></g>
<path d="M139 576.9H904.75" stroke="#E24A33" stroke-width="1.39" fill="none"/>
<g fill="#000" fill-opacity="0.1"><rect x="213.72" y="576.2" width="1.2" height="1.4"/><rect x="290.45" y="576.2" width="1.2" height="1.4"/><rect x="367.17" y="576.2" width="1.2" height="1.4"/><rect x="443.9" y="576.2" width="1.2" height="1.4"/><rect x="520.62" y="576.2" width="1.2" height="1.4"/><rect x="597.35" y="576.2" width="1.2" height="1.4"/><rect x="674.07" y="576.2" width="1.2" height="1.4"/><rect x="750.8" y="576.2" width="1.2" height="1.4"/><rect x="827.52" y="576.2" width="1.2" height="1.4"/></g>
<path d="M139 590.8H904.75" stroke="#988ED5" stroke-width="1.39" fill="none"/>
<g fill="#000" fill-opacity="0.1"><rect x="213.72" y="590.1" width="1.2" height="1.4"/><rect x="290.45" y="590.1" width="1.2" height="1.4"/><rect x="367.17" y="590.1" width="1.2" height="1.4"/><rect x="443.9" y="590.1" width="1.2" height="1.4"/><rect x="520.62" y="590.1" width="1.2" height="1.4"/><rect x="597.35" y="590.1" width="1.2" height="1.4"/><rect x="674.07" y="590.1" width="1.2" height="1.4"/><rect x="750.8" y="590.1" width="1.2" height="1.4"/><rect x="827.52" y="590.1" width="1.2" height="1.4"/></g>
<path d="M139 589.5H904.75" stroke="#348ABD" stroke-width="1.39" fill="none"/>
<g fill="#000" fill-opacity="0.1"><rect x="213.72" y="588.8" width="1.2" height="1.4"/><rect x="290.45" y="588.8" width="1.2" height="1.4"/><rect x="367.17" y="588.8" width="1.2" height="1.4"/><rect x="443.9" y="588.8" width="1.2" height="1.4"/><rect x="520.62" y="588.8" width="1.2" height="1.4"/><rect x="597.35" y="588.8" width="1.2" height="1.4"/><rect x="674.07" y="588.8" width="1.2" height="1.4"/><rect x="750.8" y="588.8" width="1.2" height="1.4"/><rect x="827.52" y="588.8" width="1.2" height="1.4"/></g>
<path d="M139 603.5H904.75" stroke="#777777" stroke-width="1.39" fill="none"/>
<g fill="#000" fill-opacity="0.1"><rect x="213.72" y="602.8" width="1.2" height="1.4"/><rect x="290.45" y="602.8" width="1.2" height="1.4"/><rect x="367.17" y="602.8" width="1.2" height="1.4"/><rect x="443.9" y="602.8" width="1.2" height="1.4"/><rect x="520.62" y="602.8" width="1.2" height="1.4"/><rect x="597.35" y="602.8" width="1.2" height="1.4"/><rect x="674.07" y="602.8" width="1.2" height="1.4"/><rect x="750.8" y="602.8" width="1.2" height="1.4"/><rect x="827.52" y="602.8" width="1.2" height="1.4"/></g>
<path d="M139 616.4H904.75" stroke="#FBC15E" stroke-width="1.39" fill="none"/>
<g fill="#000" fill-opacity="0.1"><rect x="213.72" y="615.7" width="1.2" height="1.4"/><rect x="290.45" y="615.7" width="1.2" height="1.4"/><rect x="367.17" y="615.7" width="1.2" height="1.4"/><rect x="443.9" y="615.7" width="1.2" height="1.4"/><rect x="520.62" y="615.7" width="1.2" height="1.4"/><rect x="597.35" y="615.7" width="1.2" height="1.4"/><rect x="674.07" y="615.7" width="1.2" height="1.4"/><rect x="750.8" y="615.7" width="1.2" height="1.4"/><rect x="827.52" y="615.7" width="1.2" height="1.4"/></g>
<path d="M139 629.1H904.75" stroke="#8EBA42" stroke-width="1.39" fill="none"/>
<g fill="#000" fill-opacity="0.1"><rect x="213.72" y="628.4" width="1.2" height="1.4"/><rect x="290.45" y="628.4" width="1.2" height="1.4"/><rect x="367.17" y="628.4" width="1.2" height="1.4"/><rect x="443.9" y="628.4" width="1.2" height="1.4"/><rect x="520.62" y="628.4" width="1.2" height="1.4"/><rect x="597.35" y="628.4" width="1.2" height="1.4"/><rect x="674.07" y="628.4" width="1.2" height="1.4"/><rect x="750.8" y="628.4" width="1.2" height="1.4"/><rect x="827.52" y="628.4" width="1.2" height="1.4"/></g>
<path d="M139 642H904.75" stroke="#FFB5B8" stroke-width="1.39" fill="none"/>
<g fill="#000" fill-opacity="0.1"><rect x="213.72" y="641.3" width="1.2" height="1.4"/><rect x="290.45" y="641.3" width="1.2" height="1.4"/><rect x="367.17" y="641.3" width="1.2" height="1.4"/><rect x="443.9" y="641.3" width="1.2" height="1.4"/><rect x="520.62" y="641.3" width="1.2" height="1.4"/><rect x="597.35" y="641.3" width="1.2" height="1.4"/><rect x="674.07" y="641.3" width="1.2" height="1.4"/><rect x="750.8" y="641.3" width="1.2" height="1.4"/><rect x="827.52" y="641.3" width="1.2" height="1.4"/></g>
<path d="M139 655H904.75" stroke="#E24A33" stroke-width="1.39" fill="none"/>
<g fill="#000" fill-opacity="0.1"><rect x="213.72" y="654.3" width="1.2" height="1.4"/><rect x="290.45" y="654.3" width="1.2" height="1.4"/><rect x="367.17" y="654.3" width="1.2" height="1.4"/><rect x="443.9" y="654.3" width="1.2" height="1.4"/><rect x="520.62" y="654.3" width="1.2" height="1.4"/><rect x="597.35" y="654.3" width="1.2" height="1.4"/><rect x="674.07" y="654.3" width="1.2" height="1.4"/><rect x="750.8" y="654.3" width="1.2" height="1.4"/><rect x="827.52" y="654.3" width="1.2" height="1.4"/></g>
<rect x="913.75" y="88.75" width="165.3" height="400" fill="#E5E5E5"/>
<path d="M925 103.25H949" stroke="#E24A33" stroke-width="1.39"/>
<text x="967" y="108.85" font-size="16.52" fill="#000">B_extx</text>
<path d="M925 129.68H949" stroke="#348ABD" stroke-width="1.39"/>
<text x="967" y="135.28" font-size="16.52" fill="#000">B_exty</text>
<path d="M925 156.11H949" stroke="#988ED5" stroke-width="1.39"/>
<text x="967" y="161.71" font-size="16.52" fill="#000">B_extz</text>
<path d="M925 182.54H949" stroke="#777777" stroke-width="1.39"/>
<text x="967" y="188.14" font-size="16.52" fill="#000">m.region1x</text>
<path d="M925 208.97H949" stroke="#FBC15E" stroke-width="1.39"/>
<text x="967" y="214.57" font-size="16.52" fill="#000">m.region2x</text>
<path d="M925 235.4H949" stroke="#8EBA42" stroke-width="1.39"/>
<text x="967" y="241" font-size="16.52" fill="#000">m.region3x</text>
<path d="M925 261.83H949" stroke="#FFB5B8" stroke-width="1.39"/>
<text x="967" y="267.43" font-size="16.52" fill="#000">m.region4x</text>
<path d="M925 288.26H949" stroke="#E24A33" stroke-width="1.39"/>
<text x="967" y="293.86" font-size="16.52" fill="#000">m.region5x</text>
<path d="M925 314.69H949" stroke="#348ABD" stroke-width="1.39"/>
<text x="967" y="320.29" font-size="16.52" fill="#000">m.region6x</text>
<path d="M925 341.12H949" stroke="#988ED5" stroke-width="1.39"/>
<text x="967" y="346.72" font-size="16.52" fill="#000">m.region7y</text>
<path d="M925 367.55H949" stroke="#777777" stroke-width="1.39"/>
<text x="967" y="373.15" font-size="16.52" fill="#000">m.region8y</text>
<path d="M925 393.98H949" stroke="#FBC15E" stroke-width="1.39"/>
<text x="967" y="399.58" font-size="16.52" fill="#000">m.region9y</text>
<path d="M925 420.41H949" stroke="#8EBA42" stroke-width="1.39"/>
<text x="967" y="426.01" font-size="16.52" fill="#000">m.region10y</text>
<path d="M925 446.84H949" stroke="#FFB5B8" stroke-width="1.39"/>
<text x="967" y="452.44" font-size="16.52" fill="#000">m.region11y</text>
<path d="M925 473.27H949" stroke="#E24A33" stroke-width="1.39"/>
<text x="967" y="478.87" font-size="16.52" fill="#000">m.region12y</text>
</svg></body></html>
